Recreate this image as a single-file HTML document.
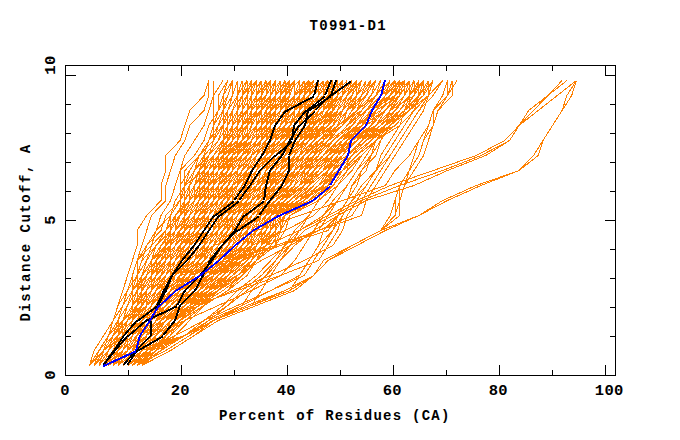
<!DOCTYPE html>
<html><head><meta charset="utf-8"><title>T0991-D1</title>
<style>
html,body{margin:0;padding:0;background:#fff;}
body{width:680px;height:440px;overflow:hidden;position:relative;font-family:"Liberation Mono",monospace;}
svg{position:absolute;left:0;top:0;}
text{font-family:"Liberation Mono",monospace;font-weight:bold;font-size:14px;letter-spacing:1.25px;fill:#000;}
.tk text{font-size:15.5px;letter-spacing:0.35px;}
.yl{letter-spacing:1.5px;}
</style></head><body>
<svg width="680" height="440" viewBox="0 0 680 440">
<rect width="680" height="440" fill="#fff"/>
<g fill="none" stroke="#ff8000" stroke-width="1" shape-rendering="crispEdges">
<path d="M94.2,365.5 L103.7,350.5 L108.5,335.5 L118.0,320.5 L122.8,305.5 L127.6,290.5 L137.1,275.5 L141.9,260.5 L156.2,245.5 L165.8,230.5 L170.6,215.5 L180.1,200.5 L180.1,185.5 L189.7,170.5 L199.2,155.5 L213.5,140.5 L213.5,125.5 L213.5,110.5 L213.5,95.5 L223.1,80.5 M94.2,365.5 L98.9,350.5 L108.5,335.5 L118.0,320.5 L122.8,305.5 L132.4,290.5 L137.1,275.5 L146.7,260.5 L156.2,245.5 L165.8,230.5 L170.6,215.5 L180.1,200.5 L180.1,185.5 L189.7,170.5 L199.2,155.5 L208.8,140.5 L213.5,125.5 L218.3,110.5 L223.1,95.5 L232.6,80.5 M89.4,365.5 L98.9,350.5 L108.5,335.5 L113.2,320.5 L122.8,305.5 L132.4,290.5 L132.4,275.5 L137.1,260.5 L151.4,245.5 L156.2,230.5 L170.6,215.5 L180.1,200.5 L180.1,185.5 L189.7,170.5 L199.2,155.5 L213.5,140.5 L223.1,125.5 L227.9,110.5 L232.6,95.5 L232.6,80.5 M94.2,365.5 L98.9,350.5 L108.5,335.5 L113.2,320.5 L118.0,305.5 L127.6,290.5 L137.1,275.5 L137.1,260.5 L146.7,245.5 L156.2,230.5 L170.6,215.5 L180.1,200.5 L180.1,185.5 L180.1,170.5 L194.4,155.5 L204.0,140.5 L208.8,125.5 L218.3,110.5 L227.9,95.5 L232.6,80.5 M94.2,365.5 L103.7,350.5 L113.2,335.5 L122.8,320.5 L132.4,305.5 L137.1,290.5 L137.1,275.5 L146.7,260.5 L156.2,245.5 L170.6,230.5 L170.6,215.5 L175.3,200.5 L184.9,185.5 L189.7,170.5 L199.2,155.5 L213.5,140.5 L213.5,125.5 L223.1,110.5 L232.6,95.5 L232.6,80.5 M94.2,365.5 L103.7,350.5 L113.2,335.5 L122.8,320.5 L127.6,305.5 L132.4,290.5 L141.9,275.5 L146.7,260.5 L151.4,245.5 L165.8,230.5 L180.1,215.5 L184.9,200.5 L184.9,185.5 L194.4,170.5 L199.2,155.5 L208.8,140.5 L223.1,125.5 L223.1,110.5 L232.6,95.5 L232.6,80.5 M94.2,365.5 L103.7,350.5 L113.2,335.5 L122.8,320.5 L132.4,305.5 L137.1,290.5 L141.9,275.5 L151.4,260.5 L156.2,245.5 L165.8,230.5 L175.3,215.5 L184.9,200.5 L189.7,185.5 L199.2,170.5 L213.5,155.5 L223.1,140.5 L223.1,125.5 L227.9,110.5 L232.6,95.5 L237.4,80.5 M94.2,365.5 L103.7,350.5 L118.0,335.5 L118.0,320.5 L122.8,305.5 L132.4,290.5 L141.9,275.5 L146.7,260.5 L156.2,245.5 L165.8,230.5 L175.3,215.5 L184.9,200.5 L194.4,185.5 L204.0,170.5 L208.8,155.5 L213.5,140.5 L218.3,125.5 L223.1,110.5 L223.1,95.5 L227.9,80.5 M94.2,365.5 L103.7,350.5 L113.2,335.5 L122.8,320.5 L132.4,305.5 L141.9,290.5 L141.9,275.5 L146.7,260.5 L156.2,245.5 L165.8,230.5 L180.1,215.5 L180.1,200.5 L189.7,185.5 L194.4,170.5 L204.0,155.5 L208.8,140.5 L218.3,125.5 L227.9,110.5 L232.6,95.5 L237.4,80.5 M94.2,365.5 L103.7,350.5 L113.2,335.5 L127.6,320.5 L132.4,305.5 L137.1,290.5 L151.4,275.5 L151.4,260.5 L161.0,245.5 L170.6,230.5 L180.1,215.5 L189.7,200.5 L194.4,185.5 L204.0,170.5 L204.0,155.5 L208.8,140.5 L218.3,125.5 L223.1,110.5 L223.1,95.5 L227.9,80.5 M98.9,365.5 L108.5,350.5 L118.0,335.5 L122.8,320.5 L132.4,305.5 L132.4,290.5 L141.9,275.5 L156.2,260.5 L161.0,245.5 L175.3,230.5 L184.9,215.5 L189.7,200.5 L189.7,185.5 L199.2,170.5 L208.8,155.5 L213.5,140.5 L223.1,125.5 L227.9,110.5 L237.4,95.5 L237.4,80.5 M98.9,365.5 L108.5,350.5 L118.0,335.5 L127.6,320.5 L132.4,305.5 L141.9,290.5 L146.7,275.5 L151.4,260.5 L165.8,245.5 L175.3,230.5 L175.3,215.5 L184.9,200.5 L184.9,185.5 L194.4,170.5 L208.8,155.5 L213.5,140.5 L223.1,125.5 L232.6,110.5 L237.4,95.5 L242.2,80.5 M94.2,365.5 L108.5,350.5 L118.0,335.5 L132.4,320.5 L132.4,305.5 L141.9,290.5 L141.9,275.5 L146.7,260.5 L151.4,245.5 L165.8,230.5 L175.3,215.5 L184.9,200.5 L189.7,185.5 L199.2,170.5 L204.0,155.5 L218.3,140.5 L227.9,125.5 L232.6,110.5 L237.4,95.5 L247.0,80.5 M94.2,365.5 L103.7,350.5 L108.5,335.5 L122.8,320.5 L127.6,305.5 L132.4,290.5 L146.7,275.5 L156.2,260.5 L161.0,245.5 L175.3,230.5 L184.9,215.5 L184.9,200.5 L189.7,185.5 L194.4,170.5 L208.8,155.5 L218.3,140.5 L223.1,125.5 L223.1,110.5 L227.9,95.5 L232.6,80.5 M94.2,365.5 L103.7,350.5 L108.5,335.5 L122.8,320.5 L127.6,305.5 L132.4,290.5 L141.9,275.5 L151.4,260.5 L156.2,245.5 L165.8,230.5 L175.3,215.5 L184.9,200.5 L194.4,185.5 L204.0,170.5 L213.5,155.5 L223.1,140.5 L232.6,125.5 L237.4,110.5 L242.2,95.5 L242.2,80.5 M98.9,365.5 L108.5,350.5 L118.0,335.5 L127.6,320.5 L137.1,305.5 L137.1,290.5 L146.7,275.5 L161.0,260.5 L165.8,245.5 L175.3,230.5 L189.7,215.5 L194.4,200.5 L199.2,185.5 L208.8,170.5 L213.5,155.5 L223.1,140.5 L227.9,125.5 L237.4,110.5 L242.2,95.5 L242.2,80.5 M94.2,365.5 L103.7,350.5 L118.0,335.5 L127.6,320.5 L132.4,305.5 L137.1,290.5 L151.4,275.5 L161.0,260.5 L170.6,245.5 L170.6,230.5 L180.1,215.5 L194.4,200.5 L204.0,185.5 L208.8,170.5 L218.3,155.5 L227.9,140.5 L227.9,125.5 L232.6,110.5 L242.2,95.5 L242.2,80.5 M98.9,365.5 L113.2,350.5 L118.0,335.5 L122.8,320.5 L132.4,305.5 L141.9,290.5 L146.7,275.5 L151.4,260.5 L170.6,245.5 L180.1,230.5 L184.9,215.5 L189.7,200.5 L199.2,185.5 L208.8,170.5 L223.1,155.5 L232.6,140.5 L232.6,125.5 L237.4,110.5 L237.4,95.5 L237.4,80.5 M94.2,365.5 L108.5,350.5 L113.2,335.5 L122.8,320.5 L132.4,305.5 L141.9,290.5 L151.4,275.5 L156.2,260.5 L165.8,245.5 L175.3,230.5 L184.9,215.5 L189.7,200.5 L194.4,185.5 L204.0,170.5 L213.5,155.5 L223.1,140.5 L227.9,125.5 L232.6,110.5 L237.4,95.5 L237.4,80.5 M98.9,365.5 L108.5,350.5 L118.0,335.5 L127.6,320.5 L137.1,305.5 L141.9,290.5 L141.9,275.5 L151.4,260.5 L161.0,245.5 L175.3,230.5 L180.1,215.5 L180.1,200.5 L184.9,185.5 L204.0,170.5 L208.8,155.5 L218.3,140.5 L223.1,125.5 L232.6,110.5 L237.4,95.5 L242.2,80.5 M98.9,365.5 L108.5,350.5 L118.0,335.5 L127.6,320.5 L141.9,305.5 L146.7,290.5 L156.2,275.5 L156.2,260.5 L165.8,245.5 L180.1,230.5 L184.9,215.5 L194.4,200.5 L204.0,185.5 L213.5,170.5 L218.3,155.5 L232.6,140.5 L242.2,125.5 L242.2,110.5 L247.0,95.5 L256.5,80.5 M94.2,365.5 L108.5,350.5 L118.0,335.5 L127.6,320.5 L132.4,305.5 L141.9,290.5 L146.7,275.5 L161.0,260.5 L170.6,245.5 L180.1,230.5 L189.7,215.5 L199.2,200.5 L199.2,185.5 L208.8,170.5 L213.5,155.5 L227.9,140.5 L227.9,125.5 L232.6,110.5 L237.4,95.5 L237.4,80.5 M94.2,365.5 L98.9,350.5 L108.5,335.5 L122.8,320.5 L132.4,305.5 L141.9,290.5 L146.7,275.5 L151.4,260.5 L165.8,245.5 L180.1,230.5 L189.7,215.5 L194.4,200.5 L199.2,185.5 L199.2,170.5 L213.5,155.5 L227.9,140.5 L227.9,125.5 L232.6,110.5 L237.4,95.5 L237.4,80.5 M94.2,365.5 L98.9,350.5 L113.2,335.5 L118.0,320.5 L127.6,305.5 L137.1,290.5 L146.7,275.5 L156.2,260.5 L170.6,245.5 L184.9,230.5 L184.9,215.5 L189.7,200.5 L194.4,185.5 L199.2,170.5 L208.8,155.5 L223.1,140.5 L227.9,125.5 L227.9,110.5 L232.6,95.5 L237.4,80.5 M94.2,365.5 L103.7,350.5 L113.2,335.5 L122.8,320.5 L132.4,305.5 L141.9,290.5 L151.4,275.5 L156.2,260.5 L165.8,245.5 L165.8,230.5 L175.3,215.5 L184.9,200.5 L189.7,185.5 L199.2,170.5 L208.8,155.5 L218.3,140.5 L223.1,125.5 L232.6,110.5 L237.4,95.5 L247.0,80.5 M94.2,365.5 L103.7,350.5 L113.2,335.5 L122.8,320.5 L137.1,305.5 L141.9,290.5 L146.7,275.5 L151.4,260.5 L161.0,245.5 L170.6,230.5 L175.3,215.5 L189.7,200.5 L194.4,185.5 L204.0,170.5 L213.5,155.5 L223.1,140.5 L237.4,125.5 L237.4,110.5 L247.0,95.5 L251.7,80.5 M98.9,365.5 L103.7,350.5 L113.2,335.5 L122.8,320.5 L132.4,305.5 L146.7,290.5 L151.4,275.5 L161.0,260.5 L175.3,245.5 L184.9,230.5 L189.7,215.5 L199.2,200.5 L204.0,185.5 L204.0,170.5 L218.3,155.5 L223.1,140.5 L232.6,125.5 L242.2,110.5 L247.0,95.5 L247.0,80.5 M98.9,365.5 L108.5,350.5 L118.0,335.5 L127.6,320.5 L137.1,305.5 L146.7,290.5 L151.4,275.5 L161.0,260.5 L175.3,245.5 L180.1,230.5 L189.7,215.5 L194.4,200.5 L204.0,185.5 L208.8,170.5 L218.3,155.5 L227.9,140.5 L227.9,125.5 L237.4,110.5 L247.0,95.5 L247.0,80.5 M94.2,365.5 L108.5,350.5 L118.0,335.5 L127.6,320.5 L137.1,305.5 L146.7,290.5 L151.4,275.5 L165.8,260.5 L170.6,245.5 L184.9,230.5 L184.9,215.5 L194.4,200.5 L194.4,185.5 L208.8,170.5 L223.1,155.5 L223.1,140.5 L227.9,125.5 L227.9,110.5 L237.4,95.5 L242.2,80.5 M94.2,365.5 L103.7,350.5 L118.0,335.5 L122.8,320.5 L132.4,305.5 L137.1,290.5 L146.7,275.5 L156.2,260.5 L165.8,245.5 L175.3,230.5 L180.1,215.5 L189.7,200.5 L194.4,185.5 L208.8,170.5 L218.3,155.5 L227.9,140.5 L232.6,125.5 L232.6,110.5 L237.4,95.5 L242.2,80.5 M98.9,365.5 L108.5,350.5 L118.0,335.5 L132.4,320.5 L137.1,305.5 L146.7,290.5 L156.2,275.5 L156.2,260.5 L165.8,245.5 L175.3,230.5 L184.9,215.5 L194.4,200.5 L199.2,185.5 L208.8,170.5 L218.3,155.5 L227.9,140.5 L227.9,125.5 L232.6,110.5 L237.4,95.5 L237.4,80.5 M94.2,365.5 L108.5,350.5 L113.2,335.5 L127.6,320.5 L137.1,305.5 L146.7,290.5 L151.4,275.5 L161.0,260.5 L165.8,245.5 L175.3,230.5 L184.9,215.5 L194.4,200.5 L199.2,185.5 L208.8,170.5 L213.5,155.5 L227.9,140.5 L237.4,125.5 L242.2,110.5 L247.0,95.5 L247.0,80.5 M98.9,365.5 L108.5,350.5 L122.8,335.5 L127.6,320.5 L137.1,305.5 L141.9,290.5 L146.7,275.5 L156.2,260.5 L170.6,245.5 L175.3,230.5 L184.9,215.5 L194.4,200.5 L199.2,185.5 L208.8,170.5 L213.5,155.5 L223.1,140.5 L232.6,125.5 L237.4,110.5 L237.4,95.5 L237.4,80.5 M94.2,365.5 L103.7,350.5 L118.0,335.5 L132.4,320.5 L137.1,305.5 L151.4,290.5 L156.2,275.5 L156.2,260.5 L170.6,245.5 L180.1,230.5 L184.9,215.5 L189.7,200.5 L199.2,185.5 L208.8,170.5 L213.5,155.5 L223.1,140.5 L227.9,125.5 L237.4,110.5 L242.2,95.5 L247.0,80.5 M94.2,365.5 L108.5,350.5 L122.8,335.5 L127.6,320.5 L137.1,305.5 L141.9,290.5 L151.4,275.5 L161.0,260.5 L175.3,245.5 L180.1,230.5 L189.7,215.5 L194.4,200.5 L194.4,185.5 L204.0,170.5 L213.5,155.5 L223.1,140.5 L227.9,125.5 L227.9,110.5 L237.4,95.5 L242.2,80.5 M94.2,365.5 L108.5,350.5 L118.0,335.5 L127.6,320.5 L137.1,305.5 L137.1,290.5 L146.7,275.5 L156.2,260.5 L165.8,245.5 L175.3,230.5 L184.9,215.5 L194.4,200.5 L199.2,185.5 L213.5,170.5 L218.3,155.5 L237.4,140.5 L237.4,125.5 L242.2,110.5 L247.0,95.5 L251.7,80.5 M94.2,365.5 L98.9,350.5 L113.2,335.5 L127.6,320.5 L137.1,305.5 L151.4,290.5 L156.2,275.5 L161.0,260.5 L175.3,245.5 L184.9,230.5 L194.4,215.5 L199.2,200.5 L199.2,185.5 L199.2,170.5 L213.5,155.5 L223.1,140.5 L232.6,125.5 L247.0,110.5 L247.0,95.5 L251.7,80.5 M94.2,365.5 L103.7,350.5 L113.2,335.5 L127.6,320.5 L137.1,305.5 L141.9,290.5 L151.4,275.5 L161.0,260.5 L170.6,245.5 L180.1,230.5 L189.7,215.5 L194.4,200.5 L199.2,185.5 L213.5,170.5 L218.3,155.5 L227.9,140.5 L237.4,125.5 L242.2,110.5 L242.2,95.5 L251.7,80.5 M98.9,365.5 L108.5,350.5 L118.0,335.5 L127.6,320.5 L132.4,305.5 L141.9,290.5 L151.4,275.5 L156.2,260.5 L170.6,245.5 L180.1,230.5 L189.7,215.5 L194.4,200.5 L199.2,185.5 L204.0,170.5 L213.5,155.5 L223.1,140.5 L237.4,125.5 L237.4,110.5 L242.2,95.5 L256.5,80.5 M94.2,365.5 L108.5,350.5 L122.8,335.5 L132.4,320.5 L141.9,305.5 L146.7,290.5 L151.4,275.5 L161.0,260.5 L170.6,245.5 L180.1,230.5 L194.4,215.5 L199.2,200.5 L204.0,185.5 L213.5,170.5 L213.5,155.5 L227.9,140.5 L237.4,125.5 L237.4,110.5 L247.0,95.5 L247.0,80.5 M98.9,365.5 L103.7,350.5 L113.2,335.5 L122.8,320.5 L132.4,305.5 L141.9,290.5 L151.4,275.5 L156.2,260.5 L170.6,245.5 L184.9,230.5 L189.7,215.5 L199.2,200.5 L208.8,185.5 L213.5,170.5 L218.3,155.5 L237.4,140.5 L247.0,125.5 L247.0,110.5 L247.0,95.5 L251.7,80.5 M98.9,365.5 L108.5,350.5 L118.0,335.5 L127.6,320.5 L137.1,305.5 L146.7,290.5 L151.4,275.5 L156.2,260.5 L165.8,245.5 L170.6,230.5 L180.1,215.5 L189.7,200.5 L199.2,185.5 L204.0,170.5 L213.5,155.5 L223.1,140.5 L232.6,125.5 L232.6,110.5 L242.2,95.5 L251.7,80.5 M98.9,365.5 L113.2,350.5 L118.0,335.5 L127.6,320.5 L132.4,305.5 L146.7,290.5 L151.4,275.5 L156.2,260.5 L170.6,245.5 L175.3,230.5 L184.9,215.5 L194.4,200.5 L194.4,185.5 L204.0,170.5 L218.3,155.5 L223.1,140.5 L232.6,125.5 L242.2,110.5 L247.0,95.5 L251.7,80.5 M98.9,365.5 L108.5,350.5 L122.8,335.5 L127.6,320.5 L137.1,305.5 L141.9,290.5 L151.4,275.5 L161.0,260.5 L175.3,245.5 L180.1,230.5 L184.9,215.5 L194.4,200.5 L199.2,185.5 L213.5,170.5 L218.3,155.5 L232.6,140.5 L237.4,125.5 L247.0,110.5 L247.0,95.5 L251.7,80.5 M98.9,365.5 L108.5,350.5 L118.0,335.5 L127.6,320.5 L137.1,305.5 L146.7,290.5 L151.4,275.5 L156.2,260.5 L170.6,245.5 L180.1,230.5 L184.9,215.5 L194.4,200.5 L199.2,185.5 L208.8,170.5 L218.3,155.5 L232.6,140.5 L237.4,125.5 L242.2,110.5 L242.2,95.5 L256.5,80.5 M94.2,365.5 L108.5,350.5 L118.0,335.5 L132.4,320.5 L141.9,305.5 L141.9,290.5 L151.4,275.5 L161.0,260.5 L170.6,245.5 L175.3,230.5 L189.7,215.5 L199.2,200.5 L199.2,185.5 L213.5,170.5 L213.5,155.5 L227.9,140.5 L232.6,125.5 L242.2,110.5 L251.7,95.5 L251.7,80.5 M94.2,365.5 L103.7,350.5 L118.0,335.5 L127.6,320.5 L137.1,305.5 L146.7,290.5 L156.2,275.5 L161.0,260.5 L165.8,245.5 L175.3,230.5 L189.7,215.5 L199.2,200.5 L208.8,185.5 L208.8,170.5 L218.3,155.5 L227.9,140.5 L242.2,125.5 L242.2,110.5 L247.0,95.5 L251.7,80.5 M98.9,365.5 L108.5,350.5 L122.8,335.5 L127.6,320.5 L137.1,305.5 L141.9,290.5 L151.4,275.5 L156.2,260.5 L165.8,245.5 L180.1,230.5 L189.7,215.5 L194.4,200.5 L204.0,185.5 L213.5,170.5 L218.3,155.5 L227.9,140.5 L237.4,125.5 L242.2,110.5 L247.0,95.5 L247.0,80.5 M98.9,365.5 L108.5,350.5 L118.0,335.5 L127.6,320.5 L137.1,305.5 L146.7,290.5 L151.4,275.5 L156.2,260.5 L165.8,245.5 L175.3,230.5 L180.1,215.5 L194.4,200.5 L194.4,185.5 L208.8,170.5 L213.5,155.5 L227.9,140.5 L237.4,125.5 L242.2,110.5 L247.0,95.5 L251.7,80.5 M98.9,365.5 L103.7,350.5 L113.2,335.5 L127.6,320.5 L132.4,305.5 L141.9,290.5 L151.4,275.5 L161.0,260.5 L175.3,245.5 L184.9,230.5 L189.7,215.5 L199.2,200.5 L204.0,185.5 L208.8,170.5 L218.3,155.5 L223.1,140.5 L232.6,125.5 L237.4,110.5 L242.2,95.5 L247.0,80.5 M98.9,365.5 L108.5,350.5 L122.8,335.5 L127.6,320.5 L137.1,305.5 L137.1,290.5 L151.4,275.5 L165.8,260.5 L165.8,245.5 L180.1,230.5 L189.7,215.5 L194.4,200.5 L204.0,185.5 L204.0,170.5 L218.3,155.5 L227.9,140.5 L237.4,125.5 L242.2,110.5 L247.0,95.5 L251.7,80.5 M98.9,365.5 L108.5,350.5 L113.2,335.5 L122.8,320.5 L137.1,305.5 L146.7,290.5 L151.4,275.5 L161.0,260.5 L170.6,245.5 L180.1,230.5 L194.4,215.5 L208.8,200.5 L208.8,185.5 L208.8,170.5 L218.3,155.5 L237.4,140.5 L242.2,125.5 L251.7,110.5 L251.7,95.5 L251.7,80.5 M98.9,365.5 L108.5,350.5 L113.2,335.5 L122.8,320.5 L141.9,305.5 L151.4,290.5 L156.2,275.5 L161.0,260.5 L170.6,245.5 L180.1,230.5 L189.7,215.5 L199.2,200.5 L199.2,185.5 L213.5,170.5 L218.3,155.5 L232.6,140.5 L237.4,125.5 L242.2,110.5 L247.0,95.5 L251.7,80.5 M94.2,365.5 L98.9,350.5 L108.5,335.5 L122.8,320.5 L132.4,305.5 L141.9,290.5 L151.4,275.5 L161.0,260.5 L170.6,245.5 L175.3,230.5 L180.1,215.5 L189.7,200.5 L199.2,185.5 L213.5,170.5 L218.3,155.5 L227.9,140.5 L237.4,125.5 L242.2,110.5 L251.7,95.5 L256.5,80.5 M98.9,365.5 L113.2,350.5 L118.0,335.5 L127.6,320.5 L137.1,305.5 L141.9,290.5 L156.2,275.5 L165.8,260.5 L175.3,245.5 L184.9,230.5 L194.4,215.5 L204.0,200.5 L213.5,185.5 L213.5,170.5 L218.3,155.5 L232.6,140.5 L242.2,125.5 L247.0,110.5 L247.0,95.5 L251.7,80.5 M98.9,365.5 L103.7,350.5 L118.0,335.5 L127.6,320.5 L137.1,305.5 L151.4,290.5 L161.0,275.5 L165.8,260.5 L175.3,245.5 L184.9,230.5 L194.4,215.5 L204.0,200.5 L213.5,185.5 L218.3,170.5 L227.9,155.5 L232.6,140.5 L242.2,125.5 L251.7,110.5 L251.7,95.5 L251.7,80.5 M98.9,365.5 L108.5,350.5 L118.0,335.5 L132.4,320.5 L141.9,305.5 L151.4,290.5 L156.2,275.5 L161.0,260.5 L175.3,245.5 L184.9,230.5 L189.7,215.5 L199.2,200.5 L204.0,185.5 L208.8,170.5 L218.3,155.5 L232.6,140.5 L237.4,125.5 L242.2,110.5 L247.0,95.5 L256.5,80.5 M98.9,365.5 L103.7,350.5 L113.2,335.5 L122.8,320.5 L132.4,305.5 L141.9,290.5 L151.4,275.5 L156.2,260.5 L165.8,245.5 L184.9,230.5 L194.4,215.5 L199.2,200.5 L204.0,185.5 L213.5,170.5 L223.1,155.5 L232.6,140.5 L237.4,125.5 L237.4,110.5 L242.2,95.5 L247.0,80.5 M98.9,365.5 L108.5,350.5 L118.0,335.5 L132.4,320.5 L137.1,305.5 L141.9,290.5 L146.7,275.5 L151.4,260.5 L161.0,245.5 L175.3,230.5 L184.9,215.5 L189.7,200.5 L194.4,185.5 L208.8,170.5 L213.5,155.5 L227.9,140.5 L237.4,125.5 L247.0,110.5 L256.5,95.5 L261.3,80.5 M98.9,365.5 L108.5,350.5 L122.8,335.5 L137.1,320.5 L141.9,305.5 L151.4,290.5 L156.2,275.5 L165.8,260.5 L170.6,245.5 L180.1,230.5 L184.9,215.5 L189.7,200.5 L204.0,185.5 L213.5,170.5 L218.3,155.5 L232.6,140.5 L242.2,125.5 L242.2,110.5 L251.7,95.5 L261.3,80.5 M103.7,365.5 L108.5,350.5 L122.8,335.5 L132.4,320.5 L141.9,305.5 L146.7,290.5 L156.2,275.5 L161.0,260.5 L165.8,245.5 L175.3,230.5 L184.9,215.5 L194.4,200.5 L204.0,185.5 L213.5,170.5 L223.1,155.5 L227.9,140.5 L237.4,125.5 L247.0,110.5 L251.7,95.5 L256.5,80.5 M98.9,365.5 L113.2,350.5 L118.0,335.5 L132.4,320.5 L141.9,305.5 L146.7,290.5 L156.2,275.5 L161.0,260.5 L175.3,245.5 L184.9,230.5 L184.9,215.5 L199.2,200.5 L204.0,185.5 L213.5,170.5 L223.1,155.5 L232.6,140.5 L237.4,125.5 L242.2,110.5 L251.7,95.5 L251.7,80.5 M98.9,365.5 L108.5,350.5 L122.8,335.5 L122.8,320.5 L137.1,305.5 L146.7,290.5 L151.4,275.5 L161.0,260.5 L170.6,245.5 L184.9,230.5 L189.7,215.5 L204.0,200.5 L208.8,185.5 L223.1,170.5 L227.9,155.5 L237.4,140.5 L242.2,125.5 L242.2,110.5 L251.7,95.5 L261.3,80.5 M103.7,365.5 L113.2,350.5 L122.8,335.5 L127.6,320.5 L137.1,305.5 L141.9,290.5 L151.4,275.5 L161.0,260.5 L170.6,245.5 L180.1,230.5 L189.7,215.5 L199.2,200.5 L204.0,185.5 L218.3,170.5 L227.9,155.5 L232.6,140.5 L237.4,125.5 L247.0,110.5 L251.7,95.5 L261.3,80.5 M94.2,365.5 L108.5,350.5 L118.0,335.5 L122.8,320.5 L132.4,305.5 L146.7,290.5 L156.2,275.5 L170.6,260.5 L175.3,245.5 L180.1,230.5 L189.7,215.5 L204.0,200.5 L208.8,185.5 L213.5,170.5 L223.1,155.5 L237.4,140.5 L242.2,125.5 L247.0,110.5 L251.7,95.5 L261.3,80.5 M98.9,365.5 L103.7,350.5 L118.0,335.5 L127.6,320.5 L137.1,305.5 L146.7,290.5 L156.2,275.5 L161.0,260.5 L170.6,245.5 L184.9,230.5 L194.4,215.5 L204.0,200.5 L213.5,185.5 L223.1,170.5 L232.6,155.5 L242.2,140.5 L251.7,125.5 L251.7,110.5 L256.5,95.5 L256.5,80.5 M98.9,365.5 L113.2,350.5 L122.8,335.5 L132.4,320.5 L141.9,305.5 L151.4,290.5 L151.4,275.5 L165.8,260.5 L170.6,245.5 L180.1,230.5 L184.9,215.5 L194.4,200.5 L204.0,185.5 L218.3,170.5 L218.3,155.5 L232.6,140.5 L242.2,125.5 L247.0,110.5 L247.0,95.5 L251.7,80.5 M98.9,365.5 L108.5,350.5 L118.0,335.5 L122.8,320.5 L137.1,305.5 L141.9,290.5 L151.4,275.5 L161.0,260.5 L170.6,245.5 L175.3,230.5 L184.9,215.5 L199.2,200.5 L208.8,185.5 L218.3,170.5 L227.9,155.5 L232.6,140.5 L237.4,125.5 L242.2,110.5 L247.0,95.5 L251.7,80.5 M98.9,365.5 L108.5,350.5 L118.0,335.5 L122.8,320.5 L137.1,305.5 L146.7,290.5 L156.2,275.5 L161.0,260.5 L165.8,245.5 L180.1,230.5 L189.7,215.5 L199.2,200.5 L208.8,185.5 L223.1,170.5 L232.6,155.5 L237.4,140.5 L247.0,125.5 L251.7,110.5 L251.7,95.5 L256.5,80.5 M94.2,365.5 L108.5,350.5 L118.0,335.5 L127.6,320.5 L132.4,305.5 L146.7,290.5 L156.2,275.5 L165.8,260.5 L170.6,245.5 L184.9,230.5 L199.2,215.5 L213.5,200.5 L213.5,185.5 L223.1,170.5 L227.9,155.5 L242.2,140.5 L247.0,125.5 L251.7,110.5 L251.7,95.5 L261.3,80.5 M98.9,365.5 L108.5,350.5 L122.8,335.5 L137.1,320.5 L146.7,305.5 L151.4,290.5 L161.0,275.5 L170.6,260.5 L175.3,245.5 L189.7,230.5 L199.2,215.5 L208.8,200.5 L213.5,185.5 L218.3,170.5 L223.1,155.5 L232.6,140.5 L242.2,125.5 L256.5,110.5 L256.5,95.5 L266.1,80.5 M98.9,365.5 L108.5,350.5 L118.0,335.5 L127.6,320.5 L137.1,305.5 L146.7,290.5 L156.2,275.5 L161.0,260.5 L175.3,245.5 L180.1,230.5 L189.7,215.5 L199.2,200.5 L204.0,185.5 L213.5,170.5 L227.9,155.5 L237.4,140.5 L242.2,125.5 L251.7,110.5 L256.5,95.5 L261.3,80.5 M98.9,365.5 L108.5,350.5 L118.0,335.5 L127.6,320.5 L141.9,305.5 L146.7,290.5 L161.0,275.5 L170.6,260.5 L180.1,245.5 L184.9,230.5 L199.2,215.5 L208.8,200.5 L213.5,185.5 L218.3,170.5 L232.6,155.5 L242.2,140.5 L247.0,125.5 L247.0,110.5 L256.5,95.5 L261.3,80.5 M98.9,365.5 L113.2,350.5 L122.8,335.5 L132.4,320.5 L146.7,305.5 L151.4,290.5 L161.0,275.5 L170.6,260.5 L175.3,245.5 L180.1,230.5 L189.7,215.5 L194.4,200.5 L204.0,185.5 L208.8,170.5 L218.3,155.5 L237.4,140.5 L237.4,125.5 L242.2,110.5 L242.2,95.5 L256.5,80.5 M98.9,365.5 L108.5,350.5 L118.0,335.5 L132.4,320.5 L141.9,305.5 L146.7,290.5 L156.2,275.5 L165.8,260.5 L170.6,245.5 L180.1,230.5 L184.9,215.5 L194.4,200.5 L208.8,185.5 L218.3,170.5 L223.1,155.5 L232.6,140.5 L237.4,125.5 L237.4,110.5 L247.0,95.5 L256.5,80.5 M98.9,365.5 L108.5,350.5 L118.0,335.5 L127.6,320.5 L141.9,305.5 L151.4,290.5 L156.2,275.5 L156.2,260.5 L165.8,245.5 L184.9,230.5 L189.7,215.5 L199.2,200.5 L208.8,185.5 L213.5,170.5 L223.1,155.5 L227.9,140.5 L237.4,125.5 L247.0,110.5 L251.7,95.5 L261.3,80.5 M94.2,365.5 L108.5,350.5 L118.0,335.5 L132.4,320.5 L137.1,305.5 L146.7,290.5 L156.2,275.5 L165.8,260.5 L175.3,245.5 L184.9,230.5 L189.7,215.5 L199.2,200.5 L199.2,185.5 L208.8,170.5 L218.3,155.5 L223.1,140.5 L232.6,125.5 L247.0,110.5 L251.7,95.5 L261.3,80.5 M98.9,365.5 L103.7,350.5 L122.8,335.5 L132.4,320.5 L141.9,305.5 L146.7,290.5 L161.0,275.5 L165.8,260.5 L180.1,245.5 L189.7,230.5 L199.2,215.5 L204.0,200.5 L208.8,185.5 L213.5,170.5 L223.1,155.5 L232.6,140.5 L237.4,125.5 L242.2,110.5 L247.0,95.5 L251.7,80.5 M98.9,365.5 L108.5,350.5 L118.0,335.5 L127.6,320.5 L137.1,305.5 L146.7,290.5 L156.2,275.5 L165.8,260.5 L175.3,245.5 L180.1,230.5 L189.7,215.5 L194.4,200.5 L208.8,185.5 L208.8,170.5 L218.3,155.5 L232.6,140.5 L237.4,125.5 L247.0,110.5 L251.7,95.5 L261.3,80.5 M98.9,365.5 L103.7,350.5 L118.0,335.5 L132.4,320.5 L141.9,305.5 L151.4,290.5 L161.0,275.5 L165.8,260.5 L175.3,245.5 L184.9,230.5 L194.4,215.5 L204.0,200.5 L204.0,185.5 L208.8,170.5 L223.1,155.5 L237.4,140.5 L242.2,125.5 L247.0,110.5 L251.7,95.5 L256.5,80.5 M98.9,365.5 L113.2,350.5 L122.8,335.5 L132.4,320.5 L146.7,305.5 L156.2,290.5 L170.6,275.5 L175.3,260.5 L184.9,245.5 L189.7,230.5 L199.2,215.5 L204.0,200.5 L208.8,185.5 L218.3,170.5 L232.6,155.5 L242.2,140.5 L247.0,125.5 L247.0,110.5 L251.7,95.5 L256.5,80.5 M98.9,365.5 L108.5,350.5 L113.2,335.5 L127.6,320.5 L137.1,305.5 L151.4,290.5 L161.0,275.5 L165.8,260.5 L180.1,245.5 L189.7,230.5 L199.2,215.5 L204.0,200.5 L208.8,185.5 L223.1,170.5 L232.6,155.5 L247.0,140.5 L251.7,125.5 L256.5,110.5 L256.5,95.5 L266.1,80.5 M98.9,365.5 L108.5,350.5 L122.8,335.5 L137.1,320.5 L141.9,305.5 L151.4,290.5 L156.2,275.5 L165.8,260.5 L170.6,245.5 L184.9,230.5 L199.2,215.5 L204.0,200.5 L208.8,185.5 L218.3,170.5 L232.6,155.5 L247.0,140.5 L247.0,125.5 L247.0,110.5 L251.7,95.5 L261.3,80.5 M103.7,365.5 L113.2,350.5 L122.8,335.5 L132.4,320.5 L137.1,305.5 L146.7,290.5 L156.2,275.5 L165.8,260.5 L170.6,245.5 L180.1,230.5 L189.7,215.5 L199.2,200.5 L208.8,185.5 L218.3,170.5 L223.1,155.5 L237.4,140.5 L247.0,125.5 L247.0,110.5 L261.3,95.5 L266.1,80.5 M103.7,365.5 L108.5,350.5 L118.0,335.5 L127.6,320.5 L141.9,305.5 L146.7,290.5 L151.4,275.5 L156.2,260.5 L170.6,245.5 L184.9,230.5 L184.9,215.5 L199.2,200.5 L208.8,185.5 L223.1,170.5 L232.6,155.5 L237.4,140.5 L242.2,125.5 L247.0,110.5 L251.7,95.5 L256.5,80.5 M98.9,365.5 L113.2,350.5 L122.8,335.5 L132.4,320.5 L146.7,305.5 L156.2,290.5 L161.0,275.5 L165.8,260.5 L170.6,245.5 L180.1,230.5 L194.4,215.5 L199.2,200.5 L204.0,185.5 L213.5,170.5 L227.9,155.5 L237.4,140.5 L247.0,125.5 L256.5,110.5 L261.3,95.5 L266.1,80.5 M98.9,365.5 L113.2,350.5 L122.8,335.5 L132.4,320.5 L146.7,305.5 L151.4,290.5 L161.0,275.5 L170.6,260.5 L180.1,245.5 L189.7,230.5 L194.4,215.5 L204.0,200.5 L208.8,185.5 L218.3,170.5 L237.4,155.5 L247.0,140.5 L251.7,125.5 L256.5,110.5 L256.5,95.5 L261.3,80.5 M98.9,365.5 L108.5,350.5 L122.8,335.5 L132.4,320.5 L146.7,305.5 L146.7,290.5 L156.2,275.5 L165.8,260.5 L175.3,245.5 L189.7,230.5 L199.2,215.5 L204.0,200.5 L204.0,185.5 L213.5,170.5 L218.3,155.5 L232.6,140.5 L242.2,125.5 L247.0,110.5 L251.7,95.5 L256.5,80.5 M103.7,365.5 L118.0,350.5 L127.6,335.5 L137.1,320.5 L141.9,305.5 L146.7,290.5 L156.2,275.5 L161.0,260.5 L170.6,245.5 L184.9,230.5 L204.0,215.5 L208.8,200.5 L213.5,185.5 L223.1,170.5 L227.9,155.5 L242.2,140.5 L256.5,125.5 L256.5,110.5 L261.3,95.5 L261.3,80.5 M103.7,365.5 L108.5,350.5 L118.0,335.5 L122.8,320.5 L137.1,305.5 L146.7,290.5 L156.2,275.5 L161.0,260.5 L170.6,245.5 L180.1,230.5 L184.9,215.5 L194.4,200.5 L208.8,185.5 L218.3,170.5 L227.9,155.5 L242.2,140.5 L247.0,125.5 L251.7,110.5 L256.5,95.5 L266.1,80.5 M98.9,365.5 L113.2,350.5 L122.8,335.5 L132.4,320.5 L146.7,305.5 L156.2,290.5 L161.0,275.5 L175.3,260.5 L189.7,245.5 L189.7,230.5 L199.2,215.5 L208.8,200.5 L223.1,185.5 L232.6,170.5 L237.4,155.5 L242.2,140.5 L247.0,125.5 L251.7,110.5 L261.3,95.5 L261.3,80.5 M98.9,365.5 L108.5,350.5 L122.8,335.5 L132.4,320.5 L141.9,305.5 L146.7,290.5 L161.0,275.5 L170.6,260.5 L180.1,245.5 L194.4,230.5 L199.2,215.5 L208.8,200.5 L218.3,185.5 L223.1,170.5 L232.6,155.5 L247.0,140.5 L247.0,125.5 L261.3,110.5 L270.8,95.5 L280.4,80.5 M103.7,365.5 L118.0,350.5 L122.8,335.5 L132.4,320.5 L141.9,305.5 L151.4,290.5 L161.0,275.5 L170.6,260.5 L175.3,245.5 L189.7,230.5 L204.0,215.5 L213.5,200.5 L218.3,185.5 L227.9,170.5 L232.6,155.5 L242.2,140.5 L247.0,125.5 L251.7,110.5 L256.5,95.5 L261.3,80.5 M103.7,365.5 L108.5,350.5 L122.8,335.5 L132.4,320.5 L141.9,305.5 L151.4,290.5 L161.0,275.5 L170.6,260.5 L180.1,245.5 L189.7,230.5 L194.4,215.5 L204.0,200.5 L213.5,185.5 L227.9,170.5 L232.6,155.5 L242.2,140.5 L247.0,125.5 L256.5,110.5 L256.5,95.5 L261.3,80.5 M98.9,365.5 L113.2,350.5 L122.8,335.5 L127.6,320.5 L141.9,305.5 L146.7,290.5 L156.2,275.5 L165.8,260.5 L175.3,245.5 L184.9,230.5 L194.4,215.5 L204.0,200.5 L213.5,185.5 L218.3,170.5 L232.6,155.5 L237.4,140.5 L242.2,125.5 L251.7,110.5 L261.3,95.5 L261.3,80.5 M103.7,365.5 L113.2,350.5 L122.8,335.5 L137.1,320.5 L146.7,305.5 L156.2,290.5 L161.0,275.5 L170.6,260.5 L184.9,245.5 L194.4,230.5 L194.4,215.5 L208.8,200.5 L218.3,185.5 L227.9,170.5 L237.4,155.5 L237.4,140.5 L247.0,125.5 L256.5,110.5 L256.5,95.5 L266.1,80.5 M103.7,365.5 L118.0,350.5 L127.6,335.5 L137.1,320.5 L141.9,305.5 L151.4,290.5 L161.0,275.5 L165.8,260.5 L180.1,245.5 L189.7,230.5 L199.2,215.5 L208.8,200.5 L213.5,185.5 L227.9,170.5 L237.4,155.5 L247.0,140.5 L251.7,125.5 L251.7,110.5 L266.1,95.5 L270.8,80.5 M98.9,365.5 L108.5,350.5 L122.8,335.5 L132.4,320.5 L141.9,305.5 L151.4,290.5 L161.0,275.5 L170.6,260.5 L175.3,245.5 L184.9,230.5 L194.4,215.5 L208.8,200.5 L213.5,185.5 L223.1,170.5 L223.1,155.5 L232.6,140.5 L247.0,125.5 L256.5,110.5 L261.3,95.5 L266.1,80.5 M103.7,365.5 L108.5,350.5 L118.0,335.5 L132.4,320.5 L141.9,305.5 L151.4,290.5 L156.2,275.5 L170.6,260.5 L180.1,245.5 L184.9,230.5 L194.4,215.5 L208.8,200.5 L208.8,185.5 L223.1,170.5 L232.6,155.5 L237.4,140.5 L247.0,125.5 L247.0,110.5 L261.3,95.5 L266.1,80.5 M108.5,365.5 L113.2,350.5 L122.8,335.5 L137.1,320.5 L141.9,305.5 L151.4,290.5 L161.0,275.5 L165.8,260.5 L175.3,245.5 L189.7,230.5 L199.2,215.5 L208.8,200.5 L218.3,185.5 L223.1,170.5 L237.4,155.5 L242.2,140.5 L251.7,125.5 L251.7,110.5 L261.3,95.5 L266.1,80.5 M98.9,365.5 L108.5,350.5 L122.8,335.5 L132.4,320.5 L137.1,305.5 L146.7,290.5 L156.2,275.5 L165.8,260.5 L170.6,245.5 L184.9,230.5 L194.4,215.5 L204.0,200.5 L208.8,185.5 L223.1,170.5 L237.4,155.5 L247.0,140.5 L256.5,125.5 L261.3,110.5 L266.1,95.5 L270.8,80.5 M98.9,365.5 L113.2,350.5 L122.8,335.5 L137.1,320.5 L141.9,305.5 L156.2,290.5 L161.0,275.5 L170.6,260.5 L184.9,245.5 L194.4,230.5 L204.0,215.5 L208.8,200.5 L208.8,185.5 L218.3,170.5 L227.9,155.5 L247.0,140.5 L247.0,125.5 L256.5,110.5 L261.3,95.5 L261.3,80.5 M103.7,365.5 L113.2,350.5 L122.8,335.5 L137.1,320.5 L141.9,305.5 L156.2,290.5 L165.8,275.5 L170.6,260.5 L184.9,245.5 L189.7,230.5 L194.4,215.5 L204.0,200.5 L208.8,185.5 L227.9,170.5 L232.6,155.5 L251.7,140.5 L256.5,125.5 L261.3,110.5 L270.8,95.5 L270.8,80.5 M103.7,365.5 L113.2,350.5 L122.8,335.5 L132.4,320.5 L146.7,305.5 L156.2,290.5 L165.8,275.5 L170.6,260.5 L184.9,245.5 L194.4,230.5 L199.2,215.5 L213.5,200.5 L213.5,185.5 L218.3,170.5 L227.9,155.5 L237.4,140.5 L247.0,125.5 L247.0,110.5 L256.5,95.5 L261.3,80.5 M103.7,365.5 L108.5,350.5 L122.8,335.5 L132.4,320.5 L141.9,305.5 L151.4,290.5 L161.0,275.5 L165.8,260.5 L170.6,245.5 L184.9,230.5 L189.7,215.5 L199.2,200.5 L213.5,185.5 L213.5,170.5 L223.1,155.5 L232.6,140.5 L242.2,125.5 L251.7,110.5 L256.5,95.5 L261.3,80.5 M98.9,365.5 L113.2,350.5 L122.8,335.5 L132.4,320.5 L146.7,305.5 L151.4,290.5 L156.2,275.5 L165.8,260.5 L180.1,245.5 L189.7,230.5 L199.2,215.5 L213.5,200.5 L218.3,185.5 L223.1,170.5 L237.4,155.5 L242.2,140.5 L256.5,125.5 L256.5,110.5 L266.1,95.5 L266.1,80.5 M98.9,365.5 L113.2,350.5 L122.8,335.5 L132.4,320.5 L141.9,305.5 L151.4,290.5 L165.8,275.5 L170.6,260.5 L170.6,245.5 L180.1,230.5 L189.7,215.5 L199.2,200.5 L208.8,185.5 L218.3,170.5 L223.1,155.5 L242.2,140.5 L242.2,125.5 L261.3,110.5 L261.3,95.5 L266.1,80.5 M103.7,365.5 L118.0,350.5 L122.8,335.5 L137.1,320.5 L141.9,305.5 L146.7,290.5 L161.0,275.5 L170.6,260.5 L175.3,245.5 L189.7,230.5 L199.2,215.5 L208.8,200.5 L208.8,185.5 L218.3,170.5 L232.6,155.5 L247.0,140.5 L256.5,125.5 L261.3,110.5 L266.1,95.5 L270.8,80.5 M103.7,365.5 L113.2,350.5 L127.6,335.5 L132.4,320.5 L141.9,305.5 L151.4,290.5 L161.0,275.5 L170.6,260.5 L180.1,245.5 L189.7,230.5 L199.2,215.5 L208.8,200.5 L213.5,185.5 L218.3,170.5 L223.1,155.5 L247.0,140.5 L251.7,125.5 L256.5,110.5 L256.5,95.5 L266.1,80.5 M103.7,365.5 L118.0,350.5 L127.6,335.5 L137.1,320.5 L146.7,305.5 L151.4,290.5 L161.0,275.5 L170.6,260.5 L175.3,245.5 L189.7,230.5 L194.4,215.5 L208.8,200.5 L208.8,185.5 L218.3,170.5 L223.1,155.5 L237.4,140.5 L247.0,125.5 L256.5,110.5 L261.3,95.5 L266.1,80.5 M103.7,365.5 L113.2,350.5 L122.8,335.5 L132.4,320.5 L137.1,305.5 L146.7,290.5 L156.2,275.5 L170.6,260.5 L180.1,245.5 L189.7,230.5 L194.4,215.5 L204.0,200.5 L213.5,185.5 L223.1,170.5 L237.4,155.5 L251.7,140.5 L256.5,125.5 L256.5,110.5 L261.3,95.5 L270.8,80.5 M108.5,365.5 L118.0,350.5 L122.8,335.5 L132.4,320.5 L137.1,305.5 L151.4,290.5 L161.0,275.5 L170.6,260.5 L184.9,245.5 L194.4,230.5 L199.2,215.5 L213.5,200.5 L218.3,185.5 L227.9,170.5 L227.9,155.5 L237.4,140.5 L237.4,125.5 L247.0,110.5 L256.5,95.5 L270.8,80.5 M103.7,365.5 L113.2,350.5 L122.8,335.5 L137.1,320.5 L141.9,305.5 L151.4,290.5 L161.0,275.5 L170.6,260.5 L180.1,245.5 L194.4,230.5 L204.0,215.5 L213.5,200.5 L218.3,185.5 L223.1,170.5 L232.6,155.5 L242.2,140.5 L247.0,125.5 L256.5,110.5 L270.8,95.5 L275.6,80.5 M103.7,365.5 L113.2,350.5 L127.6,335.5 L137.1,320.5 L146.7,305.5 L156.2,290.5 L165.8,275.5 L170.6,260.5 L184.9,245.5 L194.4,230.5 L204.0,215.5 L213.5,200.5 L223.1,185.5 L227.9,170.5 L227.9,155.5 L242.2,140.5 L251.7,125.5 L256.5,110.5 L261.3,95.5 L270.8,80.5 M98.9,365.5 L113.2,350.5 L127.6,335.5 L141.9,320.5 L146.7,305.5 L156.2,290.5 L165.8,275.5 L170.6,260.5 L180.1,245.5 L189.7,230.5 L204.0,215.5 L208.8,200.5 L213.5,185.5 L227.9,170.5 L232.6,155.5 L242.2,140.5 L251.7,125.5 L256.5,110.5 L261.3,95.5 L266.1,80.5 M103.7,365.5 L118.0,350.5 L122.8,335.5 L137.1,320.5 L146.7,305.5 L151.4,290.5 L161.0,275.5 L170.6,260.5 L184.9,245.5 L199.2,230.5 L204.0,215.5 L213.5,200.5 L223.1,185.5 L232.6,170.5 L237.4,155.5 L251.7,140.5 L256.5,125.5 L261.3,110.5 L266.1,95.5 L275.6,80.5 M103.7,365.5 L118.0,350.5 L127.6,335.5 L137.1,320.5 L151.4,305.5 L156.2,290.5 L170.6,275.5 L170.6,260.5 L184.9,245.5 L194.4,230.5 L208.8,215.5 L213.5,200.5 L218.3,185.5 L223.1,170.5 L232.6,155.5 L247.0,140.5 L251.7,125.5 L256.5,110.5 L266.1,95.5 L266.1,80.5 M103.7,365.5 L113.2,350.5 L127.6,335.5 L141.9,320.5 L146.7,305.5 L151.4,290.5 L165.8,275.5 L170.6,260.5 L184.9,245.5 L194.4,230.5 L199.2,215.5 L213.5,200.5 L223.1,185.5 L232.6,170.5 L237.4,155.5 L247.0,140.5 L256.5,125.5 L256.5,110.5 L266.1,95.5 L266.1,80.5 M98.9,365.5 L113.2,350.5 L122.8,335.5 L137.1,320.5 L146.7,305.5 L151.4,290.5 L161.0,275.5 L170.6,260.5 L184.9,245.5 L189.7,230.5 L204.0,215.5 L213.5,200.5 L223.1,185.5 L232.6,170.5 L242.2,155.5 L256.5,140.5 L261.3,125.5 L266.1,110.5 L270.8,95.5 L270.8,80.5 M103.7,365.5 L108.5,350.5 L122.8,335.5 L132.4,320.5 L146.7,305.5 L156.2,290.5 L165.8,275.5 L175.3,260.5 L184.9,245.5 L189.7,230.5 L194.4,215.5 L204.0,200.5 L218.3,185.5 L227.9,170.5 L232.6,155.5 L247.0,140.5 L256.5,125.5 L261.3,110.5 L266.1,95.5 L270.8,80.5 M103.7,365.5 L108.5,350.5 L122.8,335.5 L137.1,320.5 L151.4,305.5 L156.2,290.5 L165.8,275.5 L170.6,260.5 L184.9,245.5 L194.4,230.5 L199.2,215.5 L213.5,200.5 L218.3,185.5 L227.9,170.5 L237.4,155.5 L242.2,140.5 L251.7,125.5 L261.3,110.5 L266.1,95.5 L270.8,80.5 M103.7,365.5 L113.2,350.5 L122.8,335.5 L141.9,320.5 L151.4,305.5 L161.0,290.5 L165.8,275.5 L180.1,260.5 L184.9,245.5 L189.7,230.5 L204.0,215.5 L213.5,200.5 L218.3,185.5 L227.9,170.5 L237.4,155.5 L242.2,140.5 L251.7,125.5 L261.3,110.5 L266.1,95.5 L275.6,80.5 M103.7,365.5 L118.0,350.5 L127.6,335.5 L141.9,320.5 L146.7,305.5 L156.2,290.5 L165.8,275.5 L175.3,260.5 L184.9,245.5 L194.4,230.5 L204.0,215.5 L213.5,200.5 L223.1,185.5 L232.6,170.5 L242.2,155.5 L256.5,140.5 L266.1,125.5 L266.1,110.5 L275.6,95.5 L280.4,80.5 M103.7,365.5 L113.2,350.5 L122.8,335.5 L137.1,320.5 L151.4,305.5 L156.2,290.5 L161.0,275.5 L165.8,260.5 L180.1,245.5 L189.7,230.5 L199.2,215.5 L208.8,200.5 L223.1,185.5 L232.6,170.5 L242.2,155.5 L247.0,140.5 L256.5,125.5 L266.1,110.5 L275.6,95.5 L275.6,80.5 M103.7,365.5 L118.0,350.5 L132.4,335.5 L137.1,320.5 L146.7,305.5 L156.2,290.5 L165.8,275.5 L175.3,260.5 L180.1,245.5 L194.4,230.5 L199.2,215.5 L213.5,200.5 L218.3,185.5 L227.9,170.5 L232.6,155.5 L242.2,140.5 L256.5,125.5 L256.5,110.5 L270.8,95.5 L270.8,80.5 M103.7,365.5 L113.2,350.5 L127.6,335.5 L137.1,320.5 L146.7,305.5 L156.2,290.5 L165.8,275.5 L170.6,260.5 L175.3,245.5 L189.7,230.5 L199.2,215.5 L213.5,200.5 L218.3,185.5 L227.9,170.5 L237.4,155.5 L247.0,140.5 L256.5,125.5 L261.3,110.5 L266.1,95.5 L270.8,80.5 M103.7,365.5 L118.0,350.5 L127.6,335.5 L137.1,320.5 L146.7,305.5 L156.2,290.5 L165.8,275.5 L170.6,260.5 L180.1,245.5 L189.7,230.5 L199.2,215.5 L213.5,200.5 L218.3,185.5 L227.9,170.5 L237.4,155.5 L247.0,140.5 L256.5,125.5 L266.1,110.5 L280.4,95.5 L280.4,80.5 M108.5,365.5 L113.2,350.5 L127.6,335.5 L137.1,320.5 L146.7,305.5 L156.2,290.5 L165.8,275.5 L170.6,260.5 L180.1,245.5 L194.4,230.5 L204.0,215.5 L213.5,200.5 L218.3,185.5 L227.9,170.5 L232.6,155.5 L251.7,140.5 L261.3,125.5 L266.1,110.5 L270.8,95.5 L270.8,80.5 M108.5,365.5 L118.0,350.5 L127.6,335.5 L137.1,320.5 L146.7,305.5 L156.2,290.5 L165.8,275.5 L170.6,260.5 L184.9,245.5 L194.4,230.5 L208.8,215.5 L213.5,200.5 L223.1,185.5 L237.4,170.5 L242.2,155.5 L251.7,140.5 L256.5,125.5 L261.3,110.5 L266.1,95.5 L270.8,80.5 M103.7,365.5 L118.0,350.5 L132.4,335.5 L141.9,320.5 L151.4,305.5 L156.2,290.5 L165.8,275.5 L175.3,260.5 L180.1,245.5 L194.4,230.5 L199.2,215.5 L208.8,200.5 L218.3,185.5 L223.1,170.5 L242.2,155.5 L251.7,140.5 L261.3,125.5 L270.8,110.5 L275.6,95.5 L280.4,80.5 M108.5,365.5 L118.0,350.5 L127.6,335.5 L137.1,320.5 L146.7,305.5 L156.2,290.5 L165.8,275.5 L175.3,260.5 L189.7,245.5 L199.2,230.5 L208.8,215.5 L218.3,200.5 L223.1,185.5 L227.9,170.5 L242.2,155.5 L247.0,140.5 L261.3,125.5 L261.3,110.5 L275.6,95.5 L275.6,80.5 M108.5,365.5 L118.0,350.5 L127.6,335.5 L141.9,320.5 L146.7,305.5 L151.4,290.5 L165.8,275.5 L175.3,260.5 L184.9,245.5 L189.7,230.5 L199.2,215.5 L208.8,200.5 L218.3,185.5 L227.9,170.5 L232.6,155.5 L242.2,140.5 L256.5,125.5 L270.8,110.5 L275.6,95.5 L275.6,80.5 M103.7,365.5 L118.0,350.5 L127.6,335.5 L137.1,320.5 L146.7,305.5 L156.2,290.5 L170.6,275.5 L180.1,260.5 L189.7,245.5 L204.0,230.5 L208.8,215.5 L218.3,200.5 L223.1,185.5 L232.6,170.5 L242.2,155.5 L251.7,140.5 L256.5,125.5 L256.5,110.5 L266.1,95.5 L275.6,80.5 M103.7,365.5 L118.0,350.5 L122.8,335.5 L132.4,320.5 L146.7,305.5 L156.2,290.5 L165.8,275.5 L180.1,260.5 L189.7,245.5 L194.4,230.5 L199.2,215.5 L213.5,200.5 L223.1,185.5 L227.9,170.5 L242.2,155.5 L247.0,140.5 L261.3,125.5 L266.1,110.5 L275.6,95.5 L285.1,80.5 M103.7,365.5 L113.2,350.5 L127.6,335.5 L141.9,320.5 L146.7,305.5 L156.2,290.5 L165.8,275.5 L175.3,260.5 L189.7,245.5 L199.2,230.5 L204.0,215.5 L213.5,200.5 L213.5,185.5 L227.9,170.5 L237.4,155.5 L251.7,140.5 L256.5,125.5 L261.3,110.5 L270.8,95.5 L280.4,80.5 M103.7,365.5 L118.0,350.5 L122.8,335.5 L132.4,320.5 L146.7,305.5 L156.2,290.5 L161.0,275.5 L170.6,260.5 L184.9,245.5 L194.4,230.5 L199.2,215.5 L208.8,200.5 L213.5,185.5 L227.9,170.5 L237.4,155.5 L242.2,140.5 L256.5,125.5 L261.3,110.5 L270.8,95.5 L280.4,80.5 M103.7,365.5 L113.2,350.5 L122.8,335.5 L132.4,320.5 L141.9,305.5 L151.4,290.5 L165.8,275.5 L175.3,260.5 L184.9,245.5 L204.0,230.5 L204.0,215.5 L213.5,200.5 L223.1,185.5 L232.6,170.5 L242.2,155.5 L251.7,140.5 L266.1,125.5 L270.8,110.5 L270.8,95.5 L280.4,80.5 M103.7,365.5 L113.2,350.5 L127.6,335.5 L137.1,320.5 L146.7,305.5 L161.0,290.5 L165.8,275.5 L175.3,260.5 L189.7,245.5 L194.4,230.5 L208.8,215.5 L213.5,200.5 L223.1,185.5 L232.6,170.5 L232.6,155.5 L242.2,140.5 L247.0,125.5 L261.3,110.5 L266.1,95.5 L275.6,80.5 M108.5,365.5 L118.0,350.5 L132.4,335.5 L137.1,320.5 L151.4,305.5 L161.0,290.5 L170.6,275.5 L180.1,260.5 L189.7,245.5 L194.4,230.5 L204.0,215.5 L213.5,200.5 L218.3,185.5 L223.1,170.5 L232.6,155.5 L247.0,140.5 L251.7,125.5 L251.7,110.5 L261.3,95.5 L270.8,80.5 M108.5,365.5 L113.2,350.5 L122.8,335.5 L137.1,320.5 L146.7,305.5 L161.0,290.5 L170.6,275.5 L180.1,260.5 L189.7,245.5 L199.2,230.5 L204.0,215.5 L218.3,200.5 L223.1,185.5 L227.9,170.5 L237.4,155.5 L247.0,140.5 L261.3,125.5 L266.1,110.5 L280.4,95.5 L285.1,80.5 M103.7,365.5 L118.0,350.5 L127.6,335.5 L137.1,320.5 L146.7,305.5 L156.2,290.5 L170.6,275.5 L175.3,260.5 L189.7,245.5 L199.2,230.5 L204.0,215.5 L208.8,200.5 L218.3,185.5 L227.9,170.5 L242.2,155.5 L251.7,140.5 L261.3,125.5 L266.1,110.5 L275.6,95.5 L275.6,80.5 M103.7,365.5 L113.2,350.5 L122.8,335.5 L132.4,320.5 L141.9,305.5 L151.4,290.5 L165.8,275.5 L175.3,260.5 L184.9,245.5 L189.7,230.5 L199.2,215.5 L208.8,200.5 L218.3,185.5 L223.1,170.5 L232.6,155.5 L247.0,140.5 L247.0,125.5 L256.5,110.5 L266.1,95.5 L275.6,80.5 M103.7,365.5 L113.2,350.5 L127.6,335.5 L137.1,320.5 L146.7,305.5 L156.2,290.5 L170.6,275.5 L175.3,260.5 L189.7,245.5 L199.2,230.5 L208.8,215.5 L218.3,200.5 L223.1,185.5 L232.6,170.5 L242.2,155.5 L251.7,140.5 L261.3,125.5 L270.8,110.5 L275.6,95.5 L275.6,80.5 M103.7,365.5 L118.0,350.5 L127.6,335.5 L137.1,320.5 L151.4,305.5 L161.0,290.5 L165.8,275.5 L175.3,260.5 L189.7,245.5 L194.4,230.5 L199.2,215.5 L218.3,200.5 L227.9,185.5 L237.4,170.5 L251.7,155.5 L261.3,140.5 L261.3,125.5 L270.8,110.5 L280.4,95.5 L285.1,80.5 M103.7,365.5 L118.0,350.5 L132.4,335.5 L137.1,320.5 L151.4,305.5 L161.0,290.5 L170.6,275.5 L180.1,260.5 L189.7,245.5 L204.0,230.5 L208.8,215.5 L213.5,200.5 L218.3,185.5 L237.4,170.5 L247.0,155.5 L261.3,140.5 L270.8,125.5 L280.4,110.5 L285.1,95.5 L285.1,80.5 M103.7,365.5 L113.2,350.5 L122.8,335.5 L137.1,320.5 L141.9,305.5 L156.2,290.5 L170.6,275.5 L180.1,260.5 L189.7,245.5 L194.4,230.5 L199.2,215.5 L208.8,200.5 L218.3,185.5 L237.4,170.5 L242.2,155.5 L256.5,140.5 L266.1,125.5 L270.8,110.5 L285.1,95.5 L285.1,80.5 M103.7,365.5 L118.0,350.5 L132.4,335.5 L146.7,320.5 L161.0,305.5 L165.8,290.5 L175.3,275.5 L189.7,260.5 L194.4,245.5 L204.0,230.5 L208.8,215.5 L218.3,200.5 L223.1,185.5 L237.4,170.5 L242.2,155.5 L247.0,140.5 L256.5,125.5 L266.1,110.5 L275.6,95.5 L285.1,80.5 M103.7,365.5 L118.0,350.5 L127.6,335.5 L137.1,320.5 L146.7,305.5 L156.2,290.5 L175.3,275.5 L184.9,260.5 L189.7,245.5 L204.0,230.5 L213.5,215.5 L223.1,200.5 L232.6,185.5 L242.2,170.5 L251.7,155.5 L261.3,140.5 L270.8,125.5 L280.4,110.5 L280.4,95.5 L285.1,80.5 M103.7,365.5 L118.0,350.5 L132.4,335.5 L141.9,320.5 L151.4,305.5 L165.8,290.5 L180.1,275.5 L180.1,260.5 L189.7,245.5 L204.0,230.5 L208.8,215.5 L218.3,200.5 L227.9,185.5 L237.4,170.5 L242.2,155.5 L256.5,140.5 L261.3,125.5 L270.8,110.5 L275.6,95.5 L275.6,80.5 M103.7,365.5 L113.2,350.5 L122.8,335.5 L127.6,320.5 L146.7,305.5 L156.2,290.5 L165.8,275.5 L175.3,260.5 L180.1,245.5 L199.2,230.5 L204.0,215.5 L218.3,200.5 L223.1,185.5 L232.6,170.5 L242.2,155.5 L256.5,140.5 L256.5,125.5 L261.3,110.5 L270.8,95.5 L280.4,80.5 M103.7,365.5 L118.0,350.5 L127.6,335.5 L141.9,320.5 L151.4,305.5 L161.0,290.5 L170.6,275.5 L180.1,260.5 L189.7,245.5 L194.4,230.5 L204.0,215.5 L208.8,200.5 L218.3,185.5 L237.4,170.5 L251.7,155.5 L261.3,140.5 L266.1,125.5 L270.8,110.5 L270.8,95.5 L270.8,80.5 M108.5,365.5 L122.8,350.5 L132.4,335.5 L137.1,320.5 L146.7,305.5 L156.2,290.5 L165.8,275.5 L175.3,260.5 L184.9,245.5 L194.4,230.5 L199.2,215.5 L208.8,200.5 L223.1,185.5 L237.4,170.5 L242.2,155.5 L261.3,140.5 L261.3,125.5 L270.8,110.5 L275.6,95.5 L280.4,80.5 M108.5,365.5 L118.0,350.5 L132.4,335.5 L141.9,320.5 L146.7,305.5 L156.2,290.5 L170.6,275.5 L175.3,260.5 L189.7,245.5 L204.0,230.5 L208.8,215.5 L218.3,200.5 L227.9,185.5 L232.6,170.5 L242.2,155.5 L251.7,140.5 L256.5,125.5 L270.8,110.5 L280.4,95.5 L280.4,80.5 M108.5,365.5 L118.0,350.5 L132.4,335.5 L141.9,320.5 L151.4,305.5 L161.0,290.5 L170.6,275.5 L180.1,260.5 L180.1,245.5 L199.2,230.5 L208.8,215.5 L213.5,200.5 L218.3,185.5 L227.9,170.5 L242.2,155.5 L251.7,140.5 L261.3,125.5 L266.1,110.5 L270.8,95.5 L280.4,80.5 M103.7,365.5 L118.0,350.5 L127.6,335.5 L141.9,320.5 L151.4,305.5 L165.8,290.5 L175.3,275.5 L184.9,260.5 L194.4,245.5 L199.2,230.5 L208.8,215.5 L218.3,200.5 L227.9,185.5 L232.6,170.5 L242.2,155.5 L247.0,140.5 L261.3,125.5 L270.8,110.5 L280.4,95.5 L280.4,80.5 M103.7,365.5 L118.0,350.5 L127.6,335.5 L137.1,320.5 L151.4,305.5 L156.2,290.5 L165.8,275.5 L180.1,260.5 L189.7,245.5 L199.2,230.5 L204.0,215.5 L218.3,200.5 L227.9,185.5 L237.4,170.5 L251.7,155.5 L256.5,140.5 L261.3,125.5 L275.6,110.5 L280.4,95.5 L285.1,80.5 M108.5,365.5 L118.0,350.5 L122.8,335.5 L137.1,320.5 L151.4,305.5 L161.0,290.5 L175.3,275.5 L184.9,260.5 L189.7,245.5 L199.2,230.5 L208.8,215.5 L218.3,200.5 L218.3,185.5 L232.6,170.5 L237.4,155.5 L251.7,140.5 L256.5,125.5 L266.1,110.5 L270.8,95.5 L275.6,80.5 M108.5,365.5 L118.0,350.5 L127.6,335.5 L137.1,320.5 L146.7,305.5 L156.2,290.5 L170.6,275.5 L180.1,260.5 L194.4,245.5 L204.0,230.5 L213.5,215.5 L223.1,200.5 L227.9,185.5 L232.6,170.5 L247.0,155.5 L261.3,140.5 L266.1,125.5 L270.8,110.5 L280.4,95.5 L289.9,80.5 M103.7,365.5 L118.0,350.5 L132.4,335.5 L141.9,320.5 L156.2,305.5 L161.0,290.5 L170.6,275.5 L184.9,260.5 L199.2,245.5 L208.8,230.5 L213.5,215.5 L223.1,200.5 L227.9,185.5 L242.2,170.5 L251.7,155.5 L256.5,140.5 L261.3,125.5 L270.8,110.5 L280.4,95.5 L285.1,80.5 M108.5,365.5 L118.0,350.5 L127.6,335.5 L137.1,320.5 L151.4,305.5 L161.0,290.5 L170.6,275.5 L180.1,260.5 L184.9,245.5 L199.2,230.5 L204.0,215.5 L213.5,200.5 L223.1,185.5 L232.6,170.5 L247.0,155.5 L256.5,140.5 L266.1,125.5 L275.6,110.5 L275.6,95.5 L285.1,80.5 M103.7,365.5 L118.0,350.5 L127.6,335.5 L141.9,320.5 L151.4,305.5 L165.8,290.5 L175.3,275.5 L180.1,260.5 L184.9,245.5 L199.2,230.5 L204.0,215.5 L218.3,200.5 L227.9,185.5 L237.4,170.5 L247.0,155.5 L256.5,140.5 L266.1,125.5 L270.8,110.5 L275.6,95.5 L280.4,80.5 M108.5,365.5 L118.0,350.5 L132.4,335.5 L137.1,320.5 L146.7,305.5 L156.2,290.5 L165.8,275.5 L180.1,260.5 L189.7,245.5 L199.2,230.5 L208.8,215.5 L218.3,200.5 L227.9,185.5 L237.4,170.5 L247.0,155.5 L251.7,140.5 L256.5,125.5 L270.8,110.5 L275.6,95.5 L289.9,80.5 M108.5,365.5 L118.0,350.5 L132.4,335.5 L141.9,320.5 L156.2,305.5 L165.8,290.5 L175.3,275.5 L184.9,260.5 L194.4,245.5 L199.2,230.5 L208.8,215.5 L218.3,200.5 L227.9,185.5 L237.4,170.5 L247.0,155.5 L256.5,140.5 L266.1,125.5 L266.1,110.5 L275.6,95.5 L280.4,80.5 M103.7,365.5 L118.0,350.5 L132.4,335.5 L141.9,320.5 L156.2,305.5 L165.8,290.5 L175.3,275.5 L180.1,260.5 L189.7,245.5 L199.2,230.5 L208.8,215.5 L218.3,200.5 L237.4,185.5 L237.4,170.5 L251.7,155.5 L261.3,140.5 L266.1,125.5 L275.6,110.5 L285.1,95.5 L285.1,80.5 M108.5,365.5 L118.0,350.5 L127.6,335.5 L137.1,320.5 L146.7,305.5 L156.2,290.5 L170.6,275.5 L180.1,260.5 L189.7,245.5 L208.8,230.5 L213.5,215.5 L223.1,200.5 L227.9,185.5 L237.4,170.5 L242.2,155.5 L247.0,140.5 L256.5,125.5 L270.8,110.5 L280.4,95.5 L285.1,80.5 M108.5,365.5 L118.0,350.5 L132.4,335.5 L146.7,320.5 L156.2,305.5 L170.6,290.5 L175.3,275.5 L184.9,260.5 L194.4,245.5 L204.0,230.5 L204.0,215.5 L213.5,200.5 L223.1,185.5 L232.6,170.5 L247.0,155.5 L256.5,140.5 L270.8,125.5 L280.4,110.5 L289.9,95.5 L294.7,80.5 M108.5,365.5 L118.0,350.5 L127.6,335.5 L141.9,320.5 L156.2,305.5 L170.6,290.5 L175.3,275.5 L189.7,260.5 L199.2,245.5 L204.0,230.5 L213.5,215.5 L223.1,200.5 L232.6,185.5 L237.4,170.5 L242.2,155.5 L256.5,140.5 L266.1,125.5 L275.6,110.5 L285.1,95.5 L294.7,80.5 M103.7,365.5 L118.0,350.5 L127.6,335.5 L141.9,320.5 L156.2,305.5 L165.8,290.5 L175.3,275.5 L189.7,260.5 L194.4,245.5 L204.0,230.5 L218.3,215.5 L227.9,200.5 L227.9,185.5 L237.4,170.5 L242.2,155.5 L251.7,140.5 L266.1,125.5 L280.4,110.5 L285.1,95.5 L294.7,80.5 M108.5,365.5 L122.8,350.5 L127.6,335.5 L141.9,320.5 L151.4,305.5 L161.0,290.5 L170.6,275.5 L180.1,260.5 L189.7,245.5 L194.4,230.5 L204.0,215.5 L218.3,200.5 L227.9,185.5 L242.2,170.5 L251.7,155.5 L261.3,140.5 L266.1,125.5 L270.8,110.5 L280.4,95.5 L285.1,80.5 M108.5,365.5 L118.0,350.5 L127.6,335.5 L141.9,320.5 L156.2,305.5 L161.0,290.5 L170.6,275.5 L184.9,260.5 L194.4,245.5 L208.8,230.5 L213.5,215.5 L223.1,200.5 L227.9,185.5 L242.2,170.5 L251.7,155.5 L261.3,140.5 L266.1,125.5 L280.4,110.5 L294.7,95.5 L294.7,80.5 M103.7,365.5 L118.0,350.5 L132.4,335.5 L137.1,320.5 L146.7,305.5 L156.2,290.5 L170.6,275.5 L184.9,260.5 L199.2,245.5 L204.0,230.5 L213.5,215.5 L227.9,200.5 L232.6,185.5 L242.2,170.5 L256.5,155.5 L261.3,140.5 L270.8,125.5 L275.6,110.5 L285.1,95.5 L285.1,80.5 M108.5,365.5 L118.0,350.5 L132.4,335.5 L137.1,320.5 L146.7,305.5 L161.0,290.5 L170.6,275.5 L180.1,260.5 L194.4,245.5 L199.2,230.5 L213.5,215.5 L223.1,200.5 L232.6,185.5 L242.2,170.5 L256.5,155.5 L261.3,140.5 L270.8,125.5 L285.1,110.5 L289.9,95.5 L294.7,80.5 M108.5,365.5 L118.0,350.5 L122.8,335.5 L137.1,320.5 L146.7,305.5 L156.2,290.5 L165.8,275.5 L180.1,260.5 L194.4,245.5 L199.2,230.5 L213.5,215.5 L223.1,200.5 L227.9,185.5 L237.4,170.5 L247.0,155.5 L251.7,140.5 L261.3,125.5 L275.6,110.5 L285.1,95.5 L285.1,80.5 M108.5,365.5 L122.8,350.5 L132.4,335.5 L141.9,320.5 L156.2,305.5 L161.0,290.5 L170.6,275.5 L180.1,260.5 L189.7,245.5 L204.0,230.5 L208.8,215.5 L223.1,200.5 L227.9,185.5 L237.4,170.5 L251.7,155.5 L261.3,140.5 L270.8,125.5 L270.8,110.5 L280.4,95.5 L280.4,80.5 M108.5,365.5 L122.8,350.5 L137.1,335.5 L146.7,320.5 L156.2,305.5 L170.6,290.5 L180.1,275.5 L189.7,260.5 L199.2,245.5 L213.5,230.5 L213.5,215.5 L218.3,200.5 L227.9,185.5 L237.4,170.5 L251.7,155.5 L261.3,140.5 L270.8,125.5 L280.4,110.5 L285.1,95.5 L289.9,80.5 M108.5,365.5 L118.0,350.5 L132.4,335.5 L146.7,320.5 L151.4,305.5 L165.8,290.5 L175.3,275.5 L189.7,260.5 L199.2,245.5 L208.8,230.5 L218.3,215.5 L223.1,200.5 L227.9,185.5 L242.2,170.5 L256.5,155.5 L261.3,140.5 L275.6,125.5 L280.4,110.5 L280.4,95.5 L289.9,80.5 M108.5,365.5 L122.8,350.5 L132.4,335.5 L141.9,320.5 L146.7,305.5 L161.0,290.5 L175.3,275.5 L184.9,260.5 L189.7,245.5 L204.0,230.5 L218.3,215.5 L227.9,200.5 L232.6,185.5 L237.4,170.5 L242.2,155.5 L256.5,140.5 L270.8,125.5 L275.6,110.5 L285.1,95.5 L289.9,80.5 M108.5,365.5 L122.8,350.5 L137.1,335.5 L141.9,320.5 L156.2,305.5 L170.6,290.5 L175.3,275.5 L184.9,260.5 L194.4,245.5 L204.0,230.5 L213.5,215.5 L218.3,200.5 L227.9,185.5 L237.4,170.5 L247.0,155.5 L256.5,140.5 L270.8,125.5 L280.4,110.5 L285.1,95.5 L285.1,80.5 M103.7,365.5 L122.8,350.5 L132.4,335.5 L137.1,320.5 L151.4,305.5 L165.8,290.5 L170.6,275.5 L180.1,260.5 L194.4,245.5 L199.2,230.5 L213.5,215.5 L223.1,200.5 L232.6,185.5 L242.2,170.5 L251.7,155.5 L261.3,140.5 L270.8,125.5 L275.6,110.5 L285.1,95.5 L294.7,80.5 M113.2,365.5 L122.8,350.5 L132.4,335.5 L146.7,320.5 L156.2,305.5 L165.8,290.5 L175.3,275.5 L189.7,260.5 L199.2,245.5 L208.8,230.5 L213.5,215.5 L227.9,200.5 L237.4,185.5 L242.2,170.5 L256.5,155.5 L270.8,140.5 L270.8,125.5 L280.4,110.5 L285.1,95.5 L285.1,80.5 M108.5,365.5 L122.8,350.5 L132.4,335.5 L141.9,320.5 L146.7,305.5 L161.0,290.5 L170.6,275.5 L180.1,260.5 L189.7,245.5 L204.0,230.5 L208.8,215.5 L223.1,200.5 L227.9,185.5 L237.4,170.5 L247.0,155.5 L261.3,140.5 L270.8,125.5 L275.6,110.5 L280.4,95.5 L294.7,80.5 M108.5,365.5 L122.8,350.5 L137.1,335.5 L146.7,320.5 L156.2,305.5 L161.0,290.5 L170.6,275.5 L184.9,260.5 L199.2,245.5 L208.8,230.5 L208.8,215.5 L213.5,200.5 L223.1,185.5 L232.6,170.5 L247.0,155.5 L256.5,140.5 L270.8,125.5 L275.6,110.5 L285.1,95.5 L294.7,80.5 M108.5,365.5 L118.0,350.5 L132.4,335.5 L146.7,320.5 L156.2,305.5 L165.8,290.5 L170.6,275.5 L180.1,260.5 L194.4,245.5 L204.0,230.5 L218.3,215.5 L227.9,200.5 L227.9,185.5 L237.4,170.5 L247.0,155.5 L256.5,140.5 L261.3,125.5 L275.6,110.5 L285.1,95.5 L299.5,80.5 M108.5,365.5 L118.0,350.5 L132.4,335.5 L146.7,320.5 L156.2,305.5 L165.8,290.5 L180.1,275.5 L184.9,260.5 L194.4,245.5 L199.2,230.5 L204.0,215.5 L213.5,200.5 L227.9,185.5 L242.2,170.5 L251.7,155.5 L256.5,140.5 L266.1,125.5 L280.4,110.5 L280.4,95.5 L285.1,80.5 M108.5,365.5 L122.8,350.5 L132.4,335.5 L146.7,320.5 L151.4,305.5 L156.2,290.5 L170.6,275.5 L180.1,260.5 L194.4,245.5 L204.0,230.5 L213.5,215.5 L223.1,200.5 L237.4,185.5 L242.2,170.5 L256.5,155.5 L266.1,140.5 L280.4,125.5 L285.1,110.5 L285.1,95.5 L289.9,80.5 M113.2,365.5 L122.8,350.5 L137.1,335.5 L146.7,320.5 L156.2,305.5 L165.8,290.5 L175.3,275.5 L189.7,260.5 L199.2,245.5 L213.5,230.5 L218.3,215.5 L232.6,200.5 L242.2,185.5 L247.0,170.5 L261.3,155.5 L270.8,140.5 L280.4,125.5 L285.1,110.5 L289.9,95.5 L294.7,80.5 M108.5,365.5 L118.0,350.5 L127.6,335.5 L137.1,320.5 L146.7,305.5 L161.0,290.5 L175.3,275.5 L189.7,260.5 L204.0,245.5 L213.5,230.5 L218.3,215.5 L227.9,200.5 L237.4,185.5 L247.0,170.5 L251.7,155.5 L266.1,140.5 L266.1,125.5 L280.4,110.5 L285.1,95.5 L289.9,80.5 M108.5,365.5 L122.8,350.5 L132.4,335.5 L141.9,320.5 L156.2,305.5 L170.6,290.5 L175.3,275.5 L184.9,260.5 L199.2,245.5 L213.5,230.5 L218.3,215.5 L232.6,200.5 L232.6,185.5 L242.2,170.5 L256.5,155.5 L266.1,140.5 L280.4,125.5 L285.1,110.5 L289.9,95.5 L289.9,80.5 M108.5,365.5 L122.8,350.5 L137.1,335.5 L146.7,320.5 L156.2,305.5 L165.8,290.5 L175.3,275.5 L189.7,260.5 L199.2,245.5 L213.5,230.5 L223.1,215.5 L227.9,200.5 L237.4,185.5 L247.0,170.5 L251.7,155.5 L270.8,140.5 L275.6,125.5 L280.4,110.5 L289.9,95.5 L294.7,80.5 M113.2,365.5 L127.6,350.5 L127.6,335.5 L141.9,320.5 L156.2,305.5 L165.8,290.5 L170.6,275.5 L184.9,260.5 L194.4,245.5 L208.8,230.5 L213.5,215.5 L223.1,200.5 L232.6,185.5 L247.0,170.5 L261.3,155.5 L270.8,140.5 L275.6,125.5 L275.6,110.5 L289.9,95.5 L294.7,80.5 M108.5,365.5 L118.0,350.5 L132.4,335.5 L137.1,320.5 L151.4,305.5 L165.8,290.5 L175.3,275.5 L189.7,260.5 L199.2,245.5 L208.8,230.5 L218.3,215.5 L223.1,200.5 L232.6,185.5 L242.2,170.5 L256.5,155.5 L266.1,140.5 L275.6,125.5 L285.1,110.5 L285.1,95.5 L289.9,80.5 M108.5,365.5 L118.0,350.5 L132.4,335.5 L146.7,320.5 L156.2,305.5 L165.8,290.5 L180.1,275.5 L194.4,260.5 L204.0,245.5 L213.5,230.5 L213.5,215.5 L227.9,200.5 L232.6,185.5 L237.4,170.5 L247.0,155.5 L261.3,140.5 L270.8,125.5 L280.4,110.5 L285.1,95.5 L294.7,80.5 M108.5,365.5 L118.0,350.5 L127.6,335.5 L146.7,320.5 L156.2,305.5 L165.8,290.5 L180.1,275.5 L194.4,260.5 L199.2,245.5 L208.8,230.5 L218.3,215.5 L237.4,200.5 L242.2,185.5 L251.7,170.5 L261.3,155.5 L266.1,140.5 L270.8,125.5 L275.6,110.5 L285.1,95.5 L294.7,80.5 M113.2,365.5 L122.8,350.5 L137.1,335.5 L146.7,320.5 L156.2,305.5 L175.3,290.5 L184.9,275.5 L194.4,260.5 L208.8,245.5 L213.5,230.5 L223.1,215.5 L227.9,200.5 L237.4,185.5 L247.0,170.5 L256.5,155.5 L266.1,140.5 L280.4,125.5 L285.1,110.5 L294.7,95.5 L304.2,80.5 M113.2,365.5 L122.8,350.5 L137.1,335.5 L151.4,320.5 L165.8,305.5 L170.6,290.5 L184.9,275.5 L194.4,260.5 L199.2,245.5 L204.0,230.5 L208.8,215.5 L223.1,200.5 L227.9,185.5 L237.4,170.5 L251.7,155.5 L261.3,140.5 L270.8,125.5 L280.4,110.5 L289.9,95.5 L294.7,80.5 M108.5,365.5 L122.8,350.5 L132.4,335.5 L141.9,320.5 L151.4,305.5 L165.8,290.5 L175.3,275.5 L184.9,260.5 L194.4,245.5 L208.8,230.5 L218.3,215.5 L227.9,200.5 L237.4,185.5 L247.0,170.5 L256.5,155.5 L261.3,140.5 L270.8,125.5 L280.4,110.5 L285.1,95.5 L294.7,80.5 M108.5,365.5 L122.8,350.5 L127.6,335.5 L137.1,320.5 L151.4,305.5 L161.0,290.5 L175.3,275.5 L189.7,260.5 L199.2,245.5 L204.0,230.5 L208.8,215.5 L223.1,200.5 L227.9,185.5 L242.2,170.5 L247.0,155.5 L256.5,140.5 L266.1,125.5 L270.8,110.5 L289.9,95.5 L289.9,80.5 M108.5,365.5 L122.8,350.5 L132.4,335.5 L137.1,320.5 L146.7,305.5 L165.8,290.5 L180.1,275.5 L194.4,260.5 L199.2,245.5 L208.8,230.5 L218.3,215.5 L232.6,200.5 L237.4,185.5 L247.0,170.5 L261.3,155.5 L270.8,140.5 L285.1,125.5 L289.9,110.5 L299.5,95.5 L299.5,80.5 M113.2,365.5 L118.0,350.5 L132.4,335.5 L141.9,320.5 L156.2,305.5 L170.6,290.5 L180.1,275.5 L189.7,260.5 L204.0,245.5 L208.8,230.5 L213.5,215.5 L232.6,200.5 L237.4,185.5 L242.2,170.5 L251.7,155.5 L261.3,140.5 L275.6,125.5 L289.9,110.5 L294.7,95.5 L304.2,80.5 M108.5,365.5 L122.8,350.5 L137.1,335.5 L146.7,320.5 L151.4,305.5 L165.8,290.5 L170.6,275.5 L180.1,260.5 L189.7,245.5 L204.0,230.5 L213.5,215.5 L218.3,200.5 L232.6,185.5 L242.2,170.5 L251.7,155.5 L270.8,140.5 L280.4,125.5 L289.9,110.5 L294.7,95.5 L294.7,80.5 M113.2,365.5 L127.6,350.5 L132.4,335.5 L141.9,320.5 L156.2,305.5 L161.0,290.5 L175.3,275.5 L189.7,260.5 L204.0,245.5 L213.5,230.5 L218.3,215.5 L232.6,200.5 L242.2,185.5 L251.7,170.5 L256.5,155.5 L266.1,140.5 L270.8,125.5 L275.6,110.5 L285.1,95.5 L294.7,80.5 M108.5,365.5 L122.8,350.5 L132.4,335.5 L146.7,320.5 L161.0,305.5 L170.6,290.5 L184.9,275.5 L194.4,260.5 L204.0,245.5 L213.5,230.5 L223.1,215.5 L232.6,200.5 L237.4,185.5 L251.7,170.5 L256.5,155.5 L266.1,140.5 L275.6,125.5 L280.4,110.5 L294.7,95.5 L299.5,80.5 M108.5,365.5 L122.8,350.5 L132.4,335.5 L141.9,320.5 L161.0,305.5 L165.8,290.5 L175.3,275.5 L184.9,260.5 L199.2,245.5 L208.8,230.5 L218.3,215.5 L227.9,200.5 L232.6,185.5 L242.2,170.5 L251.7,155.5 L261.3,140.5 L275.6,125.5 L285.1,110.5 L294.7,95.5 L299.5,80.5 M108.5,365.5 L118.0,350.5 L132.4,335.5 L146.7,320.5 L161.0,305.5 L170.6,290.5 L184.9,275.5 L199.2,260.5 L204.0,245.5 L218.3,230.5 L227.9,215.5 L237.4,200.5 L242.2,185.5 L256.5,170.5 L261.3,155.5 L270.8,140.5 L280.4,125.5 L294.7,110.5 L299.5,95.5 L304.2,80.5 M113.2,365.5 L122.8,350.5 L132.4,335.5 L146.7,320.5 L156.2,305.5 L170.6,290.5 L180.1,275.5 L184.9,260.5 L199.2,245.5 L208.8,230.5 L213.5,215.5 L223.1,200.5 L232.6,185.5 L247.0,170.5 L251.7,155.5 L266.1,140.5 L270.8,125.5 L285.1,110.5 L294.7,95.5 L299.5,80.5 M108.5,365.5 L122.8,350.5 L132.4,335.5 L146.7,320.5 L161.0,305.5 L170.6,290.5 L180.1,275.5 L194.4,260.5 L204.0,245.5 L213.5,230.5 L223.1,215.5 L232.6,200.5 L242.2,185.5 L247.0,170.5 L261.3,155.5 L266.1,140.5 L275.6,125.5 L285.1,110.5 L294.7,95.5 L299.5,80.5 M113.2,365.5 L122.8,350.5 L137.1,335.5 L146.7,320.5 L161.0,305.5 L170.6,290.5 L184.9,275.5 L194.4,260.5 L204.0,245.5 L208.8,230.5 L218.3,215.5 L227.9,200.5 L237.4,185.5 L251.7,170.5 L261.3,155.5 L270.8,140.5 L285.1,125.5 L289.9,110.5 L299.5,95.5 L304.2,80.5 M108.5,365.5 L118.0,350.5 L132.4,335.5 L146.7,320.5 L156.2,305.5 L165.8,290.5 L180.1,275.5 L194.4,260.5 L199.2,245.5 L208.8,230.5 L218.3,215.5 L232.6,200.5 L247.0,185.5 L251.7,170.5 L261.3,155.5 L270.8,140.5 L280.4,125.5 L285.1,110.5 L294.7,95.5 L304.2,80.5 M113.2,365.5 L122.8,350.5 L132.4,335.5 L146.7,320.5 L156.2,305.5 L170.6,290.5 L180.1,275.5 L194.4,260.5 L199.2,245.5 L208.8,230.5 L213.5,215.5 L227.9,200.5 L242.2,185.5 L251.7,170.5 L261.3,155.5 L275.6,140.5 L275.6,125.5 L285.1,110.5 L285.1,95.5 L294.7,80.5 M108.5,365.5 L122.8,350.5 L132.4,335.5 L141.9,320.5 L161.0,305.5 L170.6,290.5 L180.1,275.5 L199.2,260.5 L204.0,245.5 L218.3,230.5 L223.1,215.5 L232.6,200.5 L247.0,185.5 L251.7,170.5 L266.1,155.5 L280.4,140.5 L289.9,125.5 L294.7,110.5 L299.5,95.5 L309.0,80.5 M108.5,365.5 L118.0,350.5 L132.4,335.5 L146.7,320.5 L161.0,305.5 L175.3,290.5 L184.9,275.5 L199.2,260.5 L204.0,245.5 L213.5,230.5 L218.3,215.5 L227.9,200.5 L237.4,185.5 L251.7,170.5 L256.5,155.5 L266.1,140.5 L270.8,125.5 L285.1,110.5 L289.9,95.5 L294.7,80.5 M113.2,365.5 L122.8,350.5 L137.1,335.5 L146.7,320.5 L165.8,305.5 L175.3,290.5 L184.9,275.5 L194.4,260.5 L204.0,245.5 L213.5,230.5 L227.9,215.5 L232.6,200.5 L237.4,185.5 L251.7,170.5 L266.1,155.5 L270.8,140.5 L275.6,125.5 L280.4,110.5 L294.7,95.5 L304.2,80.5 M108.5,365.5 L118.0,350.5 L132.4,335.5 L141.9,320.5 L156.2,305.5 L165.8,290.5 L184.9,275.5 L199.2,260.5 L204.0,245.5 L213.5,230.5 L218.3,215.5 L227.9,200.5 L237.4,185.5 L251.7,170.5 L256.5,155.5 L266.1,140.5 L285.1,125.5 L294.7,110.5 L294.7,95.5 L299.5,80.5 M108.5,365.5 L118.0,350.5 L132.4,335.5 L146.7,320.5 L156.2,305.5 L165.8,290.5 L175.3,275.5 L189.7,260.5 L204.0,245.5 L213.5,230.5 L218.3,215.5 L232.6,200.5 L242.2,185.5 L251.7,170.5 L256.5,155.5 L270.8,140.5 L285.1,125.5 L289.9,110.5 L294.7,95.5 L299.5,80.5 M108.5,365.5 L118.0,350.5 L132.4,335.5 L146.7,320.5 L161.0,305.5 L170.6,290.5 L184.9,275.5 L194.4,260.5 L204.0,245.5 L213.5,230.5 L223.1,215.5 L237.4,200.5 L247.0,185.5 L251.7,170.5 L261.3,155.5 L275.6,140.5 L280.4,125.5 L289.9,110.5 L299.5,95.5 L304.2,80.5 M113.2,365.5 L122.8,350.5 L127.6,335.5 L146.7,320.5 L161.0,305.5 L165.8,290.5 L175.3,275.5 L184.9,260.5 L194.4,245.5 L199.2,230.5 L213.5,215.5 L232.6,200.5 L242.2,185.5 L251.7,170.5 L261.3,155.5 L270.8,140.5 L285.1,125.5 L285.1,110.5 L294.7,95.5 L299.5,80.5 M113.2,365.5 L127.6,350.5 L137.1,335.5 L146.7,320.5 L156.2,305.5 L170.6,290.5 L184.9,275.5 L199.2,260.5 L208.8,245.5 L218.3,230.5 L223.1,215.5 L237.4,200.5 L247.0,185.5 L251.7,170.5 L270.8,155.5 L280.4,140.5 L289.9,125.5 L294.7,110.5 L299.5,95.5 L309.0,80.5 M113.2,365.5 L127.6,350.5 L132.4,335.5 L146.7,320.5 L161.0,305.5 L170.6,290.5 L184.9,275.5 L194.4,260.5 L204.0,245.5 L208.8,230.5 L218.3,215.5 L232.6,200.5 L242.2,185.5 L247.0,170.5 L256.5,155.5 L270.8,140.5 L285.1,125.5 L289.9,110.5 L299.5,95.5 L304.2,80.5 M113.2,365.5 L122.8,350.5 L132.4,335.5 L141.9,320.5 L156.2,305.5 L165.8,290.5 L180.1,275.5 L194.4,260.5 L208.8,245.5 L218.3,230.5 L227.9,215.5 L232.6,200.5 L242.2,185.5 L251.7,170.5 L261.3,155.5 L266.1,140.5 L280.4,125.5 L289.9,110.5 L299.5,95.5 L304.2,80.5 M113.2,365.5 L122.8,350.5 L132.4,335.5 L146.7,320.5 L156.2,305.5 L170.6,290.5 L184.9,275.5 L194.4,260.5 L204.0,245.5 L218.3,230.5 L223.1,215.5 L227.9,200.5 L232.6,185.5 L242.2,170.5 L256.5,155.5 L270.8,140.5 L280.4,125.5 L285.1,110.5 L299.5,95.5 L304.2,80.5 M113.2,365.5 L122.8,350.5 L132.4,335.5 L137.1,320.5 L156.2,305.5 L165.8,290.5 L175.3,275.5 L194.4,260.5 L208.8,245.5 L218.3,230.5 L223.1,215.5 L237.4,200.5 L242.2,185.5 L251.7,170.5 L266.1,155.5 L275.6,140.5 L280.4,125.5 L289.9,110.5 L304.2,95.5 L309.0,80.5 M108.5,365.5 L122.8,350.5 L132.4,335.5 L141.9,320.5 L156.2,305.5 L170.6,290.5 L184.9,275.5 L194.4,260.5 L204.0,245.5 L213.5,230.5 L218.3,215.5 L227.9,200.5 L237.4,185.5 L251.7,170.5 L261.3,155.5 L266.1,140.5 L275.6,125.5 L289.9,110.5 L304.2,95.5 L304.2,80.5 M113.2,365.5 L122.8,350.5 L132.4,335.5 L146.7,320.5 L156.2,305.5 L170.6,290.5 L189.7,275.5 L199.2,260.5 L208.8,245.5 L218.3,230.5 L223.1,215.5 L232.6,200.5 L247.0,185.5 L256.5,170.5 L266.1,155.5 L270.8,140.5 L285.1,125.5 L294.7,110.5 L309.0,95.5 L318.6,80.5 M113.2,365.5 L127.6,350.5 L137.1,335.5 L146.7,320.5 L161.0,305.5 L170.6,290.5 L184.9,275.5 L199.2,260.5 L208.8,245.5 L213.5,230.5 L227.9,215.5 L237.4,200.5 L247.0,185.5 L256.5,170.5 L266.1,155.5 L280.4,140.5 L289.9,125.5 L294.7,110.5 L304.2,95.5 L313.8,80.5 M118.0,365.5 L122.8,350.5 L132.4,335.5 L146.7,320.5 L156.2,305.5 L165.8,290.5 L175.3,275.5 L189.7,260.5 L204.0,245.5 L208.8,230.5 L223.1,215.5 L242.2,200.5 L251.7,185.5 L261.3,170.5 L266.1,155.5 L280.4,140.5 L289.9,125.5 L299.5,110.5 L309.0,95.5 L309.0,80.5 M113.2,365.5 L122.8,350.5 L137.1,335.5 L151.4,320.5 L161.0,305.5 L175.3,290.5 L180.1,275.5 L194.4,260.5 L208.8,245.5 L213.5,230.5 L227.9,215.5 L237.4,200.5 L242.2,185.5 L247.0,170.5 L261.3,155.5 L270.8,140.5 L285.1,125.5 L289.9,110.5 L299.5,95.5 L309.0,80.5 M113.2,365.5 L127.6,350.5 L137.1,335.5 L146.7,320.5 L161.0,305.5 L180.1,290.5 L184.9,275.5 L199.2,260.5 L208.8,245.5 L213.5,230.5 L223.1,215.5 L242.2,200.5 L251.7,185.5 L251.7,170.5 L261.3,155.5 L266.1,140.5 L280.4,125.5 L285.1,110.5 L294.7,95.5 L299.5,80.5 M113.2,365.5 L122.8,350.5 L132.4,335.5 L146.7,320.5 L161.0,305.5 L170.6,290.5 L184.9,275.5 L189.7,260.5 L204.0,245.5 L213.5,230.5 L227.9,215.5 L232.6,200.5 L242.2,185.5 L247.0,170.5 L266.1,155.5 L280.4,140.5 L285.1,125.5 L289.9,110.5 L299.5,95.5 L309.0,80.5 M113.2,365.5 L122.8,350.5 L132.4,335.5 L146.7,320.5 L161.0,305.5 L175.3,290.5 L184.9,275.5 L194.4,260.5 L208.8,245.5 L213.5,230.5 L223.1,215.5 L232.6,200.5 L242.2,185.5 L251.7,170.5 L261.3,155.5 L270.8,140.5 L285.1,125.5 L285.1,110.5 L294.7,95.5 L309.0,80.5 M113.2,365.5 L127.6,350.5 L137.1,335.5 L146.7,320.5 L161.0,305.5 L175.3,290.5 L184.9,275.5 L194.4,260.5 L204.0,245.5 L208.8,230.5 L218.3,215.5 L227.9,200.5 L232.6,185.5 L251.7,170.5 L261.3,155.5 L270.8,140.5 L280.4,125.5 L294.7,110.5 L309.0,95.5 L309.0,80.5 M118.0,365.5 L132.4,350.5 L141.9,335.5 L156.2,320.5 L161.0,305.5 L175.3,290.5 L184.9,275.5 L194.4,260.5 L204.0,245.5 L213.5,230.5 L223.1,215.5 L227.9,200.5 L242.2,185.5 L256.5,170.5 L266.1,155.5 L275.6,140.5 L294.7,125.5 L294.7,110.5 L299.5,95.5 L309.0,80.5 M113.2,365.5 L118.0,350.5 L132.4,335.5 L146.7,320.5 L161.0,305.5 L175.3,290.5 L189.7,275.5 L199.2,260.5 L204.0,245.5 L213.5,230.5 L227.9,215.5 L242.2,200.5 L256.5,185.5 L261.3,170.5 L270.8,155.5 L275.6,140.5 L289.9,125.5 L294.7,110.5 L304.2,95.5 L304.2,80.5 M108.5,365.5 L127.6,350.5 L137.1,335.5 L151.4,320.5 L156.2,305.5 L170.6,290.5 L189.7,275.5 L194.4,260.5 L199.2,245.5 L208.8,230.5 L218.3,215.5 L232.6,200.5 L237.4,185.5 L247.0,170.5 L256.5,155.5 L270.8,140.5 L280.4,125.5 L294.7,110.5 L299.5,95.5 L309.0,80.5 M113.2,365.5 L127.6,350.5 L137.1,335.5 L151.4,320.5 L161.0,305.5 L170.6,290.5 L184.9,275.5 L194.4,260.5 L204.0,245.5 L213.5,230.5 L218.3,215.5 L227.9,200.5 L242.2,185.5 L256.5,170.5 L266.1,155.5 L270.8,140.5 L280.4,125.5 L285.1,110.5 L294.7,95.5 L313.8,80.5 M113.2,365.5 L127.6,350.5 L141.9,335.5 L151.4,320.5 L161.0,305.5 L175.3,290.5 L189.7,275.5 L194.4,260.5 L208.8,245.5 L218.3,230.5 L218.3,215.5 L223.1,200.5 L232.6,185.5 L251.7,170.5 L261.3,155.5 L275.6,140.5 L289.9,125.5 L299.5,110.5 L304.2,95.5 L309.0,80.5 M113.2,365.5 L127.6,350.5 L141.9,335.5 L151.4,320.5 L161.0,305.5 L175.3,290.5 L189.7,275.5 L204.0,260.5 L204.0,245.5 L218.3,230.5 L218.3,215.5 L232.6,200.5 L242.2,185.5 L251.7,170.5 L261.3,155.5 L275.6,140.5 L285.1,125.5 L294.7,110.5 L299.5,95.5 L299.5,80.5 M113.2,365.5 L127.6,350.5 L137.1,335.5 L146.7,320.5 L161.0,305.5 L170.6,290.5 L184.9,275.5 L204.0,260.5 L208.8,245.5 L218.3,230.5 L227.9,215.5 L232.6,200.5 L242.2,185.5 L256.5,170.5 L270.8,155.5 L280.4,140.5 L285.1,125.5 L294.7,110.5 L299.5,95.5 L304.2,80.5 M113.2,365.5 L122.8,350.5 L137.1,335.5 L146.7,320.5 L165.8,305.5 L170.6,290.5 L180.1,275.5 L189.7,260.5 L199.2,245.5 L218.3,230.5 L223.1,215.5 L232.6,200.5 L247.0,185.5 L256.5,170.5 L270.8,155.5 L275.6,140.5 L289.9,125.5 L299.5,110.5 L304.2,95.5 L309.0,80.5 M108.5,365.5 L127.6,350.5 L137.1,335.5 L151.4,320.5 L165.8,305.5 L175.3,290.5 L184.9,275.5 L199.2,260.5 L204.0,245.5 L218.3,230.5 L227.9,215.5 L232.6,200.5 L242.2,185.5 L256.5,170.5 L261.3,155.5 L280.4,140.5 L285.1,125.5 L294.7,110.5 L299.5,95.5 L313.8,80.5 M118.0,365.5 L132.4,350.5 L141.9,335.5 L151.4,320.5 L170.6,305.5 L180.1,290.5 L189.7,275.5 L204.0,260.5 L213.5,245.5 L223.1,230.5 L227.9,215.5 L232.6,200.5 L251.7,185.5 L256.5,170.5 L261.3,155.5 L270.8,140.5 L289.9,125.5 L299.5,110.5 L309.0,95.5 L313.8,80.5 M113.2,365.5 L122.8,350.5 L132.4,335.5 L146.7,320.5 L165.8,305.5 L170.6,290.5 L180.1,275.5 L189.7,260.5 L204.0,245.5 L213.5,230.5 L223.1,215.5 L237.4,200.5 L247.0,185.5 L251.7,170.5 L266.1,155.5 L280.4,140.5 L289.9,125.5 L304.2,110.5 L304.2,95.5 L304.2,80.5 M108.5,365.5 L127.6,350.5 L137.1,335.5 L151.4,320.5 L161.0,305.5 L175.3,290.5 L194.4,275.5 L204.0,260.5 L213.5,245.5 L218.3,230.5 L227.9,215.5 L237.4,200.5 L247.0,185.5 L261.3,170.5 L270.8,155.5 L285.1,140.5 L289.9,125.5 L299.5,110.5 L299.5,95.5 L313.8,80.5 M113.2,365.5 L122.8,350.5 L137.1,335.5 L146.7,320.5 L161.0,305.5 L175.3,290.5 L194.4,275.5 L199.2,260.5 L213.5,245.5 L218.3,230.5 L227.9,215.5 L242.2,200.5 L247.0,185.5 L261.3,170.5 L275.6,155.5 L285.1,140.5 L294.7,125.5 L294.7,110.5 L313.8,95.5 L318.6,80.5 M113.2,365.5 L127.6,350.5 L132.4,335.5 L146.7,320.5 L156.2,305.5 L175.3,290.5 L189.7,275.5 L199.2,260.5 L208.8,245.5 L218.3,230.5 L223.1,215.5 L237.4,200.5 L251.7,185.5 L256.5,170.5 L270.8,155.5 L275.6,140.5 L289.9,125.5 L299.5,110.5 L304.2,95.5 L318.6,80.5 M113.2,365.5 L132.4,350.5 L141.9,335.5 L156.2,320.5 L165.8,305.5 L175.3,290.5 L189.7,275.5 L199.2,260.5 L213.5,245.5 L218.3,230.5 L232.6,215.5 L242.2,200.5 L247.0,185.5 L251.7,170.5 L261.3,155.5 L275.6,140.5 L285.1,125.5 L294.7,110.5 L304.2,95.5 L309.0,80.5 M113.2,365.5 L127.6,350.5 L141.9,335.5 L151.4,320.5 L161.0,305.5 L175.3,290.5 L184.9,275.5 L194.4,260.5 L208.8,245.5 L218.3,230.5 L227.9,215.5 L237.4,200.5 L247.0,185.5 L251.7,170.5 L261.3,155.5 L280.4,140.5 L299.5,125.5 L304.2,110.5 L304.2,95.5 L313.8,80.5 M118.0,365.5 L122.8,350.5 L132.4,335.5 L146.7,320.5 L156.2,305.5 L175.3,290.5 L184.9,275.5 L199.2,260.5 L208.8,245.5 L218.3,230.5 L223.1,215.5 L237.4,200.5 L251.7,185.5 L261.3,170.5 L270.8,155.5 L280.4,140.5 L285.1,125.5 L294.7,110.5 L304.2,95.5 L318.6,80.5 M118.0,365.5 L127.6,350.5 L141.9,335.5 L156.2,320.5 L165.8,305.5 L180.1,290.5 L184.9,275.5 L199.2,260.5 L208.8,245.5 L213.5,230.5 L218.3,215.5 L237.4,200.5 L251.7,185.5 L261.3,170.5 L270.8,155.5 L280.4,140.5 L289.9,125.5 L304.2,110.5 L309.0,95.5 L318.6,80.5 M118.0,365.5 L127.6,350.5 L137.1,335.5 L151.4,320.5 L165.8,305.5 L175.3,290.5 L189.7,275.5 L199.2,260.5 L213.5,245.5 L223.1,230.5 L227.9,215.5 L237.4,200.5 L247.0,185.5 L256.5,170.5 L270.8,155.5 L285.1,140.5 L299.5,125.5 L299.5,110.5 L309.0,95.5 L313.8,80.5 M113.2,365.5 L127.6,350.5 L141.9,335.5 L151.4,320.5 L165.8,305.5 L180.1,290.5 L189.7,275.5 L199.2,260.5 L213.5,245.5 L223.1,230.5 L227.9,215.5 L237.4,200.5 L247.0,185.5 L261.3,170.5 L266.1,155.5 L275.6,140.5 L285.1,125.5 L294.7,110.5 L309.0,95.5 L313.8,80.5 M122.8,365.5 L132.4,350.5 L141.9,335.5 L156.2,320.5 L170.6,305.5 L180.1,290.5 L189.7,275.5 L199.2,260.5 L213.5,245.5 L223.1,230.5 L232.6,215.5 L242.2,200.5 L247.0,185.5 L256.5,170.5 L270.8,155.5 L280.4,140.5 L285.1,125.5 L304.2,110.5 L309.0,95.5 L313.8,80.5 M118.0,365.5 L127.6,350.5 L137.1,335.5 L151.4,320.5 L161.0,305.5 L180.1,290.5 L194.4,275.5 L208.8,260.5 L218.3,245.5 L227.9,230.5 L227.9,215.5 L237.4,200.5 L247.0,185.5 L256.5,170.5 L270.8,155.5 L280.4,140.5 L285.1,125.5 L289.9,110.5 L309.0,95.5 L313.8,80.5 M113.2,365.5 L127.6,350.5 L141.9,335.5 L151.4,320.5 L165.8,305.5 L180.1,290.5 L189.7,275.5 L199.2,260.5 L208.8,245.5 L218.3,230.5 L223.1,215.5 L232.6,200.5 L247.0,185.5 L256.5,170.5 L270.8,155.5 L289.9,140.5 L304.2,125.5 L313.8,110.5 L318.6,95.5 L328.1,80.5 M113.2,365.5 L127.6,350.5 L141.9,335.5 L151.4,320.5 L165.8,305.5 L175.3,290.5 L189.7,275.5 L194.4,260.5 L213.5,245.5 L223.1,230.5 L232.6,215.5 L242.2,200.5 L247.0,185.5 L261.3,170.5 L280.4,155.5 L285.1,140.5 L299.5,125.5 L309.0,110.5 L313.8,95.5 L318.6,80.5 M113.2,365.5 L122.8,350.5 L132.4,335.5 L151.4,320.5 L165.8,305.5 L180.1,290.5 L189.7,275.5 L204.0,260.5 L208.8,245.5 L218.3,230.5 L227.9,215.5 L242.2,200.5 L247.0,185.5 L256.5,170.5 L266.1,155.5 L280.4,140.5 L289.9,125.5 L299.5,110.5 L309.0,95.5 L318.6,80.5 M113.2,365.5 L127.6,350.5 L137.1,335.5 L151.4,320.5 L165.8,305.5 L180.1,290.5 L189.7,275.5 L204.0,260.5 L213.5,245.5 L218.3,230.5 L227.9,215.5 L232.6,200.5 L242.2,185.5 L256.5,170.5 L270.8,155.5 L280.4,140.5 L289.9,125.5 L304.2,110.5 L313.8,95.5 L323.4,80.5 M118.0,365.5 L132.4,350.5 L141.9,335.5 L151.4,320.5 L161.0,305.5 L175.3,290.5 L184.9,275.5 L199.2,260.5 L208.8,245.5 L223.1,230.5 L232.6,215.5 L242.2,200.5 L251.7,185.5 L261.3,170.5 L270.8,155.5 L285.1,140.5 L294.7,125.5 L299.5,110.5 L313.8,95.5 L323.4,80.5 M118.0,365.5 L132.4,350.5 L141.9,335.5 L151.4,320.5 L165.8,305.5 L175.3,290.5 L184.9,275.5 L199.2,260.5 L208.8,245.5 L218.3,230.5 L223.1,215.5 L237.4,200.5 L247.0,185.5 L261.3,170.5 L270.8,155.5 L285.1,140.5 L294.7,125.5 L304.2,110.5 L309.0,95.5 L309.0,80.5 M113.2,365.5 L127.6,350.5 L141.9,335.5 L151.4,320.5 L161.0,305.5 L175.3,290.5 L189.7,275.5 L199.2,260.5 L213.5,245.5 L223.1,230.5 L237.4,215.5 L247.0,200.5 L256.5,185.5 L266.1,170.5 L275.6,155.5 L285.1,140.5 L294.7,125.5 L299.5,110.5 L309.0,95.5 L313.8,80.5 M118.0,365.5 L127.6,350.5 L137.1,335.5 L151.4,320.5 L165.8,305.5 L175.3,290.5 L189.7,275.5 L194.4,260.5 L204.0,245.5 L213.5,230.5 L227.9,215.5 L242.2,200.5 L251.7,185.5 L261.3,170.5 L270.8,155.5 L285.1,140.5 L289.9,125.5 L294.7,110.5 L304.2,95.5 L318.6,80.5 M113.2,365.5 L127.6,350.5 L141.9,335.5 L156.2,320.5 L170.6,305.5 L180.1,290.5 L194.4,275.5 L208.8,260.5 L218.3,245.5 L223.1,230.5 L232.6,215.5 L247.0,200.5 L256.5,185.5 L266.1,170.5 L270.8,155.5 L285.1,140.5 L294.7,125.5 L304.2,110.5 L309.0,95.5 L323.4,80.5 M118.0,365.5 L132.4,350.5 L146.7,335.5 L151.4,320.5 L165.8,305.5 L175.3,290.5 L194.4,275.5 L204.0,260.5 L218.3,245.5 L223.1,230.5 L232.6,215.5 L247.0,200.5 L251.7,185.5 L261.3,170.5 L270.8,155.5 L285.1,140.5 L294.7,125.5 L299.5,110.5 L309.0,95.5 L323.4,80.5 M113.2,365.5 L127.6,350.5 L137.1,335.5 L151.4,320.5 L161.0,305.5 L175.3,290.5 L189.7,275.5 L199.2,260.5 L208.8,245.5 L218.3,230.5 L227.9,215.5 L247.0,200.5 L251.7,185.5 L261.3,170.5 L270.8,155.5 L285.1,140.5 L294.7,125.5 L299.5,110.5 L304.2,95.5 L313.8,80.5 M118.0,365.5 L132.4,350.5 L141.9,335.5 L156.2,320.5 L165.8,305.5 L180.1,290.5 L194.4,275.5 L204.0,260.5 L213.5,245.5 L227.9,230.5 L232.6,215.5 L237.4,200.5 L247.0,185.5 L256.5,170.5 L266.1,155.5 L280.4,140.5 L294.7,125.5 L304.2,110.5 L318.6,95.5 L323.4,80.5 M113.2,365.5 L122.8,350.5 L137.1,335.5 L146.7,320.5 L161.0,305.5 L175.3,290.5 L189.7,275.5 L199.2,260.5 L208.8,245.5 L218.3,230.5 L227.9,215.5 L242.2,200.5 L251.7,185.5 L256.5,170.5 L270.8,155.5 L280.4,140.5 L289.9,125.5 L299.5,110.5 L309.0,95.5 L323.4,80.5 M118.0,365.5 L132.4,350.5 L141.9,335.5 L156.2,320.5 L170.6,305.5 L180.1,290.5 L194.4,275.5 L204.0,260.5 L213.5,245.5 L223.1,230.5 L232.6,215.5 L237.4,200.5 L256.5,185.5 L270.8,170.5 L275.6,155.5 L289.9,140.5 L294.7,125.5 L304.2,110.5 L318.6,95.5 L323.4,80.5 M118.0,365.5 L127.6,350.5 L137.1,335.5 L151.4,320.5 L165.8,305.5 L180.1,290.5 L194.4,275.5 L204.0,260.5 L218.3,245.5 L227.9,230.5 L232.6,215.5 L242.2,200.5 L251.7,185.5 L270.8,170.5 L280.4,155.5 L289.9,140.5 L294.7,125.5 L304.2,110.5 L313.8,95.5 L318.6,80.5 M113.2,365.5 L132.4,350.5 L141.9,335.5 L151.4,320.5 L165.8,305.5 L180.1,290.5 L189.7,275.5 L204.0,260.5 L213.5,245.5 L227.9,230.5 L242.2,215.5 L256.5,200.5 L261.3,185.5 L275.6,170.5 L280.4,155.5 L294.7,140.5 L304.2,125.5 L309.0,110.5 L318.6,95.5 L318.6,80.5 M118.0,365.5 L132.4,350.5 L137.1,335.5 L151.4,320.5 L165.8,305.5 L180.1,290.5 L194.4,275.5 L208.8,260.5 L218.3,245.5 L223.1,230.5 L227.9,215.5 L237.4,200.5 L251.7,185.5 L261.3,170.5 L270.8,155.5 L289.9,140.5 L289.9,125.5 L304.2,110.5 L318.6,95.5 L323.4,80.5 M118.0,365.5 L127.6,350.5 L141.9,335.5 L156.2,320.5 L165.8,305.5 L180.1,290.5 L189.7,275.5 L204.0,260.5 L213.5,245.5 L218.3,230.5 L232.6,215.5 L242.2,200.5 L247.0,185.5 L261.3,170.5 L266.1,155.5 L285.1,140.5 L299.5,125.5 L313.8,110.5 L318.6,95.5 L328.1,80.5 M113.2,365.5 L127.6,350.5 L137.1,335.5 L151.4,320.5 L170.6,305.5 L180.1,290.5 L194.4,275.5 L208.8,260.5 L218.3,245.5 L223.1,230.5 L227.9,215.5 L247.0,200.5 L256.5,185.5 L266.1,170.5 L280.4,155.5 L289.9,140.5 L299.5,125.5 L309.0,110.5 L313.8,95.5 L318.6,80.5 M113.2,365.5 L127.6,350.5 L141.9,335.5 L156.2,320.5 L165.8,305.5 L180.1,290.5 L189.7,275.5 L204.0,260.5 L218.3,245.5 L227.9,230.5 L237.4,215.5 L247.0,200.5 L256.5,185.5 L261.3,170.5 L270.8,155.5 L285.1,140.5 L299.5,125.5 L313.8,110.5 L318.6,95.5 L323.4,80.5 M118.0,365.5 L127.6,350.5 L137.1,335.5 L151.4,320.5 L161.0,305.5 L175.3,290.5 L189.7,275.5 L204.0,260.5 L208.8,245.5 L223.1,230.5 L232.6,215.5 L247.0,200.5 L251.7,185.5 L261.3,170.5 L270.8,155.5 L280.4,140.5 L289.9,125.5 L299.5,110.5 L304.2,95.5 L318.6,80.5 M113.2,365.5 L127.6,350.5 L137.1,335.5 L151.4,320.5 L170.6,305.5 L180.1,290.5 L194.4,275.5 L204.0,260.5 L213.5,245.5 L223.1,230.5 L237.4,215.5 L247.0,200.5 L256.5,185.5 L261.3,170.5 L275.6,155.5 L285.1,140.5 L299.5,125.5 L304.2,110.5 L323.4,95.5 L328.1,80.5 M113.2,365.5 L127.6,350.5 L141.9,335.5 L151.4,320.5 L165.8,305.5 L180.1,290.5 L194.4,275.5 L204.0,260.5 L218.3,245.5 L227.9,230.5 L237.4,215.5 L247.0,200.5 L256.5,185.5 L266.1,170.5 L275.6,155.5 L289.9,140.5 L299.5,125.5 L313.8,110.5 L328.1,95.5 L328.1,80.5 M118.0,365.5 L132.4,350.5 L141.9,335.5 L151.4,320.5 L170.6,305.5 L180.1,290.5 L194.4,275.5 L204.0,260.5 L218.3,245.5 L232.6,230.5 L232.6,215.5 L242.2,200.5 L256.5,185.5 L266.1,170.5 L275.6,155.5 L285.1,140.5 L294.7,125.5 L304.2,110.5 L318.6,95.5 L332.9,80.5 M118.0,365.5 L132.4,350.5 L146.7,335.5 L156.2,320.5 L165.8,305.5 L180.1,290.5 L189.7,275.5 L208.8,260.5 L218.3,245.5 L227.9,230.5 L232.6,215.5 L242.2,200.5 L261.3,185.5 L270.8,170.5 L280.4,155.5 L285.1,140.5 L294.7,125.5 L309.0,110.5 L313.8,95.5 L328.1,80.5 M118.0,365.5 L127.6,350.5 L137.1,335.5 L151.4,320.5 L170.6,305.5 L180.1,290.5 L189.7,275.5 L204.0,260.5 L213.5,245.5 L227.9,230.5 L232.6,215.5 L247.0,200.5 L261.3,185.5 L270.8,170.5 L275.6,155.5 L285.1,140.5 L294.7,125.5 L309.0,110.5 L318.6,95.5 L328.1,80.5 M122.8,365.5 L132.4,350.5 L141.9,335.5 L161.0,320.5 L170.6,305.5 L180.1,290.5 L194.4,275.5 L204.0,260.5 L213.5,245.5 L223.1,230.5 L237.4,215.5 L242.2,200.5 L251.7,185.5 L256.5,170.5 L266.1,155.5 L285.1,140.5 L299.5,125.5 L309.0,110.5 L318.6,95.5 L328.1,80.5 M118.0,365.5 L127.6,350.5 L141.9,335.5 L161.0,320.5 L170.6,305.5 L184.9,290.5 L199.2,275.5 L213.5,260.5 L223.1,245.5 L232.6,230.5 L237.4,215.5 L247.0,200.5 L251.7,185.5 L261.3,170.5 L280.4,155.5 L294.7,140.5 L304.2,125.5 L313.8,110.5 L323.4,95.5 L323.4,80.5 M118.0,365.5 L127.6,350.5 L141.9,335.5 L151.4,320.5 L165.8,305.5 L180.1,290.5 L189.7,275.5 L199.2,260.5 L208.8,245.5 L223.1,230.5 L237.4,215.5 L247.0,200.5 L256.5,185.5 L266.1,170.5 L270.8,155.5 L285.1,140.5 L299.5,125.5 L313.8,110.5 L323.4,95.5 L328.1,80.5 M118.0,365.5 L132.4,350.5 L141.9,335.5 L156.2,320.5 L165.8,305.5 L180.1,290.5 L194.4,275.5 L208.8,260.5 L213.5,245.5 L227.9,230.5 L237.4,215.5 L247.0,200.5 L256.5,185.5 L266.1,170.5 L275.6,155.5 L289.9,140.5 L299.5,125.5 L304.2,110.5 L318.6,95.5 L323.4,80.5 M122.8,365.5 L132.4,350.5 L141.9,335.5 L156.2,320.5 L165.8,305.5 L184.9,290.5 L199.2,275.5 L213.5,260.5 L218.3,245.5 L227.9,230.5 L232.6,215.5 L247.0,200.5 L256.5,185.5 L266.1,170.5 L280.4,155.5 L294.7,140.5 L304.2,125.5 L309.0,110.5 L318.6,95.5 L323.4,80.5 M113.2,365.5 L132.4,350.5 L141.9,335.5 L156.2,320.5 L170.6,305.5 L184.9,290.5 L189.7,275.5 L208.8,260.5 L218.3,245.5 L227.9,230.5 L232.6,215.5 L242.2,200.5 L256.5,185.5 L266.1,170.5 L275.6,155.5 L289.9,140.5 L299.5,125.5 L304.2,110.5 L318.6,95.5 L328.1,80.5 M118.0,365.5 L127.6,350.5 L141.9,335.5 L156.2,320.5 L165.8,305.5 L184.9,290.5 L194.4,275.5 L208.8,260.5 L218.3,245.5 L227.9,230.5 L232.6,215.5 L242.2,200.5 L251.7,185.5 L261.3,170.5 L275.6,155.5 L294.7,140.5 L309.0,125.5 L318.6,110.5 L332.9,95.5 L337.7,80.5 M118.0,365.5 L132.4,350.5 L141.9,335.5 L156.2,320.5 L165.8,305.5 L180.1,290.5 L194.4,275.5 L204.0,260.5 L218.3,245.5 L227.9,230.5 L232.6,215.5 L247.0,200.5 L261.3,185.5 L270.8,170.5 L275.6,155.5 L285.1,140.5 L294.7,125.5 L309.0,110.5 L318.6,95.5 L328.1,80.5 M122.8,365.5 L132.4,350.5 L146.7,335.5 L156.2,320.5 L165.8,305.5 L180.1,290.5 L194.4,275.5 L208.8,260.5 L218.3,245.5 L227.9,230.5 L242.2,215.5 L247.0,200.5 L256.5,185.5 L270.8,170.5 L280.4,155.5 L294.7,140.5 L294.7,125.5 L309.0,110.5 L318.6,95.5 L332.9,80.5 M118.0,365.5 L132.4,350.5 L141.9,335.5 L156.2,320.5 L165.8,305.5 L184.9,290.5 L199.2,275.5 L213.5,260.5 L223.1,245.5 L232.6,230.5 L242.2,215.5 L251.7,200.5 L261.3,185.5 L270.8,170.5 L285.1,155.5 L294.7,140.5 L304.2,125.5 L313.8,110.5 L323.4,95.5 L328.1,80.5 M118.0,365.5 L132.4,350.5 L146.7,335.5 L156.2,320.5 L170.6,305.5 L180.1,290.5 L199.2,275.5 L208.8,260.5 L213.5,245.5 L223.1,230.5 L232.6,215.5 L247.0,200.5 L256.5,185.5 L261.3,170.5 L275.6,155.5 L285.1,140.5 L294.7,125.5 L309.0,110.5 L318.6,95.5 L328.1,80.5 M118.0,365.5 L127.6,350.5 L141.9,335.5 L156.2,320.5 L175.3,305.5 L189.7,290.5 L199.2,275.5 L208.8,260.5 L223.1,245.5 L232.6,230.5 L237.4,215.5 L247.0,200.5 L256.5,185.5 L270.8,170.5 L280.4,155.5 L289.9,140.5 L309.0,125.5 L318.6,110.5 L332.9,95.5 L337.7,80.5 M118.0,365.5 L137.1,350.5 L146.7,335.5 L156.2,320.5 L175.3,305.5 L184.9,290.5 L199.2,275.5 L208.8,260.5 L223.1,245.5 L232.6,230.5 L242.2,215.5 L251.7,200.5 L261.3,185.5 L270.8,170.5 L275.6,155.5 L289.9,140.5 L304.2,125.5 L318.6,110.5 L328.1,95.5 L337.7,80.5 M118.0,365.5 L127.6,350.5 L141.9,335.5 L156.2,320.5 L170.6,305.5 L184.9,290.5 L194.4,275.5 L208.8,260.5 L218.3,245.5 L223.1,230.5 L232.6,215.5 L242.2,200.5 L251.7,185.5 L261.3,170.5 L280.4,155.5 L299.5,140.5 L313.8,125.5 L318.6,110.5 L332.9,95.5 L332.9,80.5 M118.0,365.5 L132.4,350.5 L141.9,335.5 L151.4,320.5 L170.6,305.5 L184.9,290.5 L199.2,275.5 L208.8,260.5 L218.3,245.5 L227.9,230.5 L232.6,215.5 L247.0,200.5 L261.3,185.5 L266.1,170.5 L280.4,155.5 L289.9,140.5 L299.5,125.5 L313.8,110.5 L323.4,95.5 L328.1,80.5 M118.0,365.5 L132.4,350.5 L146.7,335.5 L161.0,320.5 L175.3,305.5 L189.7,290.5 L199.2,275.5 L218.3,260.5 L223.1,245.5 L232.6,230.5 L242.2,215.5 L251.7,200.5 L256.5,185.5 L270.8,170.5 L289.9,155.5 L299.5,140.5 L309.0,125.5 L318.6,110.5 L328.1,95.5 L332.9,80.5 M118.0,365.5 L132.4,350.5 L146.7,335.5 L161.0,320.5 L170.6,305.5 L184.9,290.5 L194.4,275.5 L213.5,260.5 L223.1,245.5 L232.6,230.5 L247.0,215.5 L251.7,200.5 L266.1,185.5 L280.4,170.5 L294.7,155.5 L304.2,140.5 L313.8,125.5 L313.8,110.5 L318.6,95.5 L323.4,80.5 M122.8,365.5 L137.1,350.5 L146.7,335.5 L161.0,320.5 L175.3,305.5 L189.7,290.5 L199.2,275.5 L208.8,260.5 L218.3,245.5 L223.1,230.5 L237.4,215.5 L247.0,200.5 L256.5,185.5 L266.1,170.5 L280.4,155.5 L294.7,140.5 L304.2,125.5 L318.6,110.5 L323.4,95.5 L323.4,80.5 M118.0,365.5 L127.6,350.5 L146.7,335.5 L156.2,320.5 L165.8,305.5 L184.9,290.5 L194.4,275.5 L208.8,260.5 L223.1,245.5 L232.6,230.5 L242.2,215.5 L247.0,200.5 L256.5,185.5 L261.3,170.5 L275.6,155.5 L289.9,140.5 L299.5,125.5 L313.8,110.5 L332.9,95.5 L332.9,80.5 M113.2,365.5 L132.4,350.5 L141.9,335.5 L156.2,320.5 L170.6,305.5 L184.9,290.5 L199.2,275.5 L213.5,260.5 L227.9,245.5 L232.6,230.5 L232.6,215.5 L251.7,200.5 L256.5,185.5 L270.8,170.5 L285.1,155.5 L289.9,140.5 L304.2,125.5 L318.6,110.5 L323.4,95.5 L328.1,80.5 M118.0,365.5 L127.6,350.5 L141.9,335.5 L156.2,320.5 L170.6,305.5 L184.9,290.5 L199.2,275.5 L213.5,260.5 L223.1,245.5 L232.6,230.5 L232.6,215.5 L251.7,200.5 L256.5,185.5 L261.3,170.5 L280.4,155.5 L289.9,140.5 L299.5,125.5 L313.8,110.5 L318.6,95.5 L332.9,80.5 M118.0,365.5 L132.4,350.5 L141.9,335.5 L156.2,320.5 L165.8,305.5 L180.1,290.5 L199.2,275.5 L213.5,260.5 L223.1,245.5 L227.9,230.5 L242.2,215.5 L251.7,200.5 L270.8,185.5 L270.8,170.5 L280.4,155.5 L294.7,140.5 L309.0,125.5 L313.8,110.5 L323.4,95.5 L337.7,80.5 M122.8,365.5 L132.4,350.5 L141.9,335.5 L156.2,320.5 L170.6,305.5 L184.9,290.5 L199.2,275.5 L208.8,260.5 L218.3,245.5 L232.6,230.5 L242.2,215.5 L251.7,200.5 L266.1,185.5 L270.8,170.5 L285.1,155.5 L294.7,140.5 L304.2,125.5 L313.8,110.5 L323.4,95.5 L323.4,80.5 M118.0,365.5 L132.4,350.5 L141.9,335.5 L151.4,320.5 L165.8,305.5 L175.3,290.5 L194.4,275.5 L208.8,260.5 L218.3,245.5 L227.9,230.5 L237.4,215.5 L247.0,200.5 L256.5,185.5 L266.1,170.5 L280.4,155.5 L294.7,140.5 L309.0,125.5 L323.4,110.5 L323.4,95.5 L332.9,80.5 M118.0,365.5 L137.1,350.5 L151.4,335.5 L161.0,320.5 L175.3,305.5 L184.9,290.5 L199.2,275.5 L208.8,260.5 L218.3,245.5 L232.6,230.5 L242.2,215.5 L256.5,200.5 L266.1,185.5 L270.8,170.5 L285.1,155.5 L294.7,140.5 L299.5,125.5 L313.8,110.5 L328.1,95.5 L337.7,80.5 M118.0,365.5 L132.4,350.5 L146.7,335.5 L156.2,320.5 L170.6,305.5 L184.9,290.5 L199.2,275.5 L213.5,260.5 L223.1,245.5 L227.9,230.5 L242.2,215.5 L256.5,200.5 L266.1,185.5 L275.6,170.5 L285.1,155.5 L294.7,140.5 L304.2,125.5 L323.4,110.5 L332.9,95.5 L337.7,80.5 M122.8,365.5 L137.1,350.5 L146.7,335.5 L156.2,320.5 L170.6,305.5 L180.1,290.5 L194.4,275.5 L204.0,260.5 L218.3,245.5 L227.9,230.5 L242.2,215.5 L247.0,200.5 L256.5,185.5 L275.6,170.5 L280.4,155.5 L289.9,140.5 L299.5,125.5 L309.0,110.5 L323.4,95.5 L337.7,80.5 M122.8,365.5 L137.1,350.5 L151.4,335.5 L161.0,320.5 L170.6,305.5 L184.9,290.5 L199.2,275.5 L218.3,260.5 L227.9,245.5 L232.6,230.5 L242.2,215.5 L251.7,200.5 L266.1,185.5 L270.8,170.5 L285.1,155.5 L294.7,140.5 L309.0,125.5 L318.6,110.5 L332.9,95.5 L337.7,80.5 M122.8,365.5 L137.1,350.5 L151.4,335.5 L161.0,320.5 L175.3,305.5 L189.7,290.5 L199.2,275.5 L208.8,260.5 L218.3,245.5 L227.9,230.5 L242.2,215.5 L251.7,200.5 L266.1,185.5 L280.4,170.5 L289.9,155.5 L294.7,140.5 L299.5,125.5 L313.8,110.5 L328.1,95.5 L337.7,80.5 M118.0,365.5 L137.1,350.5 L146.7,335.5 L156.2,320.5 L170.6,305.5 L184.9,290.5 L204.0,275.5 L213.5,260.5 L218.3,245.5 L232.6,230.5 L247.0,215.5 L251.7,200.5 L261.3,185.5 L270.8,170.5 L285.1,155.5 L294.7,140.5 L309.0,125.5 L318.6,110.5 L323.4,95.5 L332.9,80.5 M122.8,365.5 L137.1,350.5 L151.4,335.5 L161.0,320.5 L170.6,305.5 L189.7,290.5 L204.0,275.5 L213.5,260.5 L227.9,245.5 L237.4,230.5 L242.2,215.5 L247.0,200.5 L261.3,185.5 L270.8,170.5 L280.4,155.5 L294.7,140.5 L299.5,125.5 L313.8,110.5 L332.9,95.5 L332.9,80.5 M122.8,365.5 L132.4,350.5 L146.7,335.5 L156.2,320.5 L175.3,305.5 L189.7,290.5 L204.0,275.5 L213.5,260.5 L223.1,245.5 L232.6,230.5 L242.2,215.5 L251.7,200.5 L256.5,185.5 L275.6,170.5 L285.1,155.5 L304.2,140.5 L309.0,125.5 L318.6,110.5 L332.9,95.5 L342.5,80.5 M118.0,365.5 L132.4,350.5 L146.7,335.5 L156.2,320.5 L170.6,305.5 L189.7,290.5 L194.4,275.5 L208.8,260.5 L223.1,245.5 L232.6,230.5 L237.4,215.5 L251.7,200.5 L266.1,185.5 L280.4,170.5 L285.1,155.5 L294.7,140.5 L309.0,125.5 L318.6,110.5 L328.1,95.5 L337.7,80.5 M122.8,365.5 L141.9,350.5 L146.7,335.5 L156.2,320.5 L170.6,305.5 L184.9,290.5 L199.2,275.5 L213.5,260.5 L218.3,245.5 L232.6,230.5 L237.4,215.5 L251.7,200.5 L266.1,185.5 L275.6,170.5 L285.1,155.5 L299.5,140.5 L313.8,125.5 L318.6,110.5 L332.9,95.5 L332.9,80.5 M118.0,365.5 L132.4,350.5 L146.7,335.5 L156.2,320.5 L170.6,305.5 L180.1,290.5 L194.4,275.5 L213.5,260.5 L223.1,245.5 L232.6,230.5 L242.2,215.5 L256.5,200.5 L266.1,185.5 L275.6,170.5 L289.9,155.5 L299.5,140.5 L318.6,125.5 L328.1,110.5 L332.9,95.5 L337.7,80.5 M118.0,365.5 L132.4,350.5 L146.7,335.5 L161.0,320.5 L175.3,305.5 L184.9,290.5 L199.2,275.5 L208.8,260.5 L223.1,245.5 L227.9,230.5 L237.4,215.5 L247.0,200.5 L256.5,185.5 L270.8,170.5 L289.9,155.5 L299.5,140.5 L304.2,125.5 L313.8,110.5 L328.1,95.5 L337.7,80.5 M122.8,365.5 L137.1,350.5 L151.4,335.5 L161.0,320.5 L180.1,305.5 L189.7,290.5 L199.2,275.5 L213.5,260.5 L223.1,245.5 L237.4,230.5 L242.2,215.5 L256.5,200.5 L266.1,185.5 L280.4,170.5 L285.1,155.5 L294.7,140.5 L309.0,125.5 L318.6,110.5 L332.9,95.5 L337.7,80.5 M122.8,365.5 L132.4,350.5 L141.9,335.5 L156.2,320.5 L170.6,305.5 L184.9,290.5 L199.2,275.5 L218.3,260.5 L223.1,245.5 L232.6,230.5 L237.4,215.5 L251.7,200.5 L266.1,185.5 L275.6,170.5 L285.1,155.5 L299.5,140.5 L309.0,125.5 L323.4,110.5 L332.9,95.5 L337.7,80.5 M118.0,365.5 L132.4,350.5 L146.7,335.5 L156.2,320.5 L170.6,305.5 L184.9,290.5 L199.2,275.5 L208.8,260.5 L223.1,245.5 L232.6,230.5 L242.2,215.5 L256.5,200.5 L266.1,185.5 L275.6,170.5 L289.9,155.5 L304.2,140.5 L318.6,125.5 L328.1,110.5 L337.7,95.5 L342.5,80.5 M122.8,365.5 L137.1,350.5 L146.7,335.5 L165.8,320.5 L180.1,305.5 L189.7,290.5 L204.0,275.5 L213.5,260.5 L223.1,245.5 L232.6,230.5 L247.0,215.5 L256.5,200.5 L270.8,185.5 L280.4,170.5 L289.9,155.5 L304.2,140.5 L304.2,125.5 L323.4,110.5 L337.7,95.5 L342.5,80.5 M122.8,365.5 L137.1,350.5 L146.7,335.5 L161.0,320.5 L175.3,305.5 L189.7,290.5 L204.0,275.5 L218.3,260.5 L227.9,245.5 L237.4,230.5 L242.2,215.5 L251.7,200.5 L261.3,185.5 L280.4,170.5 L289.9,155.5 L294.7,140.5 L304.2,125.5 L323.4,110.5 L332.9,95.5 L337.7,80.5 M118.0,365.5 L132.4,350.5 L146.7,335.5 L165.8,320.5 L175.3,305.5 L189.7,290.5 L208.8,275.5 L218.3,260.5 L232.6,245.5 L237.4,230.5 L247.0,215.5 L261.3,200.5 L270.8,185.5 L280.4,170.5 L285.1,155.5 L299.5,140.5 L313.8,125.5 L328.1,110.5 L328.1,95.5 L337.7,80.5 M122.8,365.5 L137.1,350.5 L151.4,335.5 L161.0,320.5 L175.3,305.5 L189.7,290.5 L204.0,275.5 L213.5,260.5 L227.9,245.5 L232.6,230.5 L237.4,215.5 L247.0,200.5 L261.3,185.5 L275.6,170.5 L289.9,155.5 L294.7,140.5 L313.8,125.5 L323.4,110.5 L323.4,95.5 L337.7,80.5 M118.0,365.5 L137.1,350.5 L151.4,335.5 L161.0,320.5 L170.6,305.5 L184.9,290.5 L204.0,275.5 L218.3,260.5 L227.9,245.5 L232.6,230.5 L242.2,215.5 L251.7,200.5 L266.1,185.5 L275.6,170.5 L289.9,155.5 L294.7,140.5 L309.0,125.5 L323.4,110.5 L328.1,95.5 L342.5,80.5 M127.6,365.5 L141.9,350.5 L146.7,335.5 L161.0,320.5 L170.6,305.5 L189.7,290.5 L199.2,275.5 L218.3,260.5 L232.6,245.5 L237.4,230.5 L251.7,215.5 L261.3,200.5 L270.8,185.5 L280.4,170.5 L294.7,155.5 L304.2,140.5 L318.6,125.5 L323.4,110.5 L332.9,95.5 L332.9,80.5 M122.8,365.5 L137.1,350.5 L146.7,335.5 L161.0,320.5 L170.6,305.5 L184.9,290.5 L199.2,275.5 L213.5,260.5 L227.9,245.5 L237.4,230.5 L247.0,215.5 L256.5,200.5 L270.8,185.5 L280.4,170.5 L294.7,155.5 L304.2,140.5 L318.6,125.5 L323.4,110.5 L332.9,95.5 L337.7,80.5 M118.0,365.5 L137.1,350.5 L151.4,335.5 L161.0,320.5 L184.9,305.5 L199.2,290.5 L213.5,275.5 L227.9,260.5 L237.4,245.5 L242.2,230.5 L251.7,215.5 L261.3,200.5 L266.1,185.5 L280.4,170.5 L294.7,155.5 L309.0,140.5 L318.6,125.5 L323.4,110.5 L337.7,95.5 L342.5,80.5 M122.8,365.5 L137.1,350.5 L146.7,335.5 L161.0,320.5 L170.6,305.5 L184.9,290.5 L194.4,275.5 L213.5,260.5 L223.1,245.5 L237.4,230.5 L247.0,215.5 L256.5,200.5 L266.1,185.5 L280.4,170.5 L289.9,155.5 L304.2,140.5 L318.6,125.5 L323.4,110.5 L337.7,95.5 L342.5,80.5 M122.8,365.5 L132.4,350.5 L141.9,335.5 L161.0,320.5 L175.3,305.5 L194.4,290.5 L204.0,275.5 L213.5,260.5 L227.9,245.5 L237.4,230.5 L247.0,215.5 L251.7,200.5 L266.1,185.5 L280.4,170.5 L289.9,155.5 L304.2,140.5 L313.8,125.5 L318.6,110.5 L328.1,95.5 L332.9,80.5 M118.0,365.5 L132.4,350.5 L146.7,335.5 L161.0,320.5 L170.6,305.5 L184.9,290.5 L194.4,275.5 L213.5,260.5 L223.1,245.5 L232.6,230.5 L237.4,215.5 L251.7,200.5 L261.3,185.5 L275.6,170.5 L285.1,155.5 L304.2,140.5 L309.0,125.5 L323.4,110.5 L337.7,95.5 L342.5,80.5 M127.6,365.5 L137.1,350.5 L146.7,335.5 L161.0,320.5 L175.3,305.5 L189.7,290.5 L204.0,275.5 L218.3,260.5 L232.6,245.5 L237.4,230.5 L242.2,215.5 L256.5,200.5 L270.8,185.5 L280.4,170.5 L294.7,155.5 L304.2,140.5 L313.8,125.5 L328.1,110.5 L337.7,95.5 L337.7,80.5 M118.0,365.5 L137.1,350.5 L146.7,335.5 L165.8,320.5 L180.1,305.5 L189.7,290.5 L208.8,275.5 L223.1,260.5 L237.4,245.5 L242.2,230.5 L247.0,215.5 L256.5,200.5 L275.6,185.5 L285.1,170.5 L299.5,155.5 L313.8,140.5 L318.6,125.5 L323.4,110.5 L342.5,95.5 L342.5,80.5 M122.8,365.5 L137.1,350.5 L146.7,335.5 L156.2,320.5 L175.3,305.5 L194.4,290.5 L208.8,275.5 L218.3,260.5 L227.9,245.5 L242.2,230.5 L247.0,215.5 L256.5,200.5 L261.3,185.5 L280.4,170.5 L289.9,155.5 L309.0,140.5 L313.8,125.5 L332.9,110.5 L342.5,95.5 L347.2,80.5 M122.8,365.5 L137.1,350.5 L146.7,335.5 L161.0,320.5 L175.3,305.5 L184.9,290.5 L204.0,275.5 L218.3,260.5 L227.9,245.5 L237.4,230.5 L242.2,215.5 L261.3,200.5 L275.6,185.5 L280.4,170.5 L289.9,155.5 L309.0,140.5 L318.6,125.5 L332.9,110.5 L342.5,95.5 L352.0,80.5 M118.0,365.5 L137.1,350.5 L146.7,335.5 L161.0,320.5 L175.3,305.5 L194.4,290.5 L204.0,275.5 L223.1,260.5 L232.6,245.5 L237.4,230.5 L242.2,215.5 L256.5,200.5 L270.8,185.5 L275.6,170.5 L280.4,155.5 L299.5,140.5 L313.8,125.5 L332.9,110.5 L337.7,95.5 L342.5,80.5 M122.8,365.5 L137.1,350.5 L151.4,335.5 L165.8,320.5 L175.3,305.5 L194.4,290.5 L204.0,275.5 L218.3,260.5 L227.9,245.5 L242.2,230.5 L247.0,215.5 L261.3,200.5 L270.8,185.5 L280.4,170.5 L294.7,155.5 L299.5,140.5 L313.8,125.5 L328.1,110.5 L337.7,95.5 L352.0,80.5 M122.8,365.5 L137.1,350.5 L146.7,335.5 L161.0,320.5 L175.3,305.5 L194.4,290.5 L208.8,275.5 L213.5,260.5 L227.9,245.5 L232.6,230.5 L242.2,215.5 L251.7,200.5 L266.1,185.5 L280.4,170.5 L289.9,155.5 L309.0,140.5 L318.6,125.5 L328.1,110.5 L332.9,95.5 L342.5,80.5 M127.6,365.5 L137.1,350.5 L151.4,335.5 L161.0,320.5 L180.1,305.5 L194.4,290.5 L208.8,275.5 L218.3,260.5 L227.9,245.5 L237.4,230.5 L247.0,215.5 L256.5,200.5 L270.8,185.5 L285.1,170.5 L294.7,155.5 L299.5,140.5 L309.0,125.5 L318.6,110.5 L332.9,95.5 L342.5,80.5 M127.6,365.5 L141.9,350.5 L156.2,335.5 L165.8,320.5 L180.1,305.5 L194.4,290.5 L204.0,275.5 L218.3,260.5 L227.9,245.5 L242.2,230.5 L247.0,215.5 L251.7,200.5 L266.1,185.5 L280.4,170.5 L289.9,155.5 L304.2,140.5 L318.6,125.5 L328.1,110.5 L337.7,95.5 L342.5,80.5 M118.0,365.5 L132.4,350.5 L146.7,335.5 L161.0,320.5 L180.1,305.5 L194.4,290.5 L208.8,275.5 L223.1,260.5 L232.6,245.5 L247.0,230.5 L251.7,215.5 L261.3,200.5 L270.8,185.5 L289.9,170.5 L294.7,155.5 L304.2,140.5 L313.8,125.5 L323.4,110.5 L332.9,95.5 L342.5,80.5 M122.8,365.5 L137.1,350.5 L146.7,335.5 L161.0,320.5 L175.3,305.5 L189.7,290.5 L204.0,275.5 L218.3,260.5 L227.9,245.5 L237.4,230.5 L247.0,215.5 L256.5,200.5 L266.1,185.5 L285.1,170.5 L299.5,155.5 L304.2,140.5 L318.6,125.5 L323.4,110.5 L337.7,95.5 L342.5,80.5 M122.8,365.5 L137.1,350.5 L156.2,335.5 L165.8,320.5 L180.1,305.5 L194.4,290.5 L208.8,275.5 L223.1,260.5 L227.9,245.5 L232.6,230.5 L247.0,215.5 L251.7,200.5 L266.1,185.5 L280.4,170.5 L294.7,155.5 L299.5,140.5 L313.8,125.5 L328.1,110.5 L342.5,95.5 L352.0,80.5 M118.0,365.5 L137.1,350.5 L146.7,335.5 L161.0,320.5 L170.6,305.5 L189.7,290.5 L204.0,275.5 L218.3,260.5 L227.9,245.5 L237.4,230.5 L247.0,215.5 L256.5,200.5 L266.1,185.5 L280.4,170.5 L289.9,155.5 L309.0,140.5 L323.4,125.5 L328.1,110.5 L342.5,95.5 L347.2,80.5 M122.8,365.5 L137.1,350.5 L151.4,335.5 L161.0,320.5 L170.6,305.5 L189.7,290.5 L199.2,275.5 L218.3,260.5 L232.6,245.5 L247.0,230.5 L251.7,215.5 L266.1,200.5 L270.8,185.5 L280.4,170.5 L294.7,155.5 L299.5,140.5 L313.8,125.5 L328.1,110.5 L342.5,95.5 L347.2,80.5 M122.8,365.5 L137.1,350.5 L146.7,335.5 L156.2,320.5 L175.3,305.5 L194.4,290.5 L213.5,275.5 L223.1,260.5 L227.9,245.5 L242.2,230.5 L247.0,215.5 L266.1,200.5 L275.6,185.5 L280.4,170.5 L294.7,155.5 L309.0,140.5 L313.8,125.5 L328.1,110.5 L332.9,95.5 L347.2,80.5 M122.8,365.5 L137.1,350.5 L141.9,335.5 L156.2,320.5 L165.8,305.5 L184.9,290.5 L208.8,275.5 L218.3,260.5 L232.6,245.5 L237.4,230.5 L247.0,215.5 L256.5,200.5 L266.1,185.5 L285.1,170.5 L299.5,155.5 L304.2,140.5 L323.4,125.5 L332.9,110.5 L342.5,95.5 L352.0,80.5 M127.6,365.5 L141.9,350.5 L151.4,335.5 L165.8,320.5 L180.1,305.5 L194.4,290.5 L213.5,275.5 L223.1,260.5 L227.9,245.5 L237.4,230.5 L247.0,215.5 L261.3,200.5 L270.8,185.5 L289.9,170.5 L304.2,155.5 L313.8,140.5 L323.4,125.5 L332.9,110.5 L342.5,95.5 L352.0,80.5 M127.6,365.5 L141.9,350.5 L156.2,335.5 L165.8,320.5 L180.1,305.5 L194.4,290.5 L208.8,275.5 L223.1,260.5 L232.6,245.5 L242.2,230.5 L247.0,215.5 L261.3,200.5 L270.8,185.5 L280.4,170.5 L289.9,155.5 L304.2,140.5 L313.8,125.5 L323.4,110.5 L332.9,95.5 L337.7,80.5 M122.8,365.5 L137.1,350.5 L151.4,335.5 L165.8,320.5 L180.1,305.5 L189.7,290.5 L208.8,275.5 L218.3,260.5 L232.6,245.5 L237.4,230.5 L247.0,215.5 L256.5,200.5 L270.8,185.5 L289.9,170.5 L299.5,155.5 L309.0,140.5 L323.4,125.5 L332.9,110.5 L342.5,95.5 L352.0,80.5 M127.6,365.5 L141.9,350.5 L151.4,335.5 L165.8,320.5 L180.1,305.5 L194.4,290.5 L213.5,275.5 L232.6,260.5 L232.6,245.5 L242.2,230.5 L251.7,215.5 L266.1,200.5 L275.6,185.5 L275.6,170.5 L289.9,155.5 L304.2,140.5 L309.0,125.5 L332.9,110.5 L332.9,95.5 L342.5,80.5 M122.8,365.5 L137.1,350.5 L151.4,335.5 L161.0,320.5 L175.3,305.5 L189.7,290.5 L199.2,275.5 L213.5,260.5 L232.6,245.5 L237.4,230.5 L247.0,215.5 L266.1,200.5 L280.4,185.5 L289.9,170.5 L304.2,155.5 L313.8,140.5 L318.6,125.5 L332.9,110.5 L342.5,95.5 L356.8,80.5 M122.8,365.5 L137.1,350.5 L151.4,335.5 L161.0,320.5 L175.3,305.5 L189.7,290.5 L208.8,275.5 L223.1,260.5 L237.4,245.5 L247.0,230.5 L247.0,215.5 L261.3,200.5 L280.4,185.5 L289.9,170.5 L294.7,155.5 L309.0,140.5 L309.0,125.5 L323.4,110.5 L337.7,95.5 L342.5,80.5 M127.6,365.5 L137.1,350.5 L146.7,335.5 L156.2,320.5 L175.3,305.5 L199.2,290.5 L213.5,275.5 L227.9,260.5 L232.6,245.5 L242.2,230.5 L251.7,215.5 L261.3,200.5 L275.6,185.5 L289.9,170.5 L294.7,155.5 L309.0,140.5 L323.4,125.5 L332.9,110.5 L342.5,95.5 L347.2,80.5 M122.8,365.5 L141.9,350.5 L156.2,335.5 L161.0,320.5 L180.1,305.5 L194.4,290.5 L208.8,275.5 L218.3,260.5 L232.6,245.5 L242.2,230.5 L247.0,215.5 L261.3,200.5 L266.1,185.5 L275.6,170.5 L289.9,155.5 L304.2,140.5 L318.6,125.5 L328.1,110.5 L342.5,95.5 L352.0,80.5 M127.6,365.5 L141.9,350.5 L151.4,335.5 L165.8,320.5 L180.1,305.5 L199.2,290.5 L208.8,275.5 L223.1,260.5 L232.6,245.5 L242.2,230.5 L251.7,215.5 L266.1,200.5 L270.8,185.5 L285.1,170.5 L299.5,155.5 L313.8,140.5 L323.4,125.5 L332.9,110.5 L347.2,95.5 L356.8,80.5 M122.8,365.5 L137.1,350.5 L146.7,335.5 L161.0,320.5 L175.3,305.5 L189.7,290.5 L208.8,275.5 L223.1,260.5 L227.9,245.5 L237.4,230.5 L251.7,215.5 L261.3,200.5 L275.6,185.5 L285.1,170.5 L294.7,155.5 L304.2,140.5 L318.6,125.5 L337.7,110.5 L347.2,95.5 L356.8,80.5 M127.6,365.5 L137.1,350.5 L146.7,335.5 L156.2,320.5 L175.3,305.5 L194.4,290.5 L208.8,275.5 L223.1,260.5 L232.6,245.5 L247.0,230.5 L251.7,215.5 L261.3,200.5 L275.6,185.5 L285.1,170.5 L299.5,155.5 L309.0,140.5 L328.1,125.5 L337.7,110.5 L352.0,95.5 L356.8,80.5 M122.8,365.5 L137.1,350.5 L151.4,335.5 L161.0,320.5 L180.1,305.5 L194.4,290.5 L208.8,275.5 L218.3,260.5 L232.6,245.5 L247.0,230.5 L256.5,215.5 L266.1,200.5 L275.6,185.5 L289.9,170.5 L299.5,155.5 L313.8,140.5 L323.4,125.5 L337.7,110.5 L347.2,95.5 L352.0,80.5 M122.8,365.5 L137.1,350.5 L146.7,335.5 L161.0,320.5 L170.6,305.5 L189.7,290.5 L213.5,275.5 L223.1,260.5 L232.6,245.5 L237.4,230.5 L247.0,215.5 L261.3,200.5 L275.6,185.5 L285.1,170.5 L294.7,155.5 L304.2,140.5 L318.6,125.5 L337.7,110.5 L347.2,95.5 L352.0,80.5 M122.8,365.5 L141.9,350.5 L156.2,335.5 L170.6,320.5 L189.7,305.5 L199.2,290.5 L213.5,275.5 L227.9,260.5 L242.2,245.5 L251.7,230.5 L256.5,215.5 L261.3,200.5 L275.6,185.5 L285.1,170.5 L299.5,155.5 L313.8,140.5 L328.1,125.5 L332.9,110.5 L342.5,95.5 L347.2,80.5 M127.6,365.5 L137.1,350.5 L151.4,335.5 L165.8,320.5 L180.1,305.5 L194.4,290.5 L213.5,275.5 L218.3,260.5 L223.1,245.5 L232.6,230.5 L247.0,215.5 L251.7,200.5 L270.8,185.5 L280.4,170.5 L294.7,155.5 L309.0,140.5 L318.6,125.5 L332.9,110.5 L347.2,95.5 L352.0,80.5 M122.8,365.5 L137.1,350.5 L151.4,335.5 L165.8,320.5 L180.1,305.5 L194.4,290.5 L208.8,275.5 L218.3,260.5 L227.9,245.5 L242.2,230.5 L247.0,215.5 L256.5,200.5 L270.8,185.5 L289.9,170.5 L299.5,155.5 L309.0,140.5 L318.6,125.5 L332.9,110.5 L347.2,95.5 L352.0,80.5 M122.8,365.5 L141.9,350.5 L156.2,335.5 L165.8,320.5 L180.1,305.5 L194.4,290.5 L208.8,275.5 L227.9,260.5 L237.4,245.5 L242.2,230.5 L251.7,215.5 L266.1,200.5 L275.6,185.5 L289.9,170.5 L304.2,155.5 L323.4,140.5 L323.4,125.5 L328.1,110.5 L342.5,95.5 L356.8,80.5 M122.8,365.5 L137.1,350.5 L151.4,335.5 L165.8,320.5 L175.3,305.5 L194.4,290.5 L204.0,275.5 L218.3,260.5 L227.9,245.5 L237.4,230.5 L247.0,215.5 L261.3,200.5 L280.4,185.5 L289.9,170.5 L299.5,155.5 L313.8,140.5 L328.1,125.5 L342.5,110.5 L352.0,95.5 L356.8,80.5 M122.8,365.5 L141.9,350.5 L151.4,335.5 L165.8,320.5 L180.1,305.5 L199.2,290.5 L213.5,275.5 L227.9,260.5 L237.4,245.5 L247.0,230.5 L251.7,215.5 L266.1,200.5 L285.1,185.5 L294.7,170.5 L304.2,155.5 L313.8,140.5 L328.1,125.5 L337.7,110.5 L352.0,95.5 L356.8,80.5 M127.6,365.5 L146.7,350.5 L156.2,335.5 L165.8,320.5 L180.1,305.5 L194.4,290.5 L213.5,275.5 L227.9,260.5 L232.6,245.5 L242.2,230.5 L247.0,215.5 L256.5,200.5 L270.8,185.5 L285.1,170.5 L304.2,155.5 L318.6,140.5 L332.9,125.5 L337.7,110.5 L352.0,95.5 L361.6,80.5 M127.6,365.5 L141.9,350.5 L156.2,335.5 L170.6,320.5 L184.9,305.5 L194.4,290.5 L208.8,275.5 L227.9,260.5 L237.4,245.5 L247.0,230.5 L256.5,215.5 L266.1,200.5 L275.6,185.5 L289.9,170.5 L299.5,155.5 L313.8,140.5 L328.1,125.5 L337.7,110.5 L347.2,95.5 L352.0,80.5 M122.8,365.5 L137.1,350.5 L151.4,335.5 L161.0,320.5 L175.3,305.5 L194.4,290.5 L208.8,275.5 L223.1,260.5 L237.4,245.5 L247.0,230.5 L256.5,215.5 L266.1,200.5 L280.4,185.5 L289.9,170.5 L299.5,155.5 L309.0,140.5 L323.4,125.5 L337.7,110.5 L342.5,95.5 L352.0,80.5 M127.6,365.5 L141.9,350.5 L156.2,335.5 L170.6,320.5 L180.1,305.5 L199.2,290.5 L213.5,275.5 L227.9,260.5 L232.6,245.5 L247.0,230.5 L256.5,215.5 L261.3,200.5 L275.6,185.5 L285.1,170.5 L294.7,155.5 L304.2,140.5 L328.1,125.5 L337.7,110.5 L347.2,95.5 L352.0,80.5 M122.8,365.5 L137.1,350.5 L151.4,335.5 L165.8,320.5 L184.9,305.5 L204.0,290.5 L213.5,275.5 L227.9,260.5 L237.4,245.5 L242.2,230.5 L261.3,215.5 L270.8,200.5 L280.4,185.5 L289.9,170.5 L299.5,155.5 L309.0,140.5 L328.1,125.5 L337.7,110.5 L347.2,95.5 L356.8,80.5 M122.8,365.5 L137.1,350.5 L151.4,335.5 L165.8,320.5 L180.1,305.5 L194.4,290.5 L213.5,275.5 L227.9,260.5 L237.4,245.5 L247.0,230.5 L251.7,215.5 L266.1,200.5 L280.4,185.5 L289.9,170.5 L294.7,155.5 L304.2,140.5 L318.6,125.5 L337.7,110.5 L347.2,95.5 L361.6,80.5 M122.8,365.5 L137.1,350.5 L151.4,335.5 L165.8,320.5 L180.1,305.5 L199.2,290.5 L213.5,275.5 L227.9,260.5 L242.2,245.5 L247.0,230.5 L247.0,215.5 L256.5,200.5 L270.8,185.5 L280.4,170.5 L299.5,155.5 L309.0,140.5 L332.9,125.5 L342.5,110.5 L347.2,95.5 L356.8,80.5 M127.6,365.5 L146.7,350.5 L151.4,335.5 L165.8,320.5 L180.1,305.5 L204.0,290.5 L213.5,275.5 L227.9,260.5 L242.2,245.5 L247.0,230.5 L256.5,215.5 L270.8,200.5 L285.1,185.5 L294.7,170.5 L304.2,155.5 L323.4,140.5 L337.7,125.5 L347.2,110.5 L356.8,95.5 L356.8,80.5 M127.6,365.5 L141.9,350.5 L151.4,335.5 L165.8,320.5 L180.1,305.5 L194.4,290.5 L213.5,275.5 L223.1,260.5 L237.4,245.5 L247.0,230.5 L256.5,215.5 L266.1,200.5 L280.4,185.5 L299.5,170.5 L304.2,155.5 L313.8,140.5 L328.1,125.5 L342.5,110.5 L352.0,95.5 L356.8,80.5 M127.6,365.5 L146.7,350.5 L156.2,335.5 L165.8,320.5 L175.3,305.5 L189.7,290.5 L213.5,275.5 L223.1,260.5 L242.2,245.5 L251.7,230.5 L261.3,215.5 L270.8,200.5 L285.1,185.5 L299.5,170.5 L304.2,155.5 L313.8,140.5 L328.1,125.5 L337.7,110.5 L347.2,95.5 L352.0,80.5 M122.8,365.5 L141.9,350.5 L161.0,335.5 L170.6,320.5 L184.9,305.5 L199.2,290.5 L213.5,275.5 L227.9,260.5 L237.4,245.5 L251.7,230.5 L261.3,215.5 L270.8,200.5 L275.6,185.5 L285.1,170.5 L304.2,155.5 L313.8,140.5 L328.1,125.5 L342.5,110.5 L347.2,95.5 L356.8,80.5 M127.6,365.5 L141.9,350.5 L156.2,335.5 L165.8,320.5 L180.1,305.5 L199.2,290.5 L213.5,275.5 L223.1,260.5 L237.4,245.5 L247.0,230.5 L256.5,215.5 L266.1,200.5 L280.4,185.5 L294.7,170.5 L309.0,155.5 L318.6,140.5 L332.9,125.5 L342.5,110.5 L352.0,95.5 L361.6,80.5 M122.8,365.5 L137.1,350.5 L156.2,335.5 L170.6,320.5 L180.1,305.5 L199.2,290.5 L213.5,275.5 L227.9,260.5 L237.4,245.5 L247.0,230.5 L256.5,215.5 L270.8,200.5 L275.6,185.5 L285.1,170.5 L304.2,155.5 L313.8,140.5 L332.9,125.5 L347.2,110.5 L356.8,95.5 L356.8,80.5 M127.6,365.5 L141.9,350.5 L156.2,335.5 L170.6,320.5 L184.9,305.5 L204.0,290.5 L213.5,275.5 L223.1,260.5 L237.4,245.5 L247.0,230.5 L256.5,215.5 L266.1,200.5 L280.4,185.5 L299.5,170.5 L313.8,155.5 L328.1,140.5 L337.7,125.5 L347.2,110.5 L356.8,95.5 L361.6,80.5 M122.8,365.5 L137.1,350.5 L151.4,335.5 L161.0,320.5 L180.1,305.5 L199.2,290.5 L213.5,275.5 L227.9,260.5 L237.4,245.5 L251.7,230.5 L256.5,215.5 L266.1,200.5 L275.6,185.5 L294.7,170.5 L304.2,155.5 L313.8,140.5 L323.4,125.5 L332.9,110.5 L342.5,95.5 L356.8,80.5 M122.8,365.5 L132.4,350.5 L146.7,335.5 L161.0,320.5 L175.3,305.5 L194.4,290.5 L204.0,275.5 L223.1,260.5 L237.4,245.5 L247.0,230.5 L256.5,215.5 L270.8,200.5 L285.1,185.5 L289.9,170.5 L304.2,155.5 L313.8,140.5 L328.1,125.5 L342.5,110.5 L352.0,95.5 L361.6,80.5 M127.6,365.5 L137.1,350.5 L151.4,335.5 L165.8,320.5 L184.9,305.5 L194.4,290.5 L213.5,275.5 L227.9,260.5 L242.2,245.5 L251.7,230.5 L266.1,215.5 L275.6,200.5 L285.1,185.5 L294.7,170.5 L299.5,155.5 L318.6,140.5 L332.9,125.5 L347.2,110.5 L356.8,95.5 L356.8,80.5 M127.6,365.5 L141.9,350.5 L151.4,335.5 L165.8,320.5 L184.9,305.5 L204.0,290.5 L213.5,275.5 L223.1,260.5 L232.6,245.5 L242.2,230.5 L247.0,215.5 L261.3,200.5 L275.6,185.5 L294.7,170.5 L309.0,155.5 L318.6,140.5 L332.9,125.5 L342.5,110.5 L356.8,95.5 L366.3,80.5 M122.8,365.5 L141.9,350.5 L156.2,335.5 L165.8,320.5 L184.9,305.5 L199.2,290.5 L213.5,275.5 L223.1,260.5 L237.4,245.5 L242.2,230.5 L256.5,215.5 L270.8,200.5 L285.1,185.5 L289.9,170.5 L304.2,155.5 L318.6,140.5 L332.9,125.5 L342.5,110.5 L356.8,95.5 L366.3,80.5 M132.4,365.5 L141.9,350.5 L151.4,335.5 L161.0,320.5 L180.1,305.5 L199.2,290.5 L218.3,275.5 L227.9,260.5 L242.2,245.5 L256.5,230.5 L261.3,215.5 L270.8,200.5 L289.9,185.5 L299.5,170.5 L313.8,155.5 L323.4,140.5 L332.9,125.5 L342.5,110.5 L352.0,95.5 L361.6,80.5 M127.6,365.5 L141.9,350.5 L151.4,335.5 L165.8,320.5 L180.1,305.5 L194.4,290.5 L213.5,275.5 L227.9,260.5 L242.2,245.5 L256.5,230.5 L256.5,215.5 L266.1,200.5 L280.4,185.5 L289.9,170.5 L304.2,155.5 L313.8,140.5 L332.9,125.5 L342.5,110.5 L356.8,95.5 L361.6,80.5 M127.6,365.5 L141.9,350.5 L156.2,335.5 L165.8,320.5 L180.1,305.5 L199.2,290.5 L213.5,275.5 L227.9,260.5 L242.2,245.5 L251.7,230.5 L261.3,215.5 L270.8,200.5 L280.4,185.5 L304.2,170.5 L309.0,155.5 L328.1,140.5 L337.7,125.5 L347.2,110.5 L352.0,95.5 L361.6,80.5 M127.6,365.5 L141.9,350.5 L151.4,335.5 L161.0,320.5 L175.3,305.5 L194.4,290.5 L208.8,275.5 L227.9,260.5 L237.4,245.5 L247.0,230.5 L251.7,215.5 L270.8,200.5 L280.4,185.5 L289.9,170.5 L304.2,155.5 L313.8,140.5 L323.4,125.5 L342.5,110.5 L356.8,95.5 L366.3,80.5 M132.4,365.5 L146.7,350.5 L161.0,335.5 L170.6,320.5 L189.7,305.5 L208.8,290.5 L218.3,275.5 L237.4,260.5 L242.2,245.5 L247.0,230.5 L256.5,215.5 L266.1,200.5 L285.1,185.5 L289.9,170.5 L304.2,155.5 L313.8,140.5 L328.1,125.5 L342.5,110.5 L356.8,95.5 L361.6,80.5 M132.4,365.5 L141.9,350.5 L151.4,335.5 L165.8,320.5 L184.9,305.5 L199.2,290.5 L213.5,275.5 L232.6,260.5 L237.4,245.5 L247.0,230.5 L256.5,215.5 L270.8,200.5 L285.1,185.5 L294.7,170.5 L313.8,155.5 L318.6,140.5 L337.7,125.5 L347.2,110.5 L356.8,95.5 L361.6,80.5 M127.6,365.5 L141.9,350.5 L146.7,335.5 L161.0,320.5 L180.1,305.5 L194.4,290.5 L213.5,275.5 L232.6,260.5 L247.0,245.5 L256.5,230.5 L266.1,215.5 L275.6,200.5 L289.9,185.5 L299.5,170.5 L309.0,155.5 L323.4,140.5 L332.9,125.5 L342.5,110.5 L356.8,95.5 L361.6,80.5 M127.6,365.5 L141.9,350.5 L156.2,335.5 L165.8,320.5 L180.1,305.5 L199.2,290.5 L218.3,275.5 L237.4,260.5 L242.2,245.5 L251.7,230.5 L261.3,215.5 L270.8,200.5 L285.1,185.5 L294.7,170.5 L304.2,155.5 L313.8,140.5 L332.9,125.5 L347.2,110.5 L366.3,95.5 L371.1,80.5 M127.6,365.5 L137.1,350.5 L151.4,335.5 L161.0,320.5 L180.1,305.5 L194.4,290.5 L208.8,275.5 L223.1,260.5 L237.4,245.5 L251.7,230.5 L256.5,215.5 L275.6,200.5 L285.1,185.5 L294.7,170.5 L309.0,155.5 L323.4,140.5 L337.7,125.5 L347.2,110.5 L366.3,95.5 L375.9,80.5 M127.6,365.5 L141.9,350.5 L156.2,335.5 L165.8,320.5 L180.1,305.5 L199.2,290.5 L208.8,275.5 L227.9,260.5 L237.4,245.5 L251.7,230.5 L256.5,215.5 L270.8,200.5 L285.1,185.5 L299.5,170.5 L313.8,155.5 L318.6,140.5 L342.5,125.5 L352.0,110.5 L366.3,95.5 L375.9,80.5 M132.4,365.5 L146.7,350.5 L156.2,335.5 L170.6,320.5 L184.9,305.5 L204.0,290.5 L213.5,275.5 L232.6,260.5 L237.4,245.5 L251.7,230.5 L256.5,215.5 L275.6,200.5 L289.9,185.5 L299.5,170.5 L309.0,155.5 L323.4,140.5 L332.9,125.5 L342.5,110.5 L356.8,95.5 L361.6,80.5 M127.6,365.5 L141.9,350.5 L151.4,335.5 L165.8,320.5 L180.1,305.5 L199.2,290.5 L213.5,275.5 L227.9,260.5 L237.4,245.5 L247.0,230.5 L251.7,215.5 L266.1,200.5 L280.4,185.5 L289.9,170.5 L304.2,155.5 L318.6,140.5 L332.9,125.5 L347.2,110.5 L361.6,95.5 L371.1,80.5 M127.6,365.5 L141.9,350.5 L156.2,335.5 L165.8,320.5 L184.9,305.5 L204.0,290.5 L218.3,275.5 L237.4,260.5 L247.0,245.5 L251.7,230.5 L261.3,215.5 L270.8,200.5 L280.4,185.5 L294.7,170.5 L304.2,155.5 L318.6,140.5 L332.9,125.5 L347.2,110.5 L361.6,95.5 L366.3,80.5 M127.6,365.5 L141.9,350.5 L156.2,335.5 L165.8,320.5 L180.1,305.5 L199.2,290.5 L213.5,275.5 L227.9,260.5 L242.2,245.5 L251.7,230.5 L261.3,215.5 L266.1,200.5 L289.9,185.5 L299.5,170.5 L313.8,155.5 L323.4,140.5 L332.9,125.5 L347.2,110.5 L366.3,95.5 L375.9,80.5 M132.4,365.5 L141.9,350.5 L151.4,335.5 L165.8,320.5 L180.1,305.5 L199.2,290.5 L213.5,275.5 L227.9,260.5 L247.0,245.5 L256.5,230.5 L256.5,215.5 L266.1,200.5 L280.4,185.5 L299.5,170.5 L309.0,155.5 L328.1,140.5 L342.5,125.5 L356.8,110.5 L361.6,95.5 L366.3,80.5 M132.4,365.5 L146.7,350.5 L151.4,335.5 L165.8,320.5 L184.9,305.5 L204.0,290.5 L218.3,275.5 L237.4,260.5 L247.0,245.5 L256.5,230.5 L266.1,215.5 L275.6,200.5 L289.9,185.5 L294.7,170.5 L309.0,155.5 L328.1,140.5 L342.5,125.5 L352.0,110.5 L356.8,95.5 L366.3,80.5 M127.6,365.5 L141.9,350.5 L156.2,335.5 L165.8,320.5 L184.9,305.5 L204.0,290.5 L218.3,275.5 L242.2,260.5 L251.7,245.5 L256.5,230.5 L261.3,215.5 L270.8,200.5 L285.1,185.5 L299.5,170.5 L309.0,155.5 L318.6,140.5 L332.9,125.5 L347.2,110.5 L361.6,95.5 L366.3,80.5 M127.6,365.5 L141.9,350.5 L156.2,335.5 L170.6,320.5 L184.9,305.5 L204.0,290.5 L223.1,275.5 L232.6,260.5 L247.0,245.5 L251.7,230.5 L261.3,215.5 L270.8,200.5 L285.1,185.5 L299.5,170.5 L318.6,155.5 L328.1,140.5 L342.5,125.5 L356.8,110.5 L371.1,95.5 L380.7,80.5 M127.6,365.5 L141.9,350.5 L156.2,335.5 L165.8,320.5 L184.9,305.5 L199.2,290.5 L218.3,275.5 L232.6,260.5 L242.2,245.5 L247.0,230.5 L256.5,215.5 L275.6,200.5 L294.7,185.5 L304.2,170.5 L313.8,155.5 L328.1,140.5 L337.7,125.5 L342.5,110.5 L356.8,95.5 L361.6,80.5 M127.6,365.5 L141.9,350.5 L156.2,335.5 L165.8,320.5 L184.9,305.5 L199.2,290.5 L218.3,275.5 L232.6,260.5 L251.7,245.5 L261.3,230.5 L270.8,215.5 L285.1,200.5 L294.7,185.5 L304.2,170.5 L313.8,155.5 L323.4,140.5 L332.9,125.5 L347.2,110.5 L352.0,95.5 L361.6,80.5 M127.6,365.5 L141.9,350.5 L151.4,335.5 L165.8,320.5 L184.9,305.5 L199.2,290.5 L213.5,275.5 L223.1,260.5 L237.4,245.5 L247.0,230.5 L256.5,215.5 L270.8,200.5 L289.9,185.5 L304.2,170.5 L318.6,155.5 L323.4,140.5 L337.7,125.5 L356.8,110.5 L366.3,95.5 L371.1,80.5 M132.4,365.5 L141.9,350.5 L156.2,335.5 L170.6,320.5 L184.9,305.5 L199.2,290.5 L213.5,275.5 L237.4,260.5 L242.2,245.5 L256.5,230.5 L261.3,215.5 L280.4,200.5 L289.9,185.5 L299.5,170.5 L309.0,155.5 L318.6,140.5 L342.5,125.5 L352.0,110.5 L361.6,95.5 L375.9,80.5 M132.4,365.5 L146.7,350.5 L156.2,335.5 L170.6,320.5 L189.7,305.5 L208.8,290.5 L223.1,275.5 L237.4,260.5 L247.0,245.5 L256.5,230.5 L266.1,215.5 L280.4,200.5 L294.7,185.5 L304.2,170.5 L313.8,155.5 L332.9,140.5 L347.2,125.5 L356.8,110.5 L366.3,95.5 L371.1,80.5 M127.6,365.5 L141.9,350.5 L156.2,335.5 L165.8,320.5 L184.9,305.5 L199.2,290.5 L218.3,275.5 L237.4,260.5 L247.0,245.5 L247.0,230.5 L261.3,215.5 L275.6,200.5 L289.9,185.5 L304.2,170.5 L318.6,155.5 L328.1,140.5 L337.7,125.5 L342.5,110.5 L356.8,95.5 L371.1,80.5 M127.6,365.5 L146.7,350.5 L151.4,335.5 L165.8,320.5 L184.9,305.5 L208.8,290.5 L223.1,275.5 L237.4,260.5 L251.7,245.5 L251.7,230.5 L256.5,215.5 L275.6,200.5 L299.5,185.5 L309.0,170.5 L318.6,155.5 L328.1,140.5 L342.5,125.5 L352.0,110.5 L361.6,95.5 L371.1,80.5 M132.4,365.5 L146.7,350.5 L161.0,335.5 L175.3,320.5 L189.7,305.5 L208.8,290.5 L213.5,275.5 L232.6,260.5 L247.0,245.5 L251.7,230.5 L266.1,215.5 L275.6,200.5 L285.1,185.5 L299.5,170.5 L313.8,155.5 L328.1,140.5 L342.5,125.5 L356.8,110.5 L361.6,95.5 L371.1,80.5 M132.4,365.5 L141.9,350.5 L156.2,335.5 L165.8,320.5 L189.7,305.5 L204.0,290.5 L218.3,275.5 L232.6,260.5 L242.2,245.5 L251.7,230.5 L261.3,215.5 L270.8,200.5 L285.1,185.5 L299.5,170.5 L313.8,155.5 L328.1,140.5 L337.7,125.5 L347.2,110.5 L361.6,95.5 L366.3,80.5 M127.6,365.5 L141.9,350.5 L156.2,335.5 L170.6,320.5 L184.9,305.5 L204.0,290.5 L218.3,275.5 L232.6,260.5 L247.0,245.5 L256.5,230.5 L266.1,215.5 L275.6,200.5 L294.7,185.5 L299.5,170.5 L313.8,155.5 L332.9,140.5 L352.0,125.5 L361.6,110.5 L371.1,95.5 L375.9,80.5 M127.6,365.5 L141.9,350.5 L156.2,335.5 L165.8,320.5 L189.7,305.5 L204.0,290.5 L223.1,275.5 L242.2,260.5 L251.7,245.5 L256.5,230.5 L266.1,215.5 L270.8,200.5 L289.9,185.5 L299.5,170.5 L313.8,155.5 L323.4,140.5 L342.5,125.5 L347.2,110.5 L356.8,95.5 L366.3,80.5 M132.4,365.5 L141.9,350.5 L156.2,335.5 L170.6,320.5 L184.9,305.5 L199.2,290.5 L213.5,275.5 L232.6,260.5 L242.2,245.5 L251.7,230.5 L261.3,215.5 L280.4,200.5 L299.5,185.5 L304.2,170.5 L313.8,155.5 L323.4,140.5 L332.9,125.5 L347.2,110.5 L366.3,95.5 L375.9,80.5 M132.4,365.5 L146.7,350.5 L156.2,335.5 L170.6,320.5 L189.7,305.5 L208.8,290.5 L227.9,275.5 L242.2,260.5 L251.7,245.5 L256.5,230.5 L261.3,215.5 L285.1,200.5 L294.7,185.5 L309.0,170.5 L323.4,155.5 L332.9,140.5 L347.2,125.5 L356.8,110.5 L371.1,95.5 L375.9,80.5 M132.4,365.5 L151.4,350.5 L161.0,335.5 L180.1,320.5 L194.4,305.5 L208.8,290.5 L223.1,275.5 L237.4,260.5 L247.0,245.5 L256.5,230.5 L266.1,215.5 L275.6,200.5 L285.1,185.5 L299.5,170.5 L309.0,155.5 L328.1,140.5 L337.7,125.5 L356.8,110.5 L366.3,95.5 L375.9,80.5 M132.4,365.5 L146.7,350.5 L161.0,335.5 L170.6,320.5 L189.7,305.5 L204.0,290.5 L223.1,275.5 L237.4,260.5 L247.0,245.5 L251.7,230.5 L261.3,215.5 L280.4,200.5 L299.5,185.5 L309.0,170.5 L313.8,155.5 L332.9,140.5 L347.2,125.5 L366.3,110.5 L375.9,95.5 L385.4,80.5 M127.6,365.5 L146.7,350.5 L161.0,335.5 L170.6,320.5 L189.7,305.5 L213.5,290.5 L227.9,275.5 L237.4,260.5 L251.7,245.5 L256.5,230.5 L261.3,215.5 L275.6,200.5 L289.9,185.5 L299.5,170.5 L318.6,155.5 L332.9,140.5 L347.2,125.5 L361.6,110.5 L371.1,95.5 L380.7,80.5 M127.6,365.5 L141.9,350.5 L156.2,335.5 L170.6,320.5 L189.7,305.5 L208.8,290.5 L227.9,275.5 L242.2,260.5 L256.5,245.5 L261.3,230.5 L266.1,215.5 L285.1,200.5 L304.2,185.5 L304.2,170.5 L323.4,155.5 L332.9,140.5 L352.0,125.5 L361.6,110.5 L371.1,95.5 L380.7,80.5 M132.4,365.5 L146.7,350.5 L161.0,335.5 L170.6,320.5 L189.7,305.5 L208.8,290.5 L227.9,275.5 L242.2,260.5 L256.5,245.5 L266.1,230.5 L270.8,215.5 L285.1,200.5 L299.5,185.5 L304.2,170.5 L313.8,155.5 L328.1,140.5 L342.5,125.5 L356.8,110.5 L375.9,95.5 L385.4,80.5 M132.4,365.5 L151.4,350.5 L161.0,335.5 L175.3,320.5 L194.4,305.5 L213.5,290.5 L227.9,275.5 L247.0,260.5 L251.7,245.5 L261.3,230.5 L266.1,215.5 L280.4,200.5 L299.5,185.5 L304.2,170.5 L318.6,155.5 L328.1,140.5 L352.0,125.5 L366.3,110.5 L375.9,95.5 L380.7,80.5 M127.6,365.5 L141.9,350.5 L156.2,335.5 L165.8,320.5 L184.9,305.5 L208.8,290.5 L223.1,275.5 L237.4,260.5 L247.0,245.5 L256.5,230.5 L261.3,215.5 L275.6,200.5 L289.9,185.5 L304.2,170.5 L313.8,155.5 L328.1,140.5 L337.7,125.5 L356.8,110.5 L371.1,95.5 L375.9,80.5 M132.4,365.5 L141.9,350.5 L156.2,335.5 L170.6,320.5 L189.7,305.5 L208.8,290.5 L223.1,275.5 L237.4,260.5 L256.5,245.5 L261.3,230.5 L266.1,215.5 L285.1,200.5 L299.5,185.5 L309.0,170.5 L318.6,155.5 L328.1,140.5 L337.7,125.5 L361.6,110.5 L375.9,95.5 L380.7,80.5 M132.4,365.5 L151.4,350.5 L161.0,335.5 L175.3,320.5 L189.7,305.5 L208.8,290.5 L227.9,275.5 L237.4,260.5 L251.7,245.5 L256.5,230.5 L266.1,215.5 L280.4,200.5 L299.5,185.5 L313.8,170.5 L323.4,155.5 L342.5,140.5 L356.8,125.5 L371.1,110.5 L380.7,95.5 L385.4,80.5 M132.4,365.5 L146.7,350.5 L161.0,335.5 L175.3,320.5 L189.7,305.5 L204.0,290.5 L223.1,275.5 L237.4,260.5 L251.7,245.5 L256.5,230.5 L270.8,215.5 L285.1,200.5 L299.5,185.5 L309.0,170.5 L323.4,155.5 L337.7,140.5 L356.8,125.5 L366.3,110.5 L375.9,95.5 L385.4,80.5 M137.1,365.5 L146.7,350.5 L161.0,335.5 L170.6,320.5 L189.7,305.5 L208.8,290.5 L227.9,275.5 L242.2,260.5 L256.5,245.5 L266.1,230.5 L275.6,215.5 L294.7,200.5 L304.2,185.5 L313.8,170.5 L328.1,155.5 L337.7,140.5 L356.8,125.5 L371.1,110.5 L380.7,95.5 L385.4,80.5 M132.4,365.5 L146.7,350.5 L156.2,335.5 L170.6,320.5 L189.7,305.5 L208.8,290.5 L223.1,275.5 L237.4,260.5 L247.0,245.5 L256.5,230.5 L266.1,215.5 L285.1,200.5 L304.2,185.5 L309.0,170.5 L323.4,155.5 L342.5,140.5 L361.6,125.5 L371.1,110.5 L380.7,95.5 L395.0,80.5 M132.4,365.5 L141.9,350.5 L156.2,335.5 L170.6,320.5 L189.7,305.5 L204.0,290.5 L227.9,275.5 L242.2,260.5 L256.5,245.5 L261.3,230.5 L266.1,215.5 L280.4,200.5 L299.5,185.5 L309.0,170.5 L318.6,155.5 L332.9,140.5 L347.2,125.5 L361.6,110.5 L371.1,95.5 L380.7,80.5 M132.4,365.5 L146.7,350.5 L161.0,335.5 L175.3,320.5 L194.4,305.5 L204.0,290.5 L218.3,275.5 L237.4,260.5 L251.7,245.5 L261.3,230.5 L270.8,215.5 L280.4,200.5 L294.7,185.5 L309.0,170.5 L328.1,155.5 L342.5,140.5 L352.0,125.5 L366.3,110.5 L380.7,95.5 L390.2,80.5 M127.6,365.5 L146.7,350.5 L156.2,335.5 L170.6,320.5 L184.9,305.5 L204.0,290.5 L227.9,275.5 L247.0,260.5 L256.5,245.5 L261.3,230.5 L270.8,215.5 L285.1,200.5 L299.5,185.5 L309.0,170.5 L318.6,155.5 L332.9,140.5 L347.2,125.5 L361.6,110.5 L371.1,95.5 L375.9,80.5 M137.1,365.5 L151.4,350.5 L165.8,335.5 L180.1,320.5 L194.4,305.5 L208.8,290.5 L223.1,275.5 L242.2,260.5 L251.7,245.5 L261.3,230.5 L266.1,215.5 L280.4,200.5 L304.2,185.5 L318.6,170.5 L332.9,155.5 L342.5,140.5 L356.8,125.5 L371.1,110.5 L385.4,95.5 L395.0,80.5 M132.4,365.5 L141.9,350.5 L151.4,335.5 L165.8,320.5 L180.1,305.5 L204.0,290.5 L227.9,275.5 L242.2,260.5 L251.7,245.5 L261.3,230.5 L270.8,215.5 L285.1,200.5 L299.5,185.5 L318.6,170.5 L328.1,155.5 L342.5,140.5 L361.6,125.5 L375.9,110.5 L385.4,95.5 L395.0,80.5 M132.4,365.5 L146.7,350.5 L161.0,335.5 L175.3,320.5 L194.4,305.5 L208.8,290.5 L223.1,275.5 L237.4,260.5 L251.7,245.5 L256.5,230.5 L266.1,215.5 L285.1,200.5 L304.2,185.5 L313.8,170.5 L328.1,155.5 L337.7,140.5 L352.0,125.5 L366.3,110.5 L375.9,95.5 L390.2,80.5 M132.4,365.5 L151.4,350.5 L165.8,335.5 L175.3,320.5 L189.7,305.5 L208.8,290.5 L227.9,275.5 L237.4,260.5 L247.0,245.5 L261.3,230.5 L270.8,215.5 L294.7,200.5 L309.0,185.5 L318.6,170.5 L332.9,155.5 L347.2,140.5 L361.6,125.5 L375.9,110.5 L385.4,95.5 L390.2,80.5 M137.1,365.5 L151.4,350.5 L156.2,335.5 L170.6,320.5 L189.7,305.5 L208.8,290.5 L227.9,275.5 L242.2,260.5 L251.7,245.5 L261.3,230.5 L270.8,215.5 L285.1,200.5 L304.2,185.5 L318.6,170.5 L328.1,155.5 L337.7,140.5 L356.8,125.5 L375.9,110.5 L390.2,95.5 L395.0,80.5 M137.1,365.5 L146.7,350.5 L156.2,335.5 L170.6,320.5 L184.9,305.5 L208.8,290.5 L227.9,275.5 L242.2,260.5 L251.7,245.5 L266.1,230.5 L275.6,215.5 L289.9,200.5 L309.0,185.5 L318.6,170.5 L332.9,155.5 L342.5,140.5 L356.8,125.5 L371.1,110.5 L380.7,95.5 L395.0,80.5 M132.4,365.5 L151.4,350.5 L165.8,335.5 L180.1,320.5 L194.4,305.5 L213.5,290.5 L223.1,275.5 L237.4,260.5 L251.7,245.5 L261.3,230.5 L275.6,215.5 L289.9,200.5 L304.2,185.5 L313.8,170.5 L328.1,155.5 L352.0,140.5 L356.8,125.5 L371.1,110.5 L390.2,95.5 L395.0,80.5 M132.4,365.5 L146.7,350.5 L161.0,335.5 L175.3,320.5 L194.4,305.5 L213.5,290.5 L232.6,275.5 L247.0,260.5 L256.5,245.5 L270.8,230.5 L280.4,215.5 L294.7,200.5 L309.0,185.5 L323.4,170.5 L328.1,155.5 L337.7,140.5 L361.6,125.5 L375.9,110.5 L385.4,95.5 L390.2,80.5 M132.4,365.5 L146.7,350.5 L161.0,335.5 L175.3,320.5 L189.7,305.5 L218.3,290.5 L227.9,275.5 L247.0,260.5 L261.3,245.5 L261.3,230.5 L266.1,215.5 L289.9,200.5 L304.2,185.5 L318.6,170.5 L328.1,155.5 L347.2,140.5 L356.8,125.5 L371.1,110.5 L395.0,95.5 L399.8,80.5 M132.4,365.5 L151.4,350.5 L165.8,335.5 L180.1,320.5 L194.4,305.5 L213.5,290.5 L232.6,275.5 L247.0,260.5 L256.5,245.5 L270.8,230.5 L275.6,215.5 L294.7,200.5 L309.0,185.5 L328.1,170.5 L332.9,155.5 L352.0,140.5 L371.1,125.5 L380.7,110.5 L390.2,95.5 L404.5,80.5 M137.1,365.5 L151.4,350.5 L170.6,335.5 L175.3,320.5 L194.4,305.5 L213.5,290.5 L227.9,275.5 L242.2,260.5 L256.5,245.5 L266.1,230.5 L275.6,215.5 L289.9,200.5 L309.0,185.5 L323.4,170.5 L342.5,155.5 L356.8,140.5 L371.1,125.5 L375.9,110.5 L399.8,95.5 L399.8,80.5 M132.4,365.5 L151.4,350.5 L165.8,335.5 L180.1,320.5 L194.4,305.5 L208.8,290.5 L227.9,275.5 L242.2,260.5 L251.7,245.5 L266.1,230.5 L275.6,215.5 L294.7,200.5 L309.0,185.5 L318.6,170.5 L332.9,155.5 L342.5,140.5 L366.3,125.5 L375.9,110.5 L390.2,95.5 L399.8,80.5 M127.6,365.5 L141.9,350.5 L156.2,335.5 L170.6,320.5 L194.4,305.5 L218.3,290.5 L237.4,275.5 L251.7,260.5 L266.1,245.5 L270.8,230.5 L280.4,215.5 L294.7,200.5 L309.0,185.5 L318.6,170.5 L332.9,155.5 L347.2,140.5 L366.3,125.5 L375.9,110.5 L390.2,95.5 L404.5,80.5 M132.4,365.5 L151.4,350.5 L165.8,335.5 L175.3,320.5 L194.4,305.5 L208.8,290.5 L223.1,275.5 L242.2,260.5 L251.7,245.5 L266.1,230.5 L275.6,215.5 L285.1,200.5 L304.2,185.5 L323.4,170.5 L332.9,155.5 L352.0,140.5 L361.6,125.5 L371.1,110.5 L380.7,95.5 L404.5,80.5 M132.4,365.5 L146.7,350.5 L161.0,335.5 L170.6,320.5 L194.4,305.5 L218.3,290.5 L232.6,275.5 L247.0,260.5 L256.5,245.5 L266.1,230.5 L270.8,215.5 L294.7,200.5 L313.8,185.5 L328.1,170.5 L337.7,155.5 L347.2,140.5 L356.8,125.5 L380.7,110.5 L395.0,95.5 L399.8,80.5 M137.1,365.5 L151.4,350.5 L161.0,335.5 L175.3,320.5 L194.4,305.5 L213.5,290.5 L237.4,275.5 L251.7,260.5 L261.3,245.5 L270.8,230.5 L275.6,215.5 L289.9,200.5 L304.2,185.5 L318.6,170.5 L328.1,155.5 L337.7,140.5 L356.8,125.5 L366.3,110.5 L390.2,95.5 L399.8,80.5 M132.4,365.5 L151.4,350.5 L165.8,335.5 L170.6,320.5 L194.4,305.5 L208.8,290.5 L223.1,275.5 L242.2,260.5 L256.5,245.5 L266.1,230.5 L270.8,215.5 L289.9,200.5 L304.2,185.5 L323.4,170.5 L337.7,155.5 L347.2,140.5 L361.6,125.5 L371.1,110.5 L385.4,95.5 L399.8,80.5 M132.4,365.5 L146.7,350.5 L161.0,335.5 L175.3,320.5 L194.4,305.5 L213.5,290.5 L237.4,275.5 L256.5,260.5 L261.3,245.5 L270.8,230.5 L275.6,215.5 L294.7,200.5 L309.0,185.5 L323.4,170.5 L347.2,155.5 L361.6,140.5 L371.1,125.5 L385.4,110.5 L399.8,95.5 L404.5,80.5 M132.4,365.5 L151.4,350.5 L165.8,335.5 L180.1,320.5 L199.2,305.5 L218.3,290.5 L232.6,275.5 L247.0,260.5 L256.5,245.5 L261.3,230.5 L275.6,215.5 L299.5,200.5 L309.0,185.5 L323.4,170.5 L337.7,155.5 L352.0,140.5 L371.1,125.5 L385.4,110.5 L395.0,95.5 L404.5,80.5 M137.1,365.5 L151.4,350.5 L161.0,335.5 L175.3,320.5 L194.4,305.5 L213.5,290.5 L232.6,275.5 L242.2,260.5 L256.5,245.5 L266.1,230.5 L275.6,215.5 L299.5,200.5 L313.8,185.5 L328.1,170.5 L332.9,155.5 L356.8,140.5 L375.9,125.5 L390.2,110.5 L399.8,95.5 L409.3,80.5 M132.4,365.5 L151.4,350.5 L161.0,335.5 L170.6,320.5 L189.7,305.5 L213.5,290.5 L232.6,275.5 L251.7,260.5 L261.3,245.5 L270.8,230.5 L275.6,215.5 L299.5,200.5 L323.4,185.5 L332.9,170.5 L337.7,155.5 L356.8,140.5 L375.9,125.5 L395.0,110.5 L409.3,95.5 L409.3,80.5 M137.1,365.5 L151.4,350.5 L165.8,335.5 L180.1,320.5 L194.4,305.5 L213.5,290.5 L232.6,275.5 L247.0,260.5 L256.5,245.5 L261.3,230.5 L270.8,215.5 L294.7,200.5 L309.0,185.5 L313.8,170.5 L328.1,155.5 L342.5,140.5 L361.6,125.5 L385.4,110.5 L399.8,95.5 L409.3,80.5 M137.1,365.5 L161.0,350.5 L165.8,335.5 L180.1,320.5 L199.2,305.5 L218.3,290.5 L237.4,275.5 L251.7,260.5 L266.1,245.5 L270.8,230.5 L270.8,215.5 L299.5,200.5 L318.6,185.5 L328.1,170.5 L337.7,155.5 L347.2,140.5 L375.9,125.5 L385.4,110.5 L395.0,95.5 L404.5,80.5 M137.1,365.5 L151.4,350.5 L165.8,335.5 L180.1,320.5 L199.2,305.5 L218.3,290.5 L237.4,275.5 L251.7,260.5 L256.5,245.5 L270.8,230.5 L275.6,215.5 L294.7,200.5 L309.0,185.5 L323.4,170.5 L342.5,155.5 L352.0,140.5 L366.3,125.5 L385.4,110.5 L399.8,95.5 L404.5,80.5 M132.4,365.5 L151.4,350.5 L161.0,335.5 L170.6,320.5 L189.7,305.5 L213.5,290.5 L232.6,275.5 L251.7,260.5 L256.5,245.5 L270.8,230.5 L285.1,215.5 L299.5,200.5 L313.8,185.5 L328.1,170.5 L337.7,155.5 L356.8,140.5 L375.9,125.5 L395.0,110.5 L404.5,95.5 L409.3,80.5 M137.1,365.5 L151.4,350.5 L165.8,335.5 L180.1,320.5 L199.2,305.5 L213.5,290.5 L232.6,275.5 L247.0,260.5 L261.3,245.5 L266.1,230.5 L275.6,215.5 L294.7,200.5 L309.0,185.5 L323.4,170.5 L337.7,155.5 L356.8,140.5 L366.3,125.5 L385.4,110.5 L395.0,95.5 L395.0,80.5 M137.1,365.5 L151.4,350.5 L165.8,335.5 L175.3,320.5 L194.4,305.5 L213.5,290.5 L232.6,275.5 L247.0,260.5 L256.5,245.5 L266.1,230.5 L275.6,215.5 L294.7,200.5 L309.0,185.5 L313.8,170.5 L332.9,155.5 L352.0,140.5 L375.9,125.5 L385.4,110.5 L395.0,95.5 L399.8,80.5 M137.1,365.5 L151.4,350.5 L165.8,335.5 L180.1,320.5 L199.2,305.5 L213.5,290.5 L227.9,275.5 L247.0,260.5 L256.5,245.5 L270.8,230.5 L275.6,215.5 L299.5,200.5 L328.1,185.5 L337.7,170.5 L352.0,155.5 L361.6,140.5 L375.9,125.5 L390.2,110.5 L404.5,95.5 L404.5,80.5 M132.4,365.5 L151.4,350.5 L165.8,335.5 L180.1,320.5 L199.2,305.5 L218.3,290.5 L232.6,275.5 L251.7,260.5 L261.3,245.5 L270.8,230.5 L275.6,215.5 L304.2,200.5 L318.6,185.5 L337.7,170.5 L347.2,155.5 L361.6,140.5 L380.7,125.5 L390.2,110.5 L404.5,95.5 L404.5,80.5 M137.1,365.5 L151.4,350.5 L165.8,335.5 L175.3,320.5 L194.4,305.5 L213.5,290.5 L227.9,275.5 L242.2,260.5 L266.1,245.5 L270.8,230.5 L280.4,215.5 L299.5,200.5 L323.4,185.5 L328.1,170.5 L342.5,155.5 L356.8,140.5 L375.9,125.5 L390.2,110.5 L395.0,95.5 L404.5,80.5 M137.1,365.5 L156.2,350.5 L165.8,335.5 L180.1,320.5 L199.2,305.5 L218.3,290.5 L237.4,275.5 L256.5,260.5 L266.1,245.5 L275.6,230.5 L280.4,215.5 L304.2,200.5 L318.6,185.5 L332.9,170.5 L342.5,155.5 L356.8,140.5 L380.7,125.5 L395.0,110.5 L409.3,95.5 L414.1,80.5 M137.1,365.5 L156.2,350.5 L170.6,335.5 L184.9,320.5 L204.0,305.5 L218.3,290.5 L237.4,275.5 L251.7,260.5 L266.1,245.5 L275.6,230.5 L285.1,215.5 L304.2,200.5 L318.6,185.5 L328.1,170.5 L337.7,155.5 L356.8,140.5 L371.1,125.5 L385.4,110.5 L395.0,95.5 L409.3,80.5 M137.1,365.5 L156.2,350.5 L161.0,335.5 L170.6,320.5 L194.4,305.5 L213.5,290.5 L232.6,275.5 L251.7,260.5 L261.3,245.5 L275.6,230.5 L280.4,215.5 L309.0,200.5 L323.4,185.5 L337.7,170.5 L352.0,155.5 L361.6,140.5 L380.7,125.5 L395.0,110.5 L404.5,95.5 L409.3,80.5 M137.1,365.5 L156.2,350.5 L165.8,335.5 L180.1,320.5 L204.0,305.5 L218.3,290.5 L237.4,275.5 L251.7,260.5 L261.3,245.5 L270.8,230.5 L270.8,215.5 L299.5,200.5 L323.4,185.5 L337.7,170.5 L352.0,155.5 L371.1,140.5 L385.4,125.5 L404.5,110.5 L418.9,95.5 L423.6,80.5 M132.4,365.5 L151.4,350.5 L161.0,335.5 L175.3,320.5 L194.4,305.5 L218.3,290.5 L237.4,275.5 L251.7,260.5 L266.1,245.5 L270.8,230.5 L280.4,215.5 L304.2,200.5 L323.4,185.5 L337.7,170.5 L352.0,155.5 L361.6,140.5 L385.4,125.5 L404.5,110.5 L409.3,95.5 L418.9,80.5 M132.4,365.5 L151.4,350.5 L165.8,335.5 L180.1,320.5 L194.4,305.5 L213.5,290.5 L232.6,275.5 L251.7,260.5 L261.3,245.5 L266.1,230.5 L275.6,215.5 L304.2,200.5 L318.6,185.5 L332.9,170.5 L352.0,155.5 L366.3,140.5 L380.7,125.5 L399.8,110.5 L414.1,95.5 L418.9,80.5 M137.1,365.5 L151.4,350.5 L161.0,335.5 L170.6,320.5 L194.4,305.5 L218.3,290.5 L237.4,275.5 L256.5,260.5 L266.1,245.5 L275.6,230.5 L285.1,215.5 L309.0,200.5 L323.4,185.5 L332.9,170.5 L347.2,155.5 L366.3,140.5 L380.7,125.5 L395.0,110.5 L409.3,95.5 L418.9,80.5 M137.1,365.5 L156.2,350.5 L170.6,335.5 L184.9,320.5 L204.0,305.5 L227.9,290.5 L247.0,275.5 L256.5,260.5 L275.6,245.5 L285.1,230.5 L289.9,215.5 L313.8,200.5 L328.1,185.5 L337.7,170.5 L352.0,155.5 L366.3,140.5 L385.4,125.5 L390.2,110.5 L414.1,95.5 L414.1,80.5 M132.4,365.5 L151.4,350.5 L165.8,335.5 L180.1,320.5 L199.2,305.5 L218.3,290.5 L237.4,275.5 L256.5,260.5 L266.1,245.5 L275.6,230.5 L280.4,215.5 L309.0,200.5 L328.1,185.5 L332.9,170.5 L352.0,155.5 L371.1,140.5 L385.4,125.5 L409.3,110.5 L409.3,95.5 L423.6,80.5 M137.1,365.5 L156.2,350.5 L165.8,335.5 L180.1,320.5 L199.2,305.5 L218.3,290.5 L237.4,275.5 L256.5,260.5 L261.3,245.5 L275.6,230.5 L275.6,215.5 L299.5,200.5 L323.4,185.5 L332.9,170.5 L347.2,155.5 L361.6,140.5 L380.7,125.5 L395.0,110.5 L409.3,95.5 L414.1,80.5 M137.1,365.5 L156.2,350.5 L170.6,335.5 L184.9,320.5 L204.0,305.5 L227.9,290.5 L237.4,275.5 L256.5,260.5 L266.1,245.5 L270.8,230.5 L285.1,215.5 L309.0,200.5 L323.4,185.5 L332.9,170.5 L347.2,155.5 L366.3,140.5 L390.2,125.5 L404.5,110.5 L414.1,95.5 L418.9,80.5 M137.1,365.5 L151.4,350.5 L161.0,335.5 L175.3,320.5 L199.2,305.5 L223.1,290.5 L242.2,275.5 L256.5,260.5 L266.1,245.5 L280.4,230.5 L285.1,215.5 L313.8,200.5 L332.9,185.5 L347.2,170.5 L347.2,155.5 L366.3,140.5 L385.4,125.5 L409.3,110.5 L418.9,95.5 L418.9,80.5 M141.9,365.5 L156.2,350.5 L165.8,335.5 L180.1,320.5 L199.2,305.5 L218.3,290.5 L237.4,275.5 L251.7,260.5 L266.1,245.5 L270.8,230.5 L275.6,215.5 L309.0,200.5 L328.1,185.5 L337.7,170.5 L347.2,155.5 L366.3,140.5 L395.0,125.5 L409.3,110.5 L418.9,95.5 L423.6,80.5 M137.1,365.5 L156.2,350.5 L170.6,335.5 L184.9,320.5 L204.0,305.5 L227.9,290.5 L242.2,275.5 L256.5,260.5 L275.6,245.5 L275.6,230.5 L280.4,215.5 L299.5,200.5 L323.4,185.5 L332.9,170.5 L352.0,155.5 L361.6,140.5 L380.7,125.5 L399.8,110.5 L409.3,95.5 L423.6,80.5 M137.1,365.5 L156.2,350.5 L165.8,335.5 L180.1,320.5 L199.2,305.5 L218.3,290.5 L237.4,275.5 L251.7,260.5 L266.1,245.5 L275.6,230.5 L280.4,215.5 L304.2,200.5 L323.4,185.5 L342.5,170.5 L352.0,155.5 L366.3,140.5 L390.2,125.5 L409.3,110.5 L423.6,95.5 L423.6,80.5 M137.1,365.5 L156.2,350.5 L170.6,335.5 L180.1,320.5 L199.2,305.5 L218.3,290.5 L237.4,275.5 L256.5,260.5 L270.8,245.5 L280.4,230.5 L285.1,215.5 L313.8,200.5 L328.1,185.5 L342.5,170.5 L361.6,155.5 L375.9,140.5 L395.0,125.5 L409.3,110.5 L418.9,95.5 L428.4,80.5 M137.1,365.5 L156.2,350.5 L165.8,335.5 L180.1,320.5 L204.0,305.5 L218.3,290.5 L237.4,275.5 L251.7,260.5 L266.1,245.5 L280.4,230.5 L289.9,215.5 L318.6,200.5 L337.7,185.5 L347.2,170.5 L361.6,155.5 L375.9,140.5 L390.2,125.5 L404.5,110.5 L423.6,95.5 L428.4,80.5 M137.1,365.5 L156.2,350.5 L170.6,335.5 L180.1,320.5 L199.2,305.5 L223.1,290.5 L242.2,275.5 L256.5,260.5 L266.1,245.5 L280.4,230.5 L285.1,215.5 L313.8,200.5 L328.1,185.5 L337.7,170.5 L347.2,155.5 L366.3,140.5 L390.2,125.5 L409.3,110.5 L418.9,95.5 L433.2,80.5 M137.1,365.5 L151.4,350.5 L165.8,335.5 L184.9,320.5 L204.0,305.5 L218.3,290.5 L242.2,275.5 L251.7,260.5 L261.3,245.5 L280.4,230.5 L285.1,215.5 L309.0,200.5 L332.9,185.5 L342.5,170.5 L361.6,155.5 L375.9,140.5 L399.8,125.5 L414.1,110.5 L428.4,95.5 L428.4,80.5 M137.1,365.5 L156.2,350.5 L165.8,335.5 L180.1,320.5 L204.0,305.5 L218.3,290.5 L237.4,275.5 L256.5,260.5 L270.8,245.5 L280.4,230.5 L289.9,215.5 L318.6,200.5 L332.9,185.5 L342.5,170.5 L356.8,155.5 L371.1,140.5 L390.2,125.5 L404.5,110.5 L418.9,95.5 L428.4,80.5 M141.9,365.5 L161.0,350.5 L175.3,335.5 L189.7,320.5 L204.0,305.5 L227.9,290.5 L247.0,275.5 L256.5,260.5 L275.6,245.5 L280.4,230.5 L280.4,215.5 L313.8,200.5 L332.9,185.5 L342.5,170.5 L356.8,155.5 L375.9,140.5 L395.0,125.5 L409.3,110.5 L428.4,95.5 L428.4,80.5 M137.1,365.5 L151.4,350.5 L165.8,335.5 L180.1,320.5 L199.2,305.5 L218.3,290.5 L237.4,275.5 L251.7,260.5 L266.1,245.5 L275.6,230.5 L285.1,215.5 L313.8,200.5 L332.9,185.5 L342.5,170.5 L356.8,155.5 L375.9,140.5 L390.2,125.5 L409.3,110.5 L423.6,95.5 L433.2,80.5 M89.4,365.5 L103.7,350.5 L113.2,335.5 L118.0,320.5 L122.8,305.5 L127.6,290.5 L132.4,275.5 L137.1,260.5 L146.7,245.5 L161.0,230.5 L165.8,215.5 L180.1,200.5 L184.9,185.5 L184.9,170.5 L199.2,155.5 L208.8,140.5 L213.5,125.5 L218.3,110.5 L218.3,95.5 L227.9,80.5 M89.4,365.5 L94.2,350.5 L103.7,335.5 L113.2,320.5 L118.0,305.5 L122.8,290.5 L127.6,275.5 L132.4,260.5 L137.1,245.5 L137.1,230.5 L146.7,215.5 L161.0,200.5 L161.0,185.5 L165.8,170.5 L165.8,155.5 L180.1,140.5 L184.9,125.5 L189.7,110.5 L204.0,95.5 L208.8,80.5 M94.2,365.5 L103.7,350.5 L113.2,335.5 L118.0,320.5 L127.6,305.5 L132.4,290.5 L137.1,275.5 L141.9,260.5 L146.7,245.5 L156.2,230.5 L161.0,215.5 L170.6,200.5 L175.3,185.5 L180.1,170.5 L184.9,155.5 L194.4,140.5 L204.0,125.5 L208.8,110.5 L213.5,95.5 L213.5,80.5 M94.2,365.5 L98.9,350.5 L108.5,335.5 L118.0,320.5 L122.8,305.5 L127.6,290.5 L132.4,275.5 L137.1,260.5 L141.9,245.5 L146.7,230.5 L151.4,215.5 L165.8,200.5 L165.8,185.5 L170.6,170.5 L175.3,155.5 L184.9,140.5 L189.7,125.5 L204.0,110.5 L208.8,95.5 L208.8,80.5 M127.6,365.5 L151.4,350.5 L184.9,335.5 L213.5,320.5 L242.2,305.5 L251.7,290.5 L266.1,275.5 L275.6,260.5 L285.1,245.5 L294.7,230.5 L309.0,215.5 L318.6,200.5 L332.9,185.5 L342.5,170.5 L352.0,155.5 L366.3,140.5 L375.9,125.5 L390.2,110.5 L399.8,95.5 L409.3,80.5 M141.9,365.5 L151.4,350.5 L161.0,335.5 L170.6,320.5 L180.1,305.5 L208.8,290.5 L237.4,275.5 L261.3,260.5 L289.9,245.5 L318.6,230.5 L328.1,215.5 L337.7,200.5 L347.2,185.5 L356.8,170.5 L366.3,155.5 L375.9,140.5 L385.4,125.5 L395.0,110.5 L409.3,95.5 L414.1,80.5 M127.6,365.5 L137.1,350.5 L146.7,335.5 L156.2,320.5 L194.4,305.5 L237.4,290.5 L280.4,275.5 L294.7,260.5 L304.2,245.5 L313.8,230.5 L323.4,215.5 L337.7,200.5 L347.2,185.5 L356.8,170.5 L366.3,155.5 L375.9,140.5 L385.4,125.5 L390.2,110.5 L404.5,95.5 L414.1,80.5 M122.8,365.5 L132.4,350.5 L141.9,335.5 L151.4,320.5 L161.0,305.5 L170.6,290.5 L180.1,275.5 L227.9,260.5 L280.4,245.5 L328.1,230.5 L337.7,215.5 L347.2,200.5 L352.0,185.5 L361.6,170.5 L375.9,155.5 L380.7,140.5 L390.2,125.5 L399.8,110.5 L409.3,95.5 L418.9,80.5 M132.4,365.5 L141.9,350.5 L151.4,335.5 L184.9,320.5 L218.3,305.5 L251.7,290.5 L280.4,275.5 L318.6,260.5 L328.1,245.5 L337.7,230.5 L342.5,215.5 L352.0,200.5 L361.6,185.5 L375.9,170.5 L380.7,155.5 L390.2,140.5 L399.8,125.5 L404.5,110.5 L414.1,95.5 L423.6,80.5 M127.6,365.5 L137.1,350.5 L146.7,335.5 L156.2,320.5 L161.0,305.5 L170.6,290.5 L208.8,275.5 L242.2,260.5 L280.4,245.5 L318.6,230.5 L352.0,215.5 L361.6,200.5 L371.1,185.5 L380.7,170.5 L390.2,155.5 L399.8,140.5 L409.3,125.5 L418.9,110.5 L428.4,95.5 L433.2,80.5 M137.1,365.5 L146.7,350.5 L156.2,335.5 L165.8,320.5 L199.2,305.5 L232.6,290.5 L270.8,275.5 L304.2,260.5 L332.9,245.5 L342.5,230.5 L347.2,215.5 L356.8,200.5 L366.3,185.5 L375.9,170.5 L385.4,155.5 L395.0,140.5 L404.5,125.5 L414.1,110.5 L418.9,95.5 L428.4,80.5 M132.4,365.5 L141.9,350.5 L151.4,335.5 L161.0,320.5 L170.6,305.5 L184.9,290.5 L189.7,275.5 L223.1,260.5 L251.7,245.5 L285.1,230.5 L313.8,215.5 L328.1,200.5 L337.7,185.5 L352.0,170.5 L361.6,155.5 L375.9,140.5 L385.4,125.5 L399.8,110.5 L409.3,95.5 L423.6,80.5 M132.4,365.5 L141.9,350.5 L151.4,335.5 L161.0,320.5 L170.6,305.5 L180.1,290.5 L208.8,275.5 L237.4,260.5 L266.1,245.5 L299.5,230.5 L323.4,215.5 L332.9,200.5 L347.2,185.5 L356.8,170.5 L371.1,155.5 L380.7,140.5 L390.2,125.5 L399.8,110.5 L414.1,95.5 L418.9,80.5 M141.9,365.5 L146.7,350.5 L184.9,335.5 L208.8,320.5 L242.2,305.5 L270.8,290.5 L304.2,275.5 L313.8,260.5 L323.4,245.5 L332.9,230.5 L337.7,215.5 L347.2,200.5 L356.8,185.5 L361.6,170.5 L371.1,155.5 L375.9,140.5 L385.4,125.5 L395.0,110.5 L404.5,95.5 L409.3,80.5 M122.8,365.5 L132.4,350.5 L184.9,335.5 L213.5,320.5 L251.7,305.5 L261.3,290.5 L270.8,275.5 L280.4,260.5 L289.9,245.5 L299.5,230.5 L309.0,215.5 L318.6,200.5 L323.4,185.5 L332.9,170.5 L347.2,155.5 L352.0,140.5 L361.6,125.5 L371.1,110.5 L385.4,95.5 L390.2,80.5 M132.4,365.5 L146.7,350.5 L175.3,335.5 L204.0,320.5 L237.4,305.5 L270.8,290.5 L299.5,275.5 L309.0,260.5 L318.6,245.5 L332.9,230.5 L342.5,215.5 L352.0,200.5 L366.3,185.5 L375.9,170.5 L390.2,155.5 L399.8,140.5 L409.3,125.5 L418.9,110.5 L433.2,95.5 L442.7,80.5 M137.1,365.5 L146.7,350.5 L156.2,335.5 L161.0,320.5 L170.6,305.5 L180.1,290.5 L189.7,275.5 L232.6,260.5 L275.6,245.5 L318.6,230.5 L361.6,215.5 L366.3,200.5 L375.9,185.5 L385.4,170.5 L395.0,155.5 L404.5,140.5 L414.1,125.5 L423.6,110.5 L428.4,95.5 L442.7,80.5 M132.4,365.5 L141.9,350.5 L184.9,335.5 L213.5,320.5 L251.7,305.5 L289.9,290.5 L299.5,275.5 L309.0,260.5 L318.6,245.5 L323.4,230.5 L337.7,215.5 L347.2,200.5 L352.0,185.5 L366.3,170.5 L371.1,155.5 L380.7,140.5 L390.2,125.5 L399.8,110.5 L409.3,95.5 L418.9,80.5 M132.4,365.5 L141.9,350.5 L146.7,335.5 L161.0,320.5 L170.6,305.5 L180.1,290.5 L189.7,275.5 L204.0,260.5 L213.5,245.5 L256.5,230.5 L299.5,215.5 L342.5,200.5 L385.4,185.5 L395.0,170.5 L409.3,155.5 L418.9,140.5 L428.4,125.5 L433.2,110.5 L447.5,95.5 L457.1,80.5 M137.1,365.5 L165.8,350.5 L189.7,335.5 L213.5,320.5 L247.0,305.5 L285.1,290.5 L313.8,275.5 L323.4,260.5 L352.0,245.5 L380.7,230.5 L390.2,215.5 L395.0,200.5 L399.8,185.5 L409.3,170.5 L414.1,155.5 L418.9,140.5 L428.4,125.5 L433.2,110.5 L442.7,95.5 L447.5,80.5 M137.1,365.5 L165.8,350.5 L189.7,335.5 L213.5,320.5 L251.7,305.5 L285.1,290.5 L313.8,275.5 L323.4,260.5 L352.0,245.5 L380.7,230.5 L395.0,215.5 L399.8,200.5 L399.8,185.5 L409.3,170.5 L418.9,155.5 L423.6,140.5 L428.4,125.5 L433.2,110.5 L442.7,95.5 L447.5,80.5 M137.1,365.5 L165.8,350.5 L189.7,335.5 L213.5,320.5 L251.7,305.5 L285.1,290.5 L313.8,275.5 L323.4,260.5 L352.0,245.5 L380.7,230.5 L395.0,215.5 L395.0,200.5 L399.8,185.5 L409.3,170.5 L418.9,155.5 L423.6,140.5 L433.2,125.5 L433.2,110.5 L447.5,95.5 L447.5,80.5 M137.1,365.5 L165.8,350.5 L189.7,335.5 L213.5,320.5 L251.7,305.5 L285.1,290.5 L313.8,275.5 L323.4,260.5 L352.0,245.5 L380.7,230.5 L399.8,215.5 L399.8,200.5 L404.5,185.5 L409.3,170.5 L418.9,155.5 L423.6,140.5 L433.2,125.5 L438.0,110.5 L447.5,95.5 L452.3,80.5 M137.1,365.5 L165.8,350.5 L189.7,335.5 L213.5,320.5 L251.7,305.5 L285.1,290.5 L313.8,275.5 L323.4,260.5 L352.0,245.5 L380.7,230.5 L395.0,215.5 L399.8,200.5 L404.5,185.5 L414.1,170.5 L423.6,155.5 L428.4,140.5 L433.2,125.5 L438.0,110.5 L452.3,95.5 L452.3,80.5 M141.9,365.5 L170.6,350.5 L194.4,335.5 L218.3,320.5 L256.5,305.5 L294.7,290.5 L313.8,275.5 L328.1,260.5 L356.8,245.5 L385.4,230.5 L418.9,215.5 L447.5,200.5 L480.9,185.5 L519.1,170.5 L538.2,155.5 L543.0,140.5 L552.5,125.5 L562.1,110.5 L566.9,95.5 L576.4,80.5 M141.9,365.5 L170.6,350.5 L194.4,335.5 L213.5,320.5 L251.7,305.5 L289.9,290.5 L313.8,275.5 L328.1,260.5 L352.0,245.5 L380.7,230.5 L418.9,215.5 L442.7,200.5 L476.2,185.5 L519.1,170.5 L533.5,155.5 L543.0,140.5 L552.5,125.5 L562.1,110.5 L571.7,95.5 L576.4,80.5 M137.1,365.5 L161.0,350.5 L184.9,335.5 L204.0,320.5 L227.9,305.5 L242.2,290.5 L261.3,275.5 L275.6,260.5 L289.9,245.5 L304.2,230.5 L332.9,215.5 L361.6,200.5 L399.8,185.5 L442.7,170.5 L480.9,155.5 L509.6,140.5 L519.1,125.5 L528.7,110.5 L547.8,95.5 L562.1,80.5 M137.1,365.5 L165.8,350.5 L189.7,335.5 L208.8,320.5 L227.9,305.5 L247.0,290.5 L266.1,275.5 L280.4,260.5 L294.7,245.5 L313.8,230.5 L337.7,215.5 L366.3,200.5 L414.1,185.5 L447.5,170.5 L485.7,155.5 L509.6,140.5 L519.1,125.5 L533.5,110.5 L547.8,95.5 L566.9,80.5 M132.4,365.5 L156.2,350.5 L184.9,335.5 L204.0,320.5 L223.1,305.5 L237.4,290.5 L256.5,275.5 L270.8,260.5 L285.1,245.5 L299.5,230.5 L328.1,215.5 L356.8,200.5 L390.2,185.5 L433.2,170.5 L476.2,155.5 L504.8,140.5 L519.1,125.5 L538.2,110.5 L557.3,95.5 L576.4,80.5"/>
</g>
<g fill="none" stroke="#000" stroke-width="1" shape-rendering="crispEdges">
<path d="M102.5,365.5 L113.5,350.5 M103.5,365.5 L114.5,350.5 M113.5,350.5 L123.5,335.5 M114.5,350.5 L124.5,335.5 M123.5,335.5 L136.5,320.5 M124.5,335.5 L137.5,320.5 M137.5,320.5 L157.5,305.5 M137.5,321.5 L157.5,306.5 M156.5,305.5 L163.5,290.5 M157.5,305.5 L164.5,290.5 M163.5,290.5 L171.5,275.5 M164.5,290.5 L172.5,275.5 M171.5,275.5 L181.5,260.5 M172.5,275.5 L182.5,260.5 M181.5,260.5 L193.5,245.5 M182.5,260.5 L194.5,245.5 M193.5,245.5 L203.5,230.5 M194.5,245.5 L204.5,230.5 M203.5,230.5 L213.5,215.5 M204.5,230.5 L214.5,215.5 M214.5,215.5 L234.5,200.5 M214.5,216.5 L234.5,201.5 M233.5,200.5 L244.5,185.5 M234.5,200.5 L245.5,185.5 M244.5,185.5 L251.5,170.5 M245.5,185.5 L252.5,170.5 M251.5,170.5 L261.5,155.5 M252.5,170.5 L262.5,155.5 M261.5,155.5 L269.5,140.5 M262.5,155.5 L270.5,140.5 M269.5,140.5 L274.5,125.5 M270.5,140.5 L275.5,125.5 M274.5,125.5 L285.5,110.5 M275.5,125.5 L286.5,110.5 M286.5,110.5 L314.5,95.5 M286.5,111.5 L314.5,96.5 M313.5,95.5 L317.5,80.5 M314.5,95.5 L318.5,80.5"/>
<path d="M102.5,365.5 L114.5,350.5 M103.5,365.5 L115.5,350.5 M114.5,350.5 L127.5,335.5 M115.5,350.5 L128.5,335.5 M128.5,335.5 L145.5,320.5 M128.5,336.5 L145.5,321.5 M145.5,320.5 L177.5,305.5 M145.5,321.5 L177.5,306.5 M176.5,305.5 L184.5,290.5 M177.5,305.5 L185.5,290.5 M184.5,290.5 L199.5,275.5 M185.5,290.5 L200.5,275.5 M199.5,275.5 L211.5,260.5 M200.5,275.5 L212.5,260.5 M211.5,260.5 L221.5,245.5 M212.5,260.5 L222.5,245.5 M221.5,245.5 L234.5,230.5 M222.5,245.5 L235.5,230.5 M234.5,230.5 L243.5,215.5 M235.5,230.5 L244.5,215.5 M244.5,215.5 L264.5,200.5 M244.5,216.5 L264.5,201.5 M263.5,200.5 L265.5,185.5 M264.5,200.5 L266.5,185.5 M265.5,185.5 L269.5,170.5 M266.5,185.5 L270.5,170.5 M269.5,170.5 L281.5,155.5 M270.5,170.5 L282.5,155.5 M281.5,155.5 L289.5,140.5 M282.5,155.5 L290.5,140.5 M289.5,140.5 L298.5,125.5 M290.5,140.5 L299.5,125.5 M299.5,125.5 L315.5,110.5 M299.5,126.5 L315.5,111.5 M314.5,110.5 L329.5,95.5 M315.5,110.5 L330.5,95.5 M330.5,95.5 L351.5,80.5 M330.5,96.5 L351.5,81.5"/>
<path d="M122.5,365.5 L135.5,350.5 M123.5,365.5 L136.5,350.5 M135.5,350.5 L150.5,335.5 M136.5,350.5 L151.5,335.5 M150.5,335.5 L150.5,320.5 M151.5,335.5 L151.5,320.5 M150.5,320.5 L157.5,305.5 M151.5,320.5 L158.5,305.5 M157.5,305.5 L165.5,290.5 M158.5,305.5 L166.5,290.5 M165.5,290.5 L171.5,275.5 M166.5,290.5 L172.5,275.5 M171.5,275.5 L186.5,260.5 M172.5,275.5 L187.5,260.5 M186.5,260.5 L198.5,245.5 M187.5,260.5 L199.5,245.5 M198.5,245.5 L208.5,230.5 M199.5,245.5 L209.5,230.5 M208.5,230.5 L218.5,215.5 M209.5,230.5 L219.5,215.5 M219.5,215.5 L239.5,200.5 M219.5,216.5 L239.5,201.5 M238.5,200.5 L249.5,185.5 M239.5,200.5 L250.5,185.5 M249.5,185.5 L259.5,170.5 M250.5,185.5 L260.5,170.5 M259.5,170.5 L274.5,155.5 M260.5,170.5 L275.5,155.5 M275.5,155.5 L292.5,140.5 M275.5,156.5 L292.5,141.5 M291.5,140.5 L293.5,125.5 M292.5,140.5 L294.5,125.5 M293.5,125.5 L305.5,110.5 M294.5,125.5 L306.5,110.5 M306.5,110.5 L325.5,95.5 M306.5,111.5 L325.5,96.5 M324.5,95.5 L330.5,80.5 M325.5,95.5 L331.5,80.5"/>
<path d="M126.5,365.5 L136.5,350.5 M127.5,365.5 L137.5,350.5 M137.5,350.5 L163.5,335.5 M137.5,351.5 L163.5,336.5 M162.5,335.5 L174.5,320.5 M163.5,335.5 L175.5,320.5 M174.5,320.5 L179.5,305.5 M175.5,320.5 L180.5,305.5 M179.5,305.5 L194.5,290.5 M180.5,305.5 L195.5,290.5 M194.5,290.5 L202.5,275.5 M195.5,290.5 L203.5,275.5 M202.5,275.5 L209.5,260.5 M203.5,275.5 L210.5,260.5 M209.5,260.5 L221.5,245.5 M210.5,260.5 L222.5,245.5 M221.5,245.5 L236.5,230.5 M222.5,245.5 L237.5,230.5 M237.5,230.5 L259.5,215.5 M237.5,231.5 L259.5,216.5 M258.5,215.5 L269.5,200.5 M259.5,215.5 L270.5,200.5 M269.5,200.5 L281.5,185.5 M270.5,200.5 L282.5,185.5 M281.5,185.5 L288.5,170.5 M282.5,185.5 L289.5,170.5 M288.5,170.5 L288.5,155.5 M289.5,170.5 L289.5,155.5 M288.5,155.5 L294.5,140.5 M289.5,155.5 L295.5,140.5 M294.5,140.5 L304.5,125.5 M295.5,140.5 L305.5,125.5 M304.5,125.5 L307.5,110.5 M305.5,125.5 L308.5,110.5 M308.5,110.5 L331.5,95.5 M308.5,111.5 L331.5,96.5 M330.5,95.5 L335.5,80.5 M331.5,95.5 L336.5,80.5"/>
</g>
<path fill="none" stroke="#0000ff" stroke-width="1" shape-rendering="crispEdges" d="M103.5,365.5 L136.5,350.5 M103.5,366.5 L136.5,351.5 M135.5,350.5 L139.5,335.5 M136.5,350.5 L140.5,335.5 M139.5,335.5 L149.5,320.5 M140.5,335.5 L150.5,320.5 M149.5,320.5 L158.5,305.5 M150.5,320.5 L159.5,305.5 M159.5,305.5 L175.5,290.5 M159.5,306.5 L175.5,291.5 M175.5,290.5 L199.5,275.5 M175.5,291.5 L199.5,276.5 M199.5,275.5 L218.5,260.5 M199.5,276.5 L218.5,261.5 M218.5,260.5 L234.5,245.5 M218.5,261.5 L234.5,246.5 M234.5,245.5 L252.5,230.5 M234.5,246.5 L252.5,231.5 M252.5,230.5 L278.5,215.5 M252.5,231.5 L278.5,216.5 M278.5,215.5 L312.5,200.5 M278.5,216.5 L312.5,201.5 M312.5,200.5 L330.5,185.5 M312.5,201.5 L330.5,186.5 M329.5,185.5 L338.5,170.5 M330.5,185.5 L339.5,170.5 M338.5,170.5 L347.5,155.5 M339.5,170.5 L348.5,155.5 M347.5,155.5 L350.5,140.5 M348.5,155.5 L351.5,140.5 M350.5,140.5 L365.5,125.5 M351.5,140.5 L366.5,125.5 M365.5,125.5 L371.5,110.5 M366.5,125.5 L372.5,110.5 M371.5,110.5 L380.5,95.5 M372.5,110.5 L381.5,95.5 M380.5,95.5 L384.5,80.5 M381.5,95.5 L385.5,80.5"/>
<g stroke="#000" stroke-width="1" fill="none" shape-rendering="crispEdges">
<rect x="65.5" y="65.5" width="550" height="310"/>
<path d="M128.5,375 v-5 M128.5,65 v6"/>
<path d="M181.5,375 v-10 M181.5,65 v11"/>
<path d="M234.5,375 v-5 M234.5,65 v6"/>
<path d="M287.5,375 v-10 M287.5,65 v11"/>
<path d="M340.5,375 v-5 M340.5,65 v6"/>
<path d="M393.5,375 v-10 M393.5,65 v11"/>
<path d="M446.5,375 v-5 M446.5,65 v6"/>
<path d="M499.5,375 v-10 M499.5,65 v11"/>
<path d="M552.5,375 v-5 M552.5,65 v6"/>
<path d="M605.5,375 v-10 M605.5,65 v11"/>
<path d="M65,75.5 h11 M615,75.5 h-10"/>
<path d="M65,104.5 h6 M615,104.5 h-5"/>
<path d="M65,133.5 h6 M615,133.5 h-5"/>
<path d="M65,162.5 h6 M615,162.5 h-5"/>
<path d="M65,191.5 h6 M615,191.5 h-5"/>
<path d="M65,220.5 h11 M615,220.5 h-10"/>
<path d="M65,249.5 h6 M615,249.5 h-5"/>
<path d="M65,278.5 h6 M615,278.5 h-5"/>
<path d="M65,307.5 h6 M615,307.5 h-5"/>
<path d="M65,336.5 h6 M615,336.5 h-5"/>
</g>
<text x="348.2" y="30" text-anchor="middle">T0991-D1</text>
<text x="334.8" y="420" text-anchor="middle">Percent of Residues (CA)</text>
<text class="yl" transform="translate(30,232.5) rotate(-90)" text-anchor="middle">Distance Cutoff, A</text>
<g class="tk">
<text x="65" y="395" text-anchor="middle">0</text>
<text x="180.3" y="395" text-anchor="middle">20</text>
<text x="286.3" y="395" text-anchor="middle">40</text>
<text x="392.3" y="395" text-anchor="middle">60</text>
<text x="498.3" y="395" text-anchor="middle">80</text>
<text x="609.3" y="395" text-anchor="middle">100</text>
<text transform="translate(55,375) rotate(-90)" text-anchor="middle">0</text>
<text transform="translate(55,220) rotate(-90)" text-anchor="middle">5</text>
<text transform="translate(55,65) rotate(-90)" text-anchor="middle">10</text>
</g>
</svg>
</body></html>
